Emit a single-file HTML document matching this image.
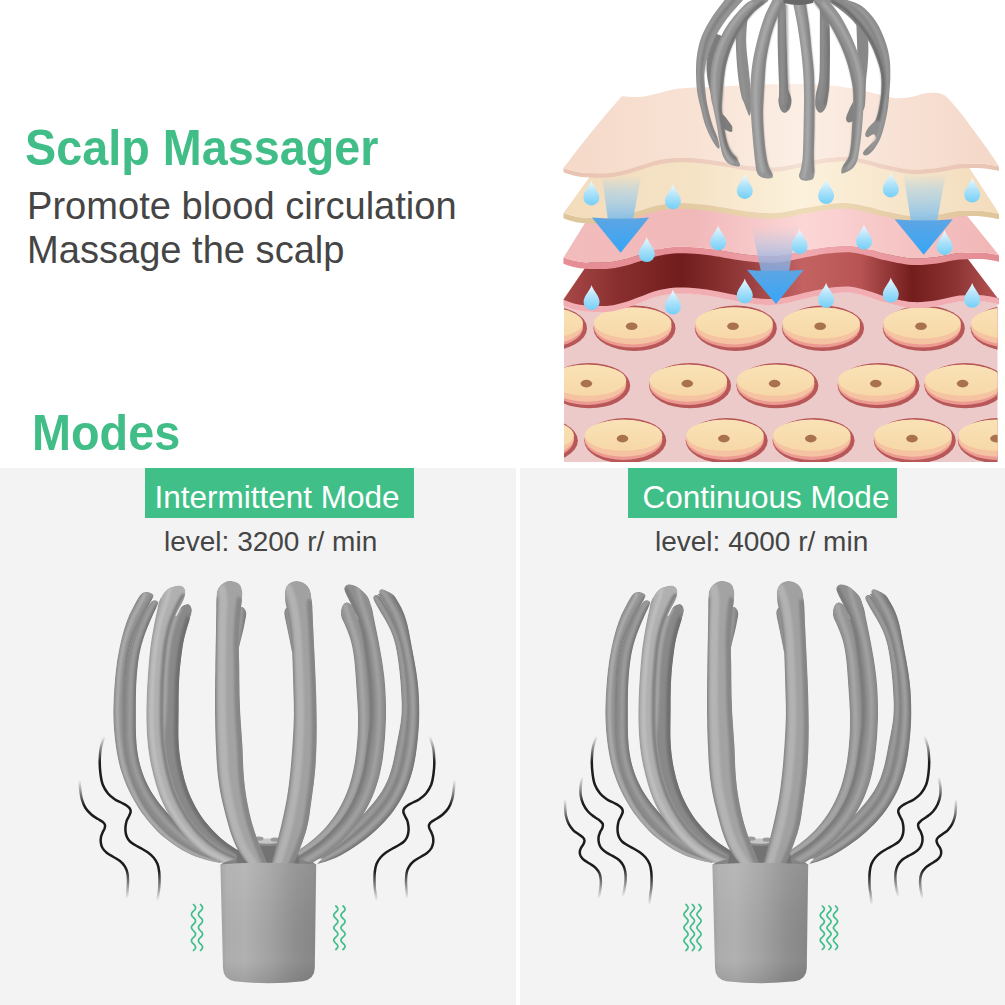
<!DOCTYPE html>
<html><head><meta charset="utf-8">
<style>
html,body{margin:0;padding:0;background:#fff;}
body{width:1005px;height:1005px;position:relative;overflow:hidden;font-family:"Liberation Sans",sans-serif;}
.abs{position:absolute;white-space:nowrap;line-height:1;transform-origin:0 0;}
.g{color:#41bd88;font-weight:bold;}
.d{color:#454545;}
.panel{position:absolute;background:#f3f3f3;top:468px;height:537px;}
.lab{position:absolute;background:#41bf88;top:468px;height:50px;}
.lt{color:#fff;font-size:31.5px;}
</style></head><body>
<div class="panel" style="left:0;width:516px"></div>
<div class="panel" style="left:520px;width:485px"></div>
<div class="abs g" style="left:25px;top:123px;font-size:50px;transform:scaleX(0.935)">Scalp Massager</div>
<div class="abs d" style="left:27px;top:187px;font-size:38.1px;">Promote blood circulation</div>
<div class="abs d" style="left:27px;top:230.5px;font-size:38.1px;">Massage the scalp</div>
<div class="abs g" style="left:32px;top:408px;font-size:50px;transform:scaleX(0.936)">Modes</div>
<div class="lab" style="left:145px;width:269px;"></div>
<div class="lab" style="left:628px;width:269px;"></div>
<div class="abs lt" style="left:154.5px;top:482px;">Intermittent Mode</div>
<div class="abs lt" style="left:642.5px;top:482px;">Continuous Mode</div>
<div class="abs d" style="left:164px;top:527.5px;font-size:28px;">level: 3200 r/ min</div>
<div class="abs d" style="left:655px;top:527.5px;font-size:28px;">level: 4000 r/ min</div>
<svg id="art" width="1005" height="1005" viewBox="0 0 1005 1005" style="position:absolute;left:0;top:0">
<defs>
<linearGradient id="gDrop" x1="0" y1="0" x2="0" y2="1"><stop offset="0" stop-color="#eefaff"/><stop offset="0.45" stop-color="#b3e4fa"/><stop offset="1" stop-color="#74cff8"/></linearGradient>
<linearGradient id="gHead" x1="0" y1="0" x2="0" y2="1"><stop offset="0" stop-color="#5ea5e2"/><stop offset="1" stop-color="#35a6f8"/></linearGradient>
<linearGradient id="gShaft" x1="0" y1="0" x2="0" y2="1"><stop offset="0" stop-color="#9ccdea" stop-opacity="0"/><stop offset="0.35" stop-color="#a5d0ea" stop-opacity="0.55"/><stop offset="1" stop-color="#86bfe8" stop-opacity="0.95"/></linearGradient>
<linearGradient id="gShaft3" x1="0" y1="0" x2="0" y2="1"><stop offset="0" stop-color="#c8c8e0" stop-opacity="0"/><stop offset="0.4" stop-color="#b8c4e4" stop-opacity="0.6"/><stop offset="1" stop-color="#7ea6dc" stop-opacity="0.95"/></linearGradient>
<linearGradient id="gRed" x1="564" y1="0" x2="999" y2="0" gradientUnits="userSpaceOnUse">
 <stop offset="0" stop-color="#a84848"/><stop offset="0.12" stop-color="#8a2f2f"/><stop offset="0.27" stop-color="#711d1d"/><stop offset="0.40" stop-color="#913838"/><stop offset="0.55" stop-color="#c46262"/><stop offset="0.68" stop-color="#b85454"/><stop offset="0.80" stop-color="#741d1d"/><stop offset="0.90" stop-color="#8c3333"/><stop offset="1" stop-color="#b85454"/></linearGradient>
<linearGradient id="gL1" x1="564" y1="0" x2="999" y2="0" gradientUnits="userSpaceOnUse"><stop offset="0" stop-color="#f5d9c9"/><stop offset="0.3" stop-color="#f8e2d4"/><stop offset="0.55" stop-color="#fcefe6"/><stop offset="0.8" stop-color="#f7dfd2"/><stop offset="1" stop-color="#f4d8c8"/></linearGradient>
<linearGradient id="gL2" x1="564" y1="0" x2="999" y2="0" gradientUnits="userSpaceOnUse"><stop offset="0" stop-color="#f3dcbc"/><stop offset="0.3" stop-color="#f5e3c6"/><stop offset="0.55" stop-color="#fcf1dc"/><stop offset="0.8" stop-color="#f6e4c8"/><stop offset="1" stop-color="#f3dcbc"/></linearGradient>
<linearGradient id="gL3" x1="564" y1="0" x2="999" y2="0" gradientUnits="userSpaceOnUse"><stop offset="0" stop-color="#f3bcbc"/><stop offset="0.3" stop-color="#f1b8ba"/><stop offset="0.55" stop-color="#fcd6d6"/><stop offset="0.8" stop-color="#f5c2c2"/><stop offset="1" stop-color="#f1b6b6"/></linearGradient>
<linearGradient id="gF1" x1="564" y1="0" x2="999" y2="0" gradientUnits="userSpaceOnUse"><stop offset="0" stop-color="#eac4b3"/><stop offset="0.3" stop-color="#eccbbb"/><stop offset="0.55" stop-color="#f4e0d4"/><stop offset="0.8" stop-color="#eccbbb"/><stop offset="1" stop-color="#e9c3b2"/></linearGradient>
<linearGradient id="gF2" x1="564" y1="0" x2="999" y2="0" gradientUnits="userSpaceOnUse"><stop offset="0" stop-color="#dfc59a"/><stop offset="0.3" stop-color="#e3cba2"/><stop offset="0.55" stop-color="#eedcb8"/><stop offset="0.8" stop-color="#e4cca4"/><stop offset="1" stop-color="#dfc59a"/></linearGradient>
<linearGradient id="gF3" x1="564" y1="0" x2="999" y2="0" gradientUnits="userSpaceOnUse"><stop offset="0" stop-color="#e58e96"/><stop offset="0.3" stop-color="#e68f97"/><stop offset="0.55" stop-color="#f0a9af"/><stop offset="0.8" stop-color="#e8949b"/><stop offset="1" stop-color="#e48c94"/></linearGradient>
<linearGradient id="gCell" x1="0" y1="0" x2="0" y2="1"><stop offset="0" stop-color="#f9e2b6"/><stop offset="1" stop-color="#f7d8a8"/></linearGradient>
<clipPath id="cBlock"><rect x="564" y="280" width="433.5" height="182"/></clipPath>
</defs>
<g clip-path="url(#cBlock)">
<path d="M563.5,305.5 C566.2,306.3 572.9,309.5 580.0,310.5 C587.1,311.6 598.8,312.0 606.0,311.6 C613.2,311.3 617.3,310.0 623.0,308.5 C628.7,307.0 634.4,304.5 640.0,302.5 C645.6,300.5 651.0,297.9 656.5,296.4 C662.0,294.9 667.4,293.9 673.0,293.4 C678.6,292.9 684.3,293.1 690.0,293.4 C695.7,293.7 701.3,294.5 707.0,295.3 C712.7,296.1 717.7,297.2 724.0,298.4 C730.3,299.6 738.2,301.5 745.0,302.5 C751.8,303.5 758.8,304.4 765.0,304.7 C771.2,304.9 775.4,304.9 782.0,303.8 C788.6,302.8 797.0,300.1 804.5,298.4 C812.0,296.8 819.6,294.9 827.0,293.9 C834.4,292.8 841.8,291.8 849.0,292.3 C856.2,292.8 864.0,295.5 870.0,297.1 C876.0,298.7 878.0,300.1 885.0,301.9 C892.0,303.7 903.3,307.0 912.0,307.7 C920.7,308.3 929.1,306.9 937.0,305.9 C944.9,304.8 952.0,302.1 959.5,301.3 C967.0,300.5 975.4,300.5 982.0,300.9 C988.6,301.4 996.2,303.5 999.0,304.1 L997.5,462 L564,462 Z" fill="#eccaca"/>
<ellipse cx="546.0" cy="328.3" rx="41" ry="22.7" fill="#b75757"/>
<ellipse cx="544.2" cy="327.5" rx="38.8" ry="20.1" fill="#ec9a92"/>
<ellipse cx="544.2" cy="325.9" rx="38.8" ry="18.5" fill="#f5c3a2"/>
<ellipse cx="544.2" cy="322.9" rx="38.8" ry="15.5" fill="url(#gCell)"/>
<ellipse cx="543.2" cy="326.3" rx="5.8" ry="3.8" fill="#a9724e"/>
<ellipse cx="634.5" cy="328.3" rx="41" ry="22.7" fill="#b75757"/>
<ellipse cx="632.7" cy="327.5" rx="38.8" ry="20.1" fill="#ec9a92"/>
<ellipse cx="632.7" cy="325.9" rx="38.8" ry="18.5" fill="#f5c3a2"/>
<ellipse cx="632.7" cy="322.9" rx="38.8" ry="15.5" fill="url(#gCell)"/>
<ellipse cx="631.7" cy="326.3" rx="5.8" ry="3.8" fill="#a9724e"/>
<ellipse cx="735.8" cy="328.3" rx="41" ry="22.7" fill="#b75757"/>
<ellipse cx="734.0" cy="327.5" rx="38.8" ry="20.1" fill="#ec9a92"/>
<ellipse cx="734.0" cy="325.9" rx="38.8" ry="18.5" fill="#f5c3a2"/>
<ellipse cx="734.0" cy="322.9" rx="38.8" ry="15.5" fill="url(#gCell)"/>
<ellipse cx="733.0" cy="326.3" rx="5.8" ry="3.8" fill="#a9724e"/>
<ellipse cx="823.0" cy="328.3" rx="41" ry="22.7" fill="#b75757"/>
<ellipse cx="821.2" cy="327.5" rx="38.8" ry="20.1" fill="#ec9a92"/>
<ellipse cx="821.2" cy="325.9" rx="38.8" ry="18.5" fill="#f5c3a2"/>
<ellipse cx="821.2" cy="322.9" rx="38.8" ry="15.5" fill="url(#gCell)"/>
<ellipse cx="820.2" cy="326.3" rx="5.8" ry="3.8" fill="#a9724e"/>
<ellipse cx="923.8" cy="328.3" rx="41" ry="22.7" fill="#b75757"/>
<ellipse cx="922.0" cy="327.5" rx="38.8" ry="20.1" fill="#ec9a92"/>
<ellipse cx="922.0" cy="325.9" rx="38.8" ry="18.5" fill="#f5c3a2"/>
<ellipse cx="922.0" cy="322.9" rx="38.8" ry="15.5" fill="url(#gCell)"/>
<ellipse cx="921.0" cy="326.3" rx="5.8" ry="3.8" fill="#a9724e"/>
<ellipse cx="1011.6" cy="328.3" rx="41" ry="22.7" fill="#b75757"/>
<ellipse cx="1009.8" cy="327.5" rx="38.8" ry="20.1" fill="#ec9a92"/>
<ellipse cx="1009.8" cy="325.9" rx="38.8" ry="18.5" fill="#f5c3a2"/>
<ellipse cx="1009.8" cy="322.9" rx="38.8" ry="15.5" fill="url(#gCell)"/>
<ellipse cx="1008.8" cy="326.3" rx="5.8" ry="3.8" fill="#a9724e"/>
<ellipse cx="589.2" cy="385.6" rx="41" ry="22.7" fill="#b75757"/>
<ellipse cx="587.4" cy="384.8" rx="38.8" ry="20.1" fill="#ec9a92"/>
<ellipse cx="587.4" cy="383.2" rx="38.8" ry="18.5" fill="#f5c3a2"/>
<ellipse cx="587.4" cy="380.2" rx="38.8" ry="15.5" fill="url(#gCell)"/>
<ellipse cx="586.4" cy="383.6" rx="5.8" ry="3.8" fill="#a9724e"/>
<ellipse cx="690.1" cy="385.6" rx="41" ry="22.7" fill="#b75757"/>
<ellipse cx="688.3" cy="384.8" rx="38.8" ry="20.1" fill="#ec9a92"/>
<ellipse cx="688.3" cy="383.2" rx="38.8" ry="18.5" fill="#f5c3a2"/>
<ellipse cx="688.3" cy="380.2" rx="38.8" ry="15.5" fill="url(#gCell)"/>
<ellipse cx="687.3" cy="383.6" rx="5.8" ry="3.8" fill="#a9724e"/>
<ellipse cx="777.4" cy="385.6" rx="41" ry="22.7" fill="#b75757"/>
<ellipse cx="775.6" cy="384.8" rx="38.8" ry="20.1" fill="#ec9a92"/>
<ellipse cx="775.6" cy="383.2" rx="38.8" ry="18.5" fill="#f5c3a2"/>
<ellipse cx="775.6" cy="380.2" rx="38.8" ry="15.5" fill="url(#gCell)"/>
<ellipse cx="774.6" cy="383.6" rx="5.8" ry="3.8" fill="#a9724e"/>
<ellipse cx="878.6" cy="385.6" rx="41" ry="22.7" fill="#b75757"/>
<ellipse cx="876.8" cy="384.8" rx="38.8" ry="20.1" fill="#ec9a92"/>
<ellipse cx="876.8" cy="383.2" rx="38.8" ry="18.5" fill="#f5c3a2"/>
<ellipse cx="876.8" cy="380.2" rx="38.8" ry="15.5" fill="url(#gCell)"/>
<ellipse cx="875.8" cy="383.6" rx="5.8" ry="3.8" fill="#a9724e"/>
<ellipse cx="965.4" cy="385.6" rx="41" ry="22.7" fill="#b75757"/>
<ellipse cx="963.6" cy="384.8" rx="38.8" ry="20.1" fill="#ec9a92"/>
<ellipse cx="963.6" cy="383.2" rx="38.8" ry="18.5" fill="#f5c3a2"/>
<ellipse cx="963.6" cy="380.2" rx="38.8" ry="15.5" fill="url(#gCell)"/>
<ellipse cx="962.6" cy="383.6" rx="5.8" ry="3.8" fill="#a9724e"/>
<ellipse cx="536.9" cy="440.6" rx="41" ry="22.7" fill="#b75757"/>
<ellipse cx="535.1" cy="439.8" rx="38.8" ry="20.1" fill="#ec9a92"/>
<ellipse cx="535.1" cy="438.2" rx="38.8" ry="18.5" fill="#f5c3a2"/>
<ellipse cx="535.1" cy="435.2" rx="38.8" ry="15.5" fill="url(#gCell)"/>
<ellipse cx="534.1" cy="438.6" rx="5.8" ry="3.8" fill="#a9724e"/>
<ellipse cx="625.3" cy="440.6" rx="41" ry="22.7" fill="#b75757"/>
<ellipse cx="623.5" cy="439.8" rx="38.8" ry="20.1" fill="#ec9a92"/>
<ellipse cx="623.5" cy="438.2" rx="38.8" ry="18.5" fill="#f5c3a2"/>
<ellipse cx="623.5" cy="435.2" rx="38.8" ry="15.5" fill="url(#gCell)"/>
<ellipse cx="622.5" cy="438.6" rx="5.8" ry="3.8" fill="#a9724e"/>
<ellipse cx="726.7" cy="440.6" rx="41" ry="22.7" fill="#b75757"/>
<ellipse cx="724.9" cy="439.8" rx="38.8" ry="20.1" fill="#ec9a92"/>
<ellipse cx="724.9" cy="438.2" rx="38.8" ry="18.5" fill="#f5c3a2"/>
<ellipse cx="724.9" cy="435.2" rx="38.8" ry="15.5" fill="url(#gCell)"/>
<ellipse cx="723.9" cy="438.6" rx="5.8" ry="3.8" fill="#a9724e"/>
<ellipse cx="813.6" cy="440.6" rx="41" ry="22.7" fill="#b75757"/>
<ellipse cx="811.8" cy="439.8" rx="38.8" ry="20.1" fill="#ec9a92"/>
<ellipse cx="811.8" cy="438.2" rx="38.8" ry="18.5" fill="#f5c3a2"/>
<ellipse cx="811.8" cy="435.2" rx="38.8" ry="15.5" fill="url(#gCell)"/>
<ellipse cx="810.8" cy="438.6" rx="5.8" ry="3.8" fill="#a9724e"/>
<ellipse cx="914.8" cy="440.6" rx="41" ry="22.7" fill="#b75757"/>
<ellipse cx="913.0" cy="439.8" rx="38.8" ry="20.1" fill="#ec9a92"/>
<ellipse cx="913.0" cy="438.2" rx="38.8" ry="18.5" fill="#f5c3a2"/>
<ellipse cx="913.0" cy="435.2" rx="38.8" ry="15.5" fill="url(#gCell)"/>
<ellipse cx="912.0" cy="438.6" rx="5.8" ry="3.8" fill="#a9724e"/>
<ellipse cx="998.8" cy="440.6" rx="41" ry="22.7" fill="#b75757"/>
<ellipse cx="997.0" cy="439.8" rx="38.8" ry="20.1" fill="#ec9a92"/>
<ellipse cx="997.0" cy="438.2" rx="38.8" ry="18.5" fill="#f5c3a2"/>
<ellipse cx="997.0" cy="435.2" rx="38.8" ry="15.5" fill="url(#gCell)"/>
<ellipse cx="996.0" cy="438.6" rx="5.8" ry="3.8" fill="#a9724e"/>
</g>
<path d="M563.5,305.8 C566.2,306.6 572.9,309.8 580.0,310.8 C587.1,311.9 598.8,312.3 606.0,311.9 C613.2,311.6 617.3,310.3 623.0,308.8 C628.7,307.3 634.4,304.8 640.0,302.8 C645.6,300.8 651.0,298.2 656.5,296.7 C662.0,295.2 667.4,294.2 673.0,293.7 C678.6,293.2 684.3,293.4 690.0,293.7 C695.7,294.0 701.3,294.8 707.0,295.6 C712.7,296.4 717.7,297.5 724.0,298.7 C730.3,299.9 738.2,301.8 745.0,302.8 C751.8,303.8 758.8,304.7 765.0,305.0 C771.2,305.2 775.4,305.2 782.0,304.1 C788.6,303.1 797.0,300.4 804.5,298.7 C812.0,297.1 819.6,295.2 827.0,294.2 C834.4,293.1 841.8,292.1 849.0,292.6 C856.2,293.1 864.0,295.8 870.0,297.4 C876.0,299.0 878.0,300.4 885.0,302.2 C892.0,304.0 903.3,307.3 912.0,308.0 C920.7,308.6 929.1,307.2 937.0,306.2 C944.9,305.1 952.0,302.4 959.5,301.6 C967.0,300.8 975.4,300.8 982.0,301.2 C988.6,301.7 996.2,303.8 999.0,304.4 L999,300 L961,250 L597.7,249.5 L563.5,299 Z" fill="#f1adb2"/>
<path d="M563.5,299.8 C566.2,300.6 572.9,303.8 580.0,304.8 C587.1,305.9 598.8,306.3 606.0,305.9 C613.2,305.6 617.3,304.3 623.0,302.8 C628.7,301.3 634.4,298.8 640.0,296.8 C645.6,294.8 651.0,292.2 656.5,290.7 C662.0,289.2 667.4,288.2 673.0,287.7 C678.6,287.2 684.3,287.4 690.0,287.7 C695.7,288.0 701.3,288.8 707.0,289.6 C712.7,290.4 717.7,291.5 724.0,292.7 C730.3,293.9 738.2,295.8 745.0,296.8 C751.8,297.8 758.8,298.7 765.0,299.0 C771.2,299.2 775.4,299.2 782.0,298.1 C788.6,297.1 797.0,294.4 804.5,292.7 C812.0,291.1 819.6,289.2 827.0,288.2 C834.4,287.1 841.8,286.1 849.0,286.6 C856.2,287.1 864.0,289.8 870.0,291.4 C876.0,293.0 878.0,294.4 885.0,296.2 C892.0,298.0 903.3,301.3 912.0,302.0 C920.7,302.6 929.1,301.2 937.0,300.2 C944.9,299.1 952.0,296.4 959.5,295.6 C967.0,294.8 975.4,294.8 982.0,295.2 C988.6,295.7 996.2,297.8 999.0,298.4 L999,300 L961,250 L597.7,249.5 Z" fill="url(#gRed)"/>
<path d="M563.5,257.5 C566.2,258.2 572.9,260.8 580.0,261.7 C587.1,262.5 598.8,262.8 606.0,262.5 C613.2,262.2 617.3,261.1 623.0,259.8 C628.7,258.6 634.4,256.5 640.0,254.8 C645.6,253.1 651.0,250.9 656.5,249.7 C662.0,248.4 667.4,247.6 673.0,247.1 C678.6,246.7 684.3,246.8 690.0,247.1 C695.7,247.3 701.3,248.0 707.0,248.6 C712.7,249.3 717.7,250.2 724.0,251.2 C730.3,252.2 738.2,253.7 745.0,254.5 C751.8,255.4 758.8,256.1 765.0,256.3 C771.2,256.5 775.4,256.4 782.0,255.5 C788.6,254.7 797.0,252.4 804.5,251.0 C812.0,249.6 819.6,248.0 827.0,247.1 C834.4,246.3 841.8,245.3 849.0,245.8 C856.2,246.2 864.0,248.4 870.0,249.7 C876.0,251.0 878.0,252.2 885.0,253.7 C892.0,255.1 903.3,257.9 912.0,258.4 C920.7,258.9 929.1,257.8 937.0,256.9 C944.9,256.0 952.0,253.7 959.5,253.0 C967.0,252.3 975.4,252.3 982.0,252.6 C988.6,253.0 996.2,254.8 999.0,255.2 L999.0,261.7 C996.2,261.3 988.6,259.5 982.0,259.1 C975.4,258.8 967.0,258.8 959.5,259.5 C952.0,260.2 944.9,262.5 937.0,263.4 C929.1,264.3 920.7,265.4 912.0,264.9 C903.3,264.4 892.0,261.6 885.0,260.2 C878.0,258.7 876.0,257.5 870.0,256.2 C864.0,254.9 856.2,252.7 849.0,252.3 C841.8,251.8 834.4,252.8 827.0,253.6 C819.6,254.5 812.0,256.1 804.5,257.5 C797.0,258.9 788.6,261.2 782.0,262.0 C775.4,262.9 771.2,263.0 765.0,262.8 C758.8,262.6 751.8,261.9 745.0,261.0 C738.2,260.2 730.3,258.7 724.0,257.7 C717.7,256.7 712.7,255.8 707.0,255.1 C701.3,254.5 695.7,253.8 690.0,253.6 C684.3,253.3 678.6,253.2 673.0,253.6 C667.4,254.1 662.0,254.9 656.5,256.2 C651.0,257.4 645.6,259.6 640.0,261.3 C634.4,263.0 628.7,265.1 623.0,266.3 C617.3,267.6 613.2,268.7 606.0,269.0 C598.8,269.3 587.1,269.0 580.0,268.2 C572.9,267.3 566.2,264.7 563.5,264.0 Z" fill="url(#gF3)"/>
<path d="M563.5,257.5 C566.2,258.2 572.9,260.8 580.0,261.7 C587.1,262.5 598.8,262.8 606.0,262.5 C613.2,262.2 617.3,261.1 623.0,259.8 C628.7,258.6 634.4,256.5 640.0,254.8 C645.6,253.1 651.0,250.9 656.5,249.7 C662.0,248.4 667.4,247.6 673.0,247.1 C678.6,246.7 684.3,246.8 690.0,247.1 C695.7,247.3 701.3,248.0 707.0,248.6 C712.7,249.3 717.7,250.2 724.0,251.2 C730.3,252.2 738.2,253.7 745.0,254.5 C751.8,255.4 758.8,256.1 765.0,256.3 C771.2,256.5 775.4,256.4 782.0,255.5 C788.6,254.7 797.0,252.4 804.5,251.0 C812.0,249.6 819.6,248.0 827.0,247.1 C834.4,246.3 841.8,245.3 849.0,245.8 C856.2,246.2 864.0,248.4 870.0,249.7 C876.0,251.0 878.0,252.2 885.0,253.7 C892.0,255.1 903.3,257.9 912.0,258.4 C920.7,258.9 929.1,257.8 937.0,256.9 C944.9,256.0 952.0,253.7 959.5,253.0 C967.0,252.3 975.4,252.3 982.0,252.6 C988.6,253.0 996.2,254.8 999.0,255.2 L951.0,196.0 L601.5,196.5 Z" fill="url(#gL3)"/>
<path d="M563.5,213.0 C566.2,213.7 572.9,216.4 580.0,217.3 C587.1,218.1 598.8,218.5 606.0,218.3 C613.2,218.0 617.3,217.0 623.0,215.7 C628.7,214.5 634.4,212.5 640.0,210.8 C645.6,209.2 651.0,207.0 656.5,205.8 C662.0,204.5 667.4,203.7 673.0,203.4 C678.6,203.0 684.3,203.1 690.0,203.4 C695.7,203.7 701.3,204.4 707.0,205.1 C712.7,205.8 717.7,206.7 724.0,207.8 C730.3,208.8 738.2,210.4 745.0,211.3 C751.8,212.1 758.8,212.9 765.0,213.1 C771.2,213.3 775.4,213.3 782.0,212.5 C788.6,211.7 797.0,209.4 804.5,208.1 C812.0,206.7 819.6,205.2 827.0,204.4 C834.4,203.6 841.8,202.7 849.0,203.2 C856.2,203.7 864.0,205.9 870.0,207.3 C876.0,208.6 878.0,209.8 885.0,211.3 C892.0,212.8 903.3,215.7 912.0,216.2 C920.7,216.8 929.1,215.7 937.0,214.8 C944.9,214.0 952.0,211.8 959.5,211.1 C967.0,210.5 975.4,210.5 982.0,210.9 C988.6,211.3 996.2,213.2 999.0,213.6 L999.0,219.1 C996.2,218.7 988.6,216.8 982.0,216.4 C975.4,216.0 967.0,216.0 959.5,216.6 C952.0,217.3 944.9,219.5 937.0,220.3 C929.1,221.2 920.7,222.3 912.0,221.7 C903.3,221.2 892.0,218.3 885.0,216.8 C878.0,215.3 876.0,214.1 870.0,212.8 C864.0,211.4 856.2,209.2 849.0,208.7 C841.8,208.2 834.4,209.1 827.0,209.9 C819.6,210.7 812.0,212.2 804.5,213.6 C797.0,214.9 788.6,217.2 782.0,218.0 C775.4,218.8 771.2,218.8 765.0,218.6 C758.8,218.4 751.8,217.6 745.0,216.8 C738.2,215.9 730.3,214.3 724.0,213.3 C717.7,212.2 712.7,211.3 707.0,210.6 C701.3,209.9 695.7,209.2 690.0,208.9 C684.3,208.6 678.6,208.5 673.0,208.9 C667.4,209.2 662.0,210.0 656.5,211.3 C651.0,212.5 645.6,214.7 640.0,216.3 C634.4,218.0 628.7,220.0 623.0,221.2 C617.3,222.5 613.2,223.5 606.0,223.8 C598.8,224.0 587.1,223.6 580.0,222.8 C572.9,221.9 566.2,219.2 563.5,218.5 Z" fill="url(#gF2)"/>
<path d="M563.5,213.0 C566.2,213.7 572.9,216.4 580.0,217.3 C587.1,218.1 598.8,218.5 606.0,218.3 C613.2,218.0 617.3,217.0 623.0,215.7 C628.7,214.5 634.4,212.5 640.0,210.8 C645.6,209.2 651.0,207.0 656.5,205.8 C662.0,204.5 667.4,203.7 673.0,203.4 C678.6,203.0 684.3,203.1 690.0,203.4 C695.7,203.7 701.3,204.4 707.0,205.1 C712.7,205.8 717.7,206.7 724.0,207.8 C730.3,208.8 738.2,210.4 745.0,211.3 C751.8,212.1 758.8,212.9 765.0,213.1 C771.2,213.3 775.4,213.3 782.0,212.5 C788.6,211.7 797.0,209.4 804.5,208.1 C812.0,206.7 819.6,205.2 827.0,204.4 C834.4,203.6 841.8,202.7 849.0,203.2 C856.2,203.7 864.0,205.9 870.0,207.3 C876.0,208.6 878.0,209.8 885.0,211.3 C892.0,212.8 903.3,215.7 912.0,216.2 C920.7,216.8 929.1,215.7 937.0,214.8 C944.9,214.0 952.0,211.8 959.5,211.1 C967.0,210.5 975.4,210.5 982.0,210.9 C988.6,211.3 996.2,213.2 999.0,213.6 L959.0,152.0 L608.5,151.0 Z" fill="url(#gL2)"/>
<!--ARROWS-->
<path d="M602.0,176.0 L641.0,176.0 L633.2,219.0 L607.8,219.0 Z" fill="url(#gShaft)"/>
<path d="M591.9,217.4 Q620.5,219.9 649.1,217.4 L620.6,252.8 Z" fill="url(#gHead)"/>
<path d="M903.3,174.0 L945.6,174.0 L937.1,221.0 L911.0,221.0 Z" fill="url(#gShaft)"/>
<path d="M894.6,219.2 Q923.7,221.7 952.8,219.2 L923.7,254.7 Z" fill="url(#gHead)"/>
<path d="M751.5,226.0 L797.0,226.0 L789.0,271.5 L761.0,271.5 Z" fill="url(#gShaft3)"/>
<path d="M747.0,269.8 Q775.4,272.3 803.7,269.8 L776.0,304.0 Z" fill="url(#gHead)"/>
<path d="M563.5,168.1 C566.2,168.8 572.9,171.4 580.0,172.3 C587.1,173.1 598.8,173.4 606.0,173.2 C613.2,172.9 617.3,171.8 623.0,170.5 C628.7,169.3 634.4,167.2 640.0,165.5 C645.6,163.8 651.0,161.7 656.5,160.4 C662.0,159.1 667.4,158.3 673.0,157.9 C678.6,157.5 684.3,157.6 690.0,157.9 C695.7,158.1 701.3,158.7 707.0,159.4 C712.7,160.1 717.7,161.0 724.0,162.0 C730.3,163.0 738.2,164.5 745.0,165.4 C751.8,166.3 758.8,167.0 765.0,167.2 C771.2,167.3 775.4,167.3 782.0,166.4 C788.6,165.6 797.0,163.3 804.5,161.9 C812.0,160.5 819.6,159.0 827.0,158.1 C834.4,157.2 841.8,156.3 849.0,156.8 C856.2,157.2 864.0,159.4 870.0,160.7 C876.0,162.1 878.0,163.3 885.0,164.7 C892.0,166.2 903.3,169.0 912.0,169.5 C920.7,170.0 929.1,168.9 937.0,168.0 C944.9,167.1 952.0,164.8 959.5,164.1 C967.0,163.5 975.4,163.4 982.0,163.8 C988.6,164.2 996.2,166.0 999.0,166.4 L999.0,170.9 C996.2,170.5 988.6,168.7 982.0,168.3 C975.4,167.9 967.0,168.0 959.5,168.6 C952.0,169.3 944.9,171.6 937.0,172.5 C929.1,173.4 920.7,174.5 912.0,174.0 C903.3,173.5 892.0,170.7 885.0,169.2 C878.0,167.8 876.0,166.6 870.0,165.2 C864.0,163.9 856.2,161.7 849.0,161.3 C841.8,160.8 834.4,161.7 827.0,162.6 C819.6,163.5 812.0,165.0 804.5,166.4 C797.0,167.8 788.6,170.1 782.0,170.9 C775.4,171.8 771.2,171.8 765.0,171.7 C758.8,171.5 751.8,170.8 745.0,169.9 C738.2,169.0 730.3,167.5 724.0,166.5 C717.7,165.5 712.7,164.6 707.0,163.9 C701.3,163.2 695.7,162.6 690.0,162.4 C684.3,162.1 678.6,162.0 673.0,162.4 C667.4,162.8 662.0,163.6 656.5,164.9 C651.0,166.2 645.6,168.3 640.0,170.0 C634.4,171.7 628.7,173.8 623.0,175.0 C617.3,176.3 613.2,177.4 606.0,177.7 C598.8,177.9 587.1,177.6 580.0,176.8 C572.9,175.9 566.2,173.3 563.5,172.6 Z" fill="url(#gF1)"/>
<path d="M563.5,168.1 C566.2,168.8 572.9,171.4 580.0,172.3 C587.1,173.1 598.8,173.4 606.0,173.2 C613.2,172.9 617.3,171.8 623.0,170.5 C628.7,169.3 634.4,167.2 640.0,165.5 C645.6,163.8 651.0,161.7 656.5,160.4 C662.0,159.1 667.4,158.3 673.0,157.9 C678.6,157.5 684.3,157.6 690.0,157.9 C695.7,158.1 701.3,158.7 707.0,159.4 C712.7,160.1 717.7,161.0 724.0,162.0 C730.3,163.0 738.2,164.5 745.0,165.4 C751.8,166.3 758.8,167.0 765.0,167.2 C771.2,167.3 775.4,167.3 782.0,166.4 C788.6,165.6 797.0,163.3 804.5,161.9 C812.0,160.5 819.6,159.0 827.0,158.1 C834.4,157.2 841.8,156.3 849.0,156.8 C856.2,157.2 864.0,159.4 870.0,160.7 C876.0,162.1 878.0,163.3 885.0,164.7 C892.0,166.2 903.3,169.0 912.0,169.5 C920.7,170.0 929.1,168.9 937.0,168.0 C944.9,167.1 952.0,164.8 959.5,164.1 C967.0,163.5 975.4,163.4 982.0,163.8 C988.6,164.2 996.2,166.0 999.0,166.4 Q990,152 970.3,125.8 Q958,108 945.0,95.4 C943.6,95.0 940.2,93.1 936.5,92.8 C932.8,92.5 927.2,93.0 923.0,93.7 C918.8,94.4 915.8,96.3 911.0,97.0 C906.2,97.7 901.2,98.7 894.2,97.9 C887.2,97.1 875.8,93.5 868.8,92.0 C861.8,90.5 857.6,89.6 852.0,88.6 C846.4,87.6 843.7,86.8 835.0,86.0 C826.3,85.2 812.5,84.2 800.0,84.0 C787.5,83.8 773.3,84.1 760.0,84.5 C746.7,84.9 731.6,86.0 720.0,86.5 C708.4,87.0 698.1,87.3 690.3,87.8 C682.5,88.3 679.0,88.5 673.4,89.5 C667.8,90.5 662.1,92.5 656.5,93.7 C650.9,95.0 645.4,96.6 639.6,97.0 C633.8,97.4 624.8,96.3 621.8,96.2 Q590,132 563.5,168.1 Z" fill="url(#gL1)"/>
<!--DROPS-->
<path d="M591.4,180.4 C592.6,185.4 599.4,191.4 599.4,197.4 A8.0,8.0 0 0 1 583.4,197.4 C583.4,191.4 590.2,185.4 591.4,180.4 Z" fill="url(#gDrop)"/>
<path d="M672.9,184.3 C674.1,189.3 680.9,195.3 680.9,201.3 A8.0,8.0 0 0 1 664.9,201.3 C664.9,195.3 671.7,189.3 672.9,184.3 Z" fill="url(#gDrop)"/>
<path d="M744.8,173.9 C746.0,178.9 752.8,184.9 752.8,190.9 A8.0,8.0 0 0 1 736.8,190.9 C736.8,184.9 743.6,178.9 744.8,173.9 Z" fill="url(#gDrop)"/>
<path d="M826.1,179.1 C827.3,184.1 834.1,190.1 834.1,196.1 A8.0,8.0 0 0 1 818.1,196.1 C818.1,190.1 824.9,184.1 826.1,179.1 Z" fill="url(#gDrop)"/>
<path d="M890.8,172.4 C892.0,177.4 898.8,183.4 898.8,189.4 A8.0,8.0 0 0 1 882.8,189.4 C882.8,183.4 889.6,177.4 890.8,172.4 Z" fill="url(#gDrop)"/>
<path d="M972.2,177.6 C973.4,182.6 980.2,188.6 980.2,194.6 A8.0,8.0 0 0 1 964.2,194.6 C964.2,188.6 971.0,182.6 972.2,177.6 Z" fill="url(#gDrop)"/>
<path d="M646.8,237.0 C648.0,242.0 654.8,248.0 654.8,254.0 A8.0,8.0 0 0 1 638.8,254.0 C638.8,248.0 645.6,242.0 646.8,237.0 Z" fill="url(#gDrop)"/>
<path d="M718.2,225.4 C719.4,230.4 726.2,236.4 726.2,242.4 A8.0,8.0 0 0 1 710.2,242.4 C710.2,236.4 717.0,230.4 718.2,225.4 Z" fill="url(#gDrop)"/>
<path d="M799.7,229.1 C800.9,234.1 807.7,240.1 807.7,246.1 A8.0,8.0 0 0 1 791.7,246.1 C791.7,240.1 798.5,234.1 799.7,229.1 Z" fill="url(#gDrop)"/>
<path d="M864.0,224.6 C865.2,229.6 872.0,235.6 872.0,241.6 A8.0,8.0 0 0 1 856.0,241.6 C856.0,235.6 862.8,229.6 864.0,224.6 Z" fill="url(#gDrop)"/>
<path d="M944.6,229.9 C945.8,234.9 952.6,240.9 952.6,246.9 A8.0,8.0 0 0 1 936.6,246.9 C936.6,240.9 943.4,234.9 944.6,229.9 Z" fill="url(#gDrop)"/>
<path d="M591.6,285.0 C592.8,290.0 599.6,296.0 599.6,302.0 A8.0,8.0 0 0 1 583.6,302.0 C583.6,296.0 590.4,290.0 591.6,285.0 Z" fill="url(#gDrop)"/>
<path d="M672.9,289.6 C674.1,294.6 680.9,300.6 680.9,306.6 A8.0,8.0 0 0 1 664.9,306.6 C664.9,300.6 671.7,294.6 672.9,289.6 Z" fill="url(#gDrop)"/>
<path d="M744.8,278.4 C746.0,283.4 752.8,289.4 752.8,295.4 A8.0,8.0 0 0 1 736.8,295.4 C736.8,289.4 743.6,283.4 744.8,278.4 Z" fill="url(#gDrop)"/>
<path d="M826.1,282.8 C827.3,287.8 834.1,293.8 834.1,299.8 A8.0,8.0 0 0 1 818.1,299.8 C818.1,293.8 824.9,287.8 826.1,282.8 Z" fill="url(#gDrop)"/>
<path d="M890.8,277.6 C892.0,282.6 898.8,288.6 898.8,294.6 A8.0,8.0 0 0 1 882.8,294.6 C882.8,288.6 889.6,282.6 890.8,277.6 Z" fill="url(#gDrop)"/>
<path d="M972.2,282.8 C973.4,287.8 980.2,293.8 980.2,299.8 A8.0,8.0 0 0 1 964.2,299.8 C964.2,293.8 971.0,287.8 972.2,282.8 Z" fill="url(#gDrop)"/>
<!--TOPMASSAGER-->
<defs><filter id="fbt" x="-30%" y="-10%" width="160%" height="120%"><feGaussianBlur stdDeviation="0.8"/></filter></defs>
<g id="topmass">
<path d="M777.8,0.0 C777.8,8.0 777.6,33.9 777.8,47.8 C778.0,61.7 778.8,75.6 779.0,83.6 C779.2,91.5 779.1,92.5 779.0,95.5 C778.9,98.5 778.1,99.1 778.4,101.5 C778.7,103.9 779.5,108.0 780.7,109.9 C781.9,111.8 783.9,113.2 785.5,112.8 C787.1,112.4 789.3,109.8 790.3,107.5 C791.3,105.2 791.8,101.9 791.5,99.1 C791.2,96.3 789.1,93.3 788.5,90.7 C787.9,88.1 788.2,90.8 787.9,83.6 C787.6,76.4 787.1,61.7 786.7,47.8 C786.3,33.9 785.7,8.0 785.5,0.0 Z" fill="#868686" />
<path d="M781.0,5.0 C781.1,12.5 781.2,35.8 781.5,50.0 C781.8,64.2 782.3,81.0 782.5,90.0 C782.7,99.0 782.5,101.7 782.5,104.0" fill="none" stroke="#959595" stroke-width="2.2" stroke-linecap="round" opacity="0.80" filter="url(#fbt)"/>
<path d="M786.3,5.0 C786.4,14.2 786.7,46.2 787.0,60.0 C787.3,73.8 787.6,81.3 788.0,88.0 C788.4,94.7 789.7,96.5 789.5,100.0 C789.3,103.5 787.4,107.5 787.0,109.0" fill="none" stroke="#666" stroke-width="1.8" stroke-linecap="round" opacity="0.80" filter="url(#fbt)"/>
<path d="M819.9,8.0 C819.9,14.6 820.0,36.2 819.9,47.8 C819.8,59.4 820.0,69.6 819.3,77.6 C818.6,85.5 816.3,90.5 815.7,95.5 C815.1,100.5 814.9,104.6 815.7,107.5 C816.5,110.4 818.7,112.8 820.4,112.8 C822.1,112.8 824.5,110.4 825.8,107.5 C827.1,104.6 827.6,99.5 828.2,95.5 C828.8,91.5 829.1,91.5 829.4,83.6 C829.7,75.6 830.0,58.4 830.0,47.8 C830.0,37.2 829.5,24.6 829.4,20.0 Z" fill="#868686" />
<path d="M822.5,20.0 C822.5,26.7 822.7,49.2 822.5,60.0 C822.3,70.8 822.2,78.3 821.5,85.0 C820.8,91.7 819.0,97.5 818.5,100.0" fill="none" stroke="#959595" stroke-width="2.2" stroke-linecap="round" opacity="0.80" filter="url(#fbt)"/>
<path d="M828.0,28.0 C828.1,33.3 828.6,50.0 828.5,60.0 C828.4,70.0 828.1,80.7 827.5,88.0 C826.9,95.3 825.4,101.3 825.0,104.0" fill="none" stroke="#666" stroke-width="1.8" stroke-linecap="round" opacity="0.80" filter="url(#fbt)"/>
<path d="M737.0,18.0 C736.8,22.0 735.7,32.5 735.8,41.8 C735.9,51.1 736.9,64.8 737.8,73.7 C738.7,82.7 740.3,90.8 741.3,95.5 C742.3,100.2 742.7,99.2 743.7,101.9 C744.7,104.6 746.4,109.2 747.3,111.5 C748.2,113.8 748.7,116.0 749.3,115.7 C749.9,115.5 750.7,113.5 751.0,110.0 C751.3,106.5 751.3,101.0 751.0,95.0 C750.7,89.0 750.0,82.6 749.2,73.7 C748.4,64.8 746.4,51.8 746.2,41.8 C746.0,31.8 747.7,18.6 748.0,14.0 Z" fill="#8c8c8c" />
<path d="M740.0,30.0 C739.9,33.3 739.2,42.5 739.5,50.0 C739.8,57.5 740.6,66.7 741.5,75.0 C742.4,83.3 744.4,95.8 745.0,100.0" fill="none" stroke="#989898" stroke-width="2.5" stroke-linecap="round" opacity="0.80" filter="url(#fbt)"/>
<path d="M715.7,33.4 C714.4,36.8 709.4,47.3 707.9,53.7 C706.4,60.1 706.4,65.6 706.7,71.6 C707.0,77.6 708.2,83.6 709.7,89.6 C711.2,95.6 713.6,101.5 715.7,107.5 C717.8,113.5 720.3,122.0 722.2,125.8 C724.1,129.7 725.4,129.6 727.0,130.6 C728.6,131.6 730.9,132.2 731.8,131.8 C732.7,131.5 732.3,129.5 732.3,128.5 C732.3,127.5 732.9,127.6 731.8,125.8 C730.7,124.0 727.8,120.1 725.8,117.5 C723.8,114.9 721.5,114.0 719.9,110.3 C718.3,106.5 717.0,100.9 716.0,95.0 C715.0,89.1 714.2,81.7 714.0,75.0 C713.8,68.3 713.7,61.5 715.0,55.0 C716.3,48.5 720.8,39.2 722.0,36.0 Z" fill="#7c7c7c" />
<path d="M856.3,21.0 C857.2,21.8 859.9,23.1 861.8,25.9 C863.6,28.7 866.3,33.9 867.4,37.9 C868.5,41.9 868.4,45.2 868.4,49.8 C868.4,54.4 868.0,60.4 867.6,65.7 C867.2,71.0 866.5,74.6 866.0,81.6 C865.5,88.6 865.8,103.3 864.5,107.5 C863.2,111.7 859.2,114.9 858.0,107.0 C856.8,99.1 857.7,70.9 857.5,60.0 C857.3,49.1 857.1,44.8 857.0,41.8 Z" fill="#888888" />
<path d="M853.5,101.0 C852.8,102.5 850.2,107.1 849.0,110.0 C847.8,112.9 846.1,116.4 846.0,118.5 C845.9,120.6 847.2,122.1 848.5,122.5 C849.8,122.9 853.1,121.2 854.0,121.0 Z" fill="#828282" />
<path d="M724.6,0.0 C722.4,3.0 715.3,11.9 711.5,17.9 C707.7,23.9 704.3,29.8 701.9,35.8 C699.5,41.8 698.2,47.7 697.2,53.7 C696.2,59.7 696.0,65.2 696.0,71.6 C696.0,78.0 696.4,86.0 697.2,92.0 C698.0,98.0 699.3,102.3 700.7,107.9 C702.1,113.5 703.5,120.2 705.5,125.8 C707.5,131.4 710.6,137.5 712.7,141.3 C714.8,145.1 717.0,147.7 718.1,148.5 C719.2,149.3 719.7,147.8 719.6,146.0 C719.5,144.2 718.6,141.2 717.5,137.8 C716.4,134.4 714.3,130.8 712.7,125.8 C711.1,120.8 709.1,113.5 707.9,107.9 C706.7,102.3 706.1,98.0 705.5,92.0 C704.9,86.0 704.0,78.0 704.5,71.6 C705.0,65.2 706.6,59.7 708.5,53.7 C710.4,47.7 712.9,41.8 716.0,35.8 C719.1,29.8 722.9,24.0 727.4,18.0 C731.9,12.0 740.4,3.0 743.0,0.0 Z" fill="#909090" />
<path d="M729.0,0.0 C726.6,3.0 718.5,12.0 714.5,18.0 C710.5,24.0 707.4,30.0 705.0,36.0 C702.6,42.0 701.3,48.0 700.3,54.0 C699.3,60.0 699.2,65.7 699.2,72.0 C699.2,78.3 699.7,86.0 700.5,92.0 C701.3,98.0 702.6,102.3 704.0,108.0 C705.4,113.7 707.2,120.7 709.0,126.0 C710.8,131.3 714.0,137.7 715.0,140.0" fill="none" stroke="#a0a0a0" stroke-width="2.2" stroke-linecap="round" opacity="0.90" filter="url(#fbt)"/>
<path d="M734.0,0.0 C731.5,3.0 723.2,12.0 719.0,18.0 C714.8,24.0 711.1,30.0 708.5,36.0 C705.9,42.0 704.7,48.0 703.5,54.0 C702.3,60.0 701.4,65.7 701.2,72.0 C701.0,78.3 701.7,86.0 702.5,92.0 C703.3,98.0 704.6,102.3 706.0,108.0 C707.4,113.7 709.2,120.8 711.0,126.0 C712.8,131.2 715.6,136.8 716.5,139.0" fill="none" stroke="#707070" stroke-width="1.3" stroke-linecap="round" opacity="0.90" filter="url(#fbt)"/>
<path d="M740.0,0.0 C737.4,3.0 728.9,12.0 724.5,18.0 C720.1,24.0 716.4,30.0 713.5,36.0 C710.6,42.0 708.6,48.0 707.0,54.0 C705.4,60.0 704.3,69.0 703.8,72.0" fill="none" stroke="#9a9a9a" stroke-width="2.0" stroke-linecap="round" opacity="0.80" filter="url(#fbt)"/>
<path d="M847.3,0.0 C849.7,1.0 856.8,2.4 861.6,6.0 C866.4,9.6 872.0,15.5 876.0,21.5 C880.0,27.5 883.2,35.4 885.5,41.8 C887.8,48.2 888.9,53.7 889.7,59.7 C890.5,65.7 890.3,72.2 890.3,77.6 C890.2,83.0 889.8,87.0 889.4,92.0 C889.0,97.0 888.8,102.3 887.9,107.9 C887.0,113.5 885.7,120.4 884.3,125.8 C882.9,131.2 881.4,136.1 879.6,140.1 C877.8,144.1 875.6,147.2 873.6,149.7 C871.6,152.2 869.3,154.3 867.6,155.1 C865.9,155.9 864.0,155.2 863.4,154.5 C862.8,153.8 862.7,152.7 864.0,150.9 C865.3,149.1 869.2,145.7 871.2,143.7 C873.2,141.7 875.6,140.6 876.0,139.0 C876.4,137.4 875.0,134.5 873.6,134.2 C872.2,133.9 869.0,137.2 867.6,137.2 C866.2,137.2 865.0,135.9 865.2,134.2 C865.4,132.5 867.1,129.4 868.8,127.0 C870.5,124.6 873.7,123.1 875.4,119.9 C877.1,116.7 878.0,112.6 879.0,107.9 C880.0,103.2 880.9,97.7 881.2,92.0 C881.5,86.3 881.7,79.4 880.9,73.7 C880.1,68.0 878.2,63.1 876.2,57.8 C874.2,52.5 872.2,47.1 869.0,41.8 C865.8,36.5 860.2,29.9 857.0,25.9 C853.8,21.9 853.2,21.0 850.0,18.0 C846.8,15.0 842.0,11.0 838.0,8.0 C834.0,5.0 828.0,1.3 826.0,0.0 Z" fill="#8e8e8e" />
<path d="M845.0,2.0 C847.5,3.3 855.5,6.3 860.0,10.0 C864.5,13.7 868.5,18.5 872.0,24.0 C875.5,29.5 878.7,36.7 881.0,43.0 C883.3,49.3 885.0,55.8 886.0,62.0 C887.0,68.2 887.1,73.7 887.0,80.0 C886.9,86.3 886.2,93.3 885.5,100.0 C884.8,106.7 883.9,113.7 882.5,120.0 C881.1,126.3 879.1,133.2 877.0,138.0 C874.9,142.8 871.2,147.2 870.0,149.0" fill="none" stroke="#9e9e9e" stroke-width="2.4" stroke-linecap="round" opacity="0.90" filter="url(#fbt)"/>
<path d="M832.0,1.0 C834.2,2.3 841.2,6.0 845.0,9.0 C848.8,12.0 852.2,16.0 855.0,19.0 C857.8,22.0 859.1,23.0 862.0,27.0 C864.9,31.0 869.7,37.7 872.5,43.0 C875.3,48.3 877.3,53.7 879.0,59.0 C880.7,64.3 882.1,69.5 882.8,75.0 C883.5,80.5 883.4,86.2 883.0,92.0 C882.6,97.8 881.3,105.3 880.5,110.0 C879.7,114.7 878.4,118.3 878.0,120.0" fill="none" stroke="#5f5f5f" stroke-width="2.6" stroke-linecap="round" opacity="0.90" filter="url(#fbt)"/>
<path d="M841.0,1.0 C843.3,2.3 850.7,5.5 855.0,9.0 C859.3,12.5 863.3,16.5 867.0,22.0 C870.7,27.5 874.3,35.7 877.0,42.0 C879.7,48.3 881.6,54.0 883.0,60.0 C884.4,66.0 885.2,72.0 885.5,78.0 C885.8,84.0 884.9,93.0 884.8,96.0" fill="none" stroke="#777" stroke-width="1.2" stroke-linecap="round" opacity="0.80" filter="url(#fbt)"/>
<path d="M747.3,2.4 C745.7,4.0 741.4,7.7 737.8,11.9 C734.2,16.1 729.4,21.5 725.8,27.5 C722.2,33.5 718.7,41.4 716.3,47.8 C713.9,54.2 712.5,59.7 711.5,65.7 C710.5,71.7 710.4,78.2 710.3,83.6 C710.2,89.0 710.5,94.0 711.0,98.0 C711.5,102.0 712.3,103.3 713.3,107.9 C714.3,112.5 715.8,119.8 716.9,125.8 C718.0,131.8 718.8,138.5 719.9,143.7 C721.0,148.9 721.8,153.5 723.4,156.9 C725.0,160.3 727.0,162.4 729.4,164.0 C731.8,165.6 736.0,166.3 737.8,166.4 C739.6,166.5 740.2,165.9 740.0,164.5 C739.8,163.1 738.1,160.2 736.6,158.1 C735.1,156.0 732.8,154.9 731.2,152.1 C729.6,149.3 728.2,145.7 727.0,141.3 C725.8,136.9 724.9,131.4 724.0,125.8 C723.1,120.2 722.1,112.5 721.8,107.9 C721.5,103.3 721.9,102.0 722.2,98.0 C722.5,94.0 722.9,89.0 723.5,83.6 C724.1,78.2 724.7,71.7 726.0,65.7 C727.3,59.7 729.2,53.6 731.5,47.8 C733.8,42.0 736.3,36.9 740.0,31.0 C743.7,25.1 748.8,17.7 753.5,12.5 C758.2,7.3 768.8,2.1 768.5,0.0 C768.2,-2.1 754.8,0.0 752.0,0.0 Z" fill="#929292" />
<path d="M752.0,3.0 C750.2,4.7 744.8,8.7 741.0,13.0 C737.2,17.3 733.0,23.1 729.5,29.0 C726.0,34.9 722.4,42.3 720.0,48.5 C717.6,54.7 716.3,60.1 715.3,66.0 C714.3,71.9 714.1,78.3 714.0,84.0 C713.9,89.7 714.3,95.3 714.8,100.0 C715.3,104.7 716.0,107.0 717.0,112.0 C718.0,117.0 719.4,124.3 720.5,130.0 C721.6,135.7 722.4,141.5 723.5,146.0 C724.6,150.5 725.6,154.2 727.0,157.0 C728.4,159.8 731.2,162.0 732.0,163.0" fill="none" stroke="#adadad" stroke-width="3.0" stroke-linecap="round" opacity="0.85" filter="url(#fbt)"/>
<path d="M763.0,2.0 C760.8,4.0 754.2,9.2 750.0,14.0 C745.8,18.8 741.0,25.2 737.5,31.0 C734.0,36.8 731.2,42.7 729.0,48.5 C726.8,54.3 725.2,60.1 724.0,66.0 C722.8,71.9 722.3,78.3 721.8,84.0 C721.3,89.7 721.0,95.7 720.8,100.0 C720.5,104.3 720.0,105.5 720.3,110.0 C720.6,114.5 721.6,121.7 722.5,127.0 C723.4,132.3 724.2,137.8 725.5,142.0 C726.8,146.2 728.2,149.2 730.0,152.0 C731.8,154.8 735.0,157.8 736.0,159.0" fill="none" stroke="#6c6c6c" stroke-width="3.0" stroke-linecap="round" opacity="0.90" filter="url(#fbt)"/>
<path d="M812.7,0.0 C814.9,3.0 821.6,11.3 825.8,17.9 C830.0,24.5 834.4,32.4 837.8,39.4 C841.2,46.4 843.7,52.3 846.1,59.7 C848.5,67.1 850.9,76.6 852.1,83.6 C853.3,90.6 853.3,94.9 853.3,101.9 C853.3,108.9 852.5,118.8 852.1,125.8 C851.7,132.8 851.5,138.5 850.9,143.7 C850.3,148.9 849.9,153.1 848.5,156.9 C847.1,160.7 843.7,163.8 842.5,166.4 C841.3,169.0 841.1,171.2 841.3,172.4 C841.5,173.6 841.9,173.9 843.7,173.3 C845.5,172.7 849.9,170.8 852.1,168.8 C854.3,166.9 855.7,164.8 856.9,161.6 C858.1,158.4 858.5,154.7 859.3,149.7 C860.1,144.7 860.9,138.8 861.6,131.8 C862.3,124.8 863.0,114.9 863.4,107.9 C863.8,100.9 863.9,95.0 864.0,90.0 C864.1,85.0 864.8,83.0 864.0,77.6 C863.2,72.1 861.5,64.3 859.3,57.3 C857.1,50.3 854.1,42.8 850.9,35.8 C847.7,28.8 843.9,21.5 840.1,15.5 C836.3,9.5 830.2,2.6 828.2,0.0 Z" fill="#929292" />
<path d="M823.0,3.0 C825.0,5.5 831.1,12.2 835.0,18.0 C838.9,23.8 843.2,31.3 846.5,38.0 C849.8,44.7 852.8,51.2 855.0,58.0 C857.2,64.8 859.1,72.0 860.0,79.0 C860.9,86.0 860.7,92.3 860.5,100.0 C860.3,107.7 859.7,117.2 859.0,125.0 C858.3,132.8 857.4,141.2 856.5,147.0 C855.6,152.8 854.9,156.5 853.5,160.0 C852.1,163.5 848.9,166.7 848.0,168.0" fill="none" stroke="#adadad" stroke-width="2.8" stroke-linecap="round" opacity="0.85" filter="url(#fbt)"/>
<path d="M815.0,2.0 C817.1,4.8 823.4,12.2 827.5,18.5 C831.6,24.8 836.1,33.1 839.5,40.0 C842.9,46.9 845.6,52.7 848.0,60.0 C850.4,67.3 852.6,77.0 853.8,84.0 C855.0,91.0 855.0,95.0 855.0,102.0 C855.0,109.0 854.2,119.0 853.8,126.0 C853.4,133.0 853.2,138.8 852.6,144.0 C852.0,149.2 851.6,153.3 850.3,157.0 C849.0,160.7 845.9,164.5 845.0,166.0" fill="none" stroke="#747474" stroke-width="2.0" stroke-linecap="round" opacity="0.85" filter="url(#fbt)"/>
<path d="M772.4,0.0 C771.0,3.0 766.6,10.9 764.0,17.9 C761.4,24.9 758.9,33.8 756.9,41.8 C754.9,49.8 753.2,57.7 752.1,65.7 C751.0,73.7 750.5,81.6 750.3,89.6 C750.1,97.6 750.5,105.9 750.9,113.9 C751.3,121.9 752.0,129.9 752.7,137.8 C753.4,145.8 754.4,155.8 755.1,161.6 C755.8,167.4 755.8,169.8 756.9,172.4 C758.0,175.0 759.6,176.2 761.6,177.2 C763.6,178.2 767.0,178.4 768.8,178.4 C770.6,178.4 772.0,178.0 772.6,177.2 C773.2,176.4 773.0,175.4 772.4,173.6 C771.8,171.8 769.8,169.4 768.8,166.4 C767.8,163.4 767.1,160.5 766.4,155.7 C765.6,150.9 764.8,144.8 764.3,137.8 C763.8,130.8 763.2,120.2 763.1,113.9 C763.0,107.6 763.4,105.0 763.6,100.0 C763.9,95.0 764.1,90.3 764.6,83.6 C765.1,76.9 765.3,67.7 766.4,59.7 C767.5,51.7 769.4,42.8 771.2,35.8 C773.0,28.8 774.8,23.9 777.2,17.9 C779.6,11.9 784.1,3.0 785.5,0.0 Z" fill="#969696" />
<path d="M777.0,2.0 C775.7,4.8 771.5,12.3 769.0,19.0 C766.5,25.7 763.9,34.2 762.0,42.0 C760.1,49.8 758.6,58.0 757.5,66.0 C756.4,74.0 755.8,82.0 755.5,90.0 C755.2,98.0 755.6,106.0 756.0,114.0 C756.4,122.0 757.0,130.3 757.7,138.0 C758.4,145.7 759.2,154.5 760.0,160.0 C760.8,165.5 762.1,169.2 762.5,171.0" fill="none" stroke="#adadad" stroke-width="3.6" stroke-linecap="round" opacity="0.85" filter="url(#fbt)"/>
<path d="M783.0,2.0 C781.8,4.8 777.8,13.2 775.5,19.0 C773.2,24.8 771.3,30.2 769.5,37.0 C767.7,43.8 765.9,52.2 764.8,60.0 C763.7,67.8 763.5,75.0 763.0,84.0 C762.5,93.0 761.6,105.0 761.6,114.0 C761.6,123.0 762.2,131.0 762.8,138.0 C763.3,145.0 764.1,151.2 764.9,156.0 C765.7,160.8 766.6,164.0 767.5,167.0 C768.4,170.0 770.0,172.8 770.5,174.0" fill="none" stroke="#747474" stroke-width="2.2" stroke-linecap="round" opacity="0.80" filter="url(#fbt)"/>
<path d="M792.4,0.0 C793.2,4.0 795.8,15.9 797.2,23.9 C798.6,31.9 799.7,39.8 800.7,47.8 C801.7,55.8 802.6,63.7 803.1,71.6 C803.6,79.5 803.9,86.0 804.0,95.0 C804.1,104.0 803.8,115.7 803.6,125.8 C803.4,135.9 803.2,148.5 802.8,155.7 C802.3,162.9 801.5,165.4 800.9,168.8 C800.3,172.2 798.8,174.1 799.0,176.0 C799.2,177.9 800.5,179.3 802.0,180.1 C803.5,180.8 806.0,180.8 807.9,180.5 C809.8,180.2 812.2,180.0 813.3,178.4 C814.4,176.8 814.4,175.0 814.5,171.2 C814.6,167.4 813.9,163.3 813.9,155.7 C813.9,148.1 814.4,135.8 814.5,125.8 C814.6,115.8 814.6,104.5 814.5,95.5 C814.4,86.5 814.4,79.5 813.9,71.6 C813.4,63.6 812.3,55.8 811.5,47.8 C810.7,39.8 810.1,31.9 809.1,23.9 C808.1,15.9 806.1,4.0 805.5,0.0 Z" fill="#969696" />
<path d="M797.0,2.0 C797.8,5.7 800.2,16.3 801.5,24.0 C802.8,31.7 804.0,40.0 805.0,48.0 C806.0,56.0 806.8,64.0 807.3,72.0 C807.8,80.0 808.0,87.0 808.0,96.0 C808.0,105.0 807.8,116.0 807.6,126.0 C807.4,136.0 807.2,148.7 806.8,156.0 C806.4,163.3 805.5,166.5 805.0,170.0 C804.5,173.5 803.8,175.8 803.5,177.0" fill="none" stroke="#adadad" stroke-width="3.4" stroke-linecap="round" opacity="0.85" filter="url(#fbt)"/>
<path d="M804.3,2.0 C804.9,5.7 806.8,16.3 807.8,24.0 C808.8,31.7 809.4,40.0 810.2,48.0 C811.0,56.0 812.1,64.0 812.6,72.0 C813.1,80.0 813.1,87.0 813.2,96.0 C813.3,105.0 813.3,116.0 813.2,126.0 C813.1,136.0 812.6,148.3 812.6,156.0 C812.6,163.7 812.9,169.3 813.0,172.0" fill="none" stroke="#747474" stroke-width="2.0" stroke-linecap="round" opacity="0.80" filter="url(#fbt)"/>
<path d="M783,0 L784,3 Q798,7 813,3 L814,0 Z" fill="#686868"/>
</g>
<!--MASSAGERS-->
<defs>
<filter id="fb" x="-20%" y="-5%" width="140%" height="110%"><feGaussianBlur stdDeviation="1.1"/></filter>
<linearGradient id="gBase" x1="220" y1="0" x2="317" y2="0" gradientUnits="userSpaceOnUse"><stop offset="0" stop-color="#9f9f9f"/><stop offset="0.07" stop-color="#adadad"/><stop offset="0.25" stop-color="#b1b1b1"/><stop offset="0.5" stop-color="#a3a3a3"/><stop offset="0.78" stop-color="#8f8f8f"/><stop offset="1" stop-color="#868686"/></linearGradient>
<clipPath id="cp6"><path d="M236.0,652.0 C236.0,650.3 236.1,645.3 236.1,642.0 C236.2,638.7 236.2,635.3 236.3,632.0 C236.4,628.7 236.5,625.3 236.6,622.0 C236.8,618.7 236.4,614.4 237.0,612.0 C237.6,609.6 238.9,608.6 240.0,607.8 C241.1,607.0 242.4,606.6 243.5,607.4 C244.6,608.2 246.1,610.2 246.3,612.8 C246.5,615.4 245.4,619.4 244.8,622.7 C244.2,626.0 243.4,629.2 242.7,632.5 C241.9,635.7 241.0,639.0 240.2,642.2 C239.4,645.5 238.4,650.4 238.0,652.0 Z"/></clipPath>
<clipPath id="cp8"><path d="M292.0,652.0 C291.5,649.8 290.2,643.4 289.3,639.0 C288.4,634.7 287.5,630.4 286.6,626.0 C285.8,621.7 284.3,616.0 284.2,613.0 C284.1,610.0 285.2,608.9 286.0,608.0 C286.8,607.1 288.0,607.2 289.0,607.5 C290.0,607.8 291.4,607.8 292.0,610.0 C292.6,612.2 292.5,617.0 292.7,620.5 C292.9,624.0 293.1,627.5 293.3,631.0 C293.5,634.5 293.7,638.0 293.8,641.5 C293.9,645.0 294.0,650.2 294.0,652.0 Z"/></clipPath>
<clipPath id="cp4"><path d="M232.0,859.0 C230.5,858.3 225.8,856.2 222.8,854.7 C219.7,853.2 216.7,851.6 213.8,849.9 C210.9,848.2 208.0,846.3 205.3,844.3 C202.6,842.3 200.0,840.1 197.6,837.8 C195.1,835.5 192.8,833.0 190.6,830.5 C188.3,827.9 186.2,825.2 184.2,822.5 C182.2,819.8 180.4,816.9 178.6,814.0 C176.8,811.2 175.2,808.2 173.6,805.2 C172.1,802.1 170.7,799.1 169.3,795.9 C168.0,792.8 166.8,789.6 165.8,786.4 C164.7,783.2 163.7,779.9 162.8,776.6 C162.0,773.4 161.2,770.0 160.5,766.7 C159.8,763.4 159.2,760.0 158.7,756.7 C158.2,753.3 157.8,750.0 157.7,746.6 C157.6,743.3 157.7,740.0 158.0,736.6 C158.2,733.3 158.9,730.0 159.3,726.7 C159.8,723.3 160.4,720.0 160.7,716.6 C161.1,713.3 161.2,709.9 161.4,706.5 C161.5,703.1 161.5,699.7 161.6,696.3 C161.7,692.9 161.8,689.5 161.9,686.1 C162.0,682.7 162.2,679.3 162.4,675.9 C162.6,672.5 162.8,669.1 163.0,665.7 C163.3,662.3 163.5,658.9 163.9,655.5 C164.2,652.1 164.6,648.7 165.1,645.4 C165.6,642.0 166.2,638.7 166.9,635.4 C167.7,632.1 168.6,628.8 169.5,625.5 C170.5,622.3 171.4,617.4 172.6,615.8 C173.8,614.2 175.1,617.3 176.6,615.8 C178.1,614.3 179.6,608.7 181.6,606.8 C183.6,604.9 186.9,603.7 188.6,604.2 C190.3,604.7 191.7,607.2 191.9,609.8 C192.1,612.4 190.5,616.5 189.6,619.8 C188.7,623.1 187.5,626.2 186.6,629.4 C185.7,632.6 184.8,635.8 184.1,639.1 C183.4,642.3 182.8,645.6 182.3,648.9 C181.8,652.2 181.4,655.6 181.0,658.9 C180.6,662.2 180.2,665.5 179.9,668.9 C179.6,672.2 179.4,675.6 179.2,678.9 C179.0,682.3 178.9,685.6 178.8,689.0 C178.7,692.3 178.7,695.7 178.6,699.0 C178.6,702.4 178.6,705.7 178.6,709.1 C178.6,712.4 178.5,715.8 178.5,719.1 C178.5,722.5 178.4,725.8 178.4,729.2 C178.4,732.5 178.4,735.9 178.5,739.2 C178.6,742.6 178.8,745.9 179.1,749.2 C179.4,752.6 179.8,755.9 180.3,759.2 C180.8,762.5 181.3,765.8 182.0,769.1 C182.7,772.3 183.5,775.6 184.3,778.8 C185.2,782.0 186.2,785.2 187.3,788.4 C188.4,791.5 189.7,794.6 191.0,797.7 C192.4,800.7 193.9,803.7 195.5,806.7 C197.1,809.6 198.8,812.4 200.6,815.2 C202.5,818.0 204.5,820.7 206.6,823.3 C208.7,825.9 210.9,828.4 213.2,830.8 C215.5,833.2 217.9,835.5 220.4,837.7 C222.9,839.8 225.6,841.9 228.3,843.9 C231.0,845.8 233.8,847.7 236.6,849.5 C239.3,851.4 243.6,854.1 245.0,855.0 Z"/></clipPath>
<clipPath id="cp9"><path d="M290.0,855.0 C291.5,854.1 295.9,851.5 298.8,849.7 C301.7,847.8 304.5,846.0 307.3,844.0 C310.1,841.9 312.7,839.8 315.3,837.6 C317.9,835.3 320.3,833.0 322.7,830.5 C325.0,828.0 327.3,825.4 329.4,822.8 C331.5,820.1 333.5,817.3 335.4,814.5 C337.3,811.6 339.0,808.7 340.6,805.7 C342.2,802.7 343.7,799.6 345.1,796.5 C346.4,793.3 347.7,790.1 348.8,786.9 C349.9,783.7 350.8,780.4 351.7,777.1 C352.5,773.8 353.3,770.4 353.9,767.1 C354.6,763.7 355.1,760.3 355.5,756.9 C356.0,753.5 356.4,750.1 356.7,746.7 C357.0,743.3 357.3,739.9 357.5,736.5 C357.7,733.1 357.9,729.6 357.9,726.2 C358.0,722.8 358.0,719.4 358.0,715.9 C357.9,712.5 357.7,709.1 357.5,705.7 C357.4,702.2 357.1,698.8 356.9,695.4 C356.7,692.0 356.4,688.5 356.2,685.1 C356.0,681.7 355.8,678.3 355.5,674.9 C355.2,671.4 355.0,668.0 354.7,664.6 C354.4,661.2 354.0,657.8 353.5,654.4 C353.0,651.0 352.5,647.7 351.7,644.4 C350.9,641.1 349.9,637.9 348.8,634.7 C347.7,631.5 346.3,628.4 345.0,625.3 C343.8,622.1 341.6,618.9 341.1,615.8 C340.6,612.7 341.0,609.1 341.9,606.8 C342.8,604.5 344.6,602.2 346.5,602.2 C348.4,602.2 351.5,603.9 353.5,606.8 C355.5,609.7 357.3,617.6 358.5,619.8 C359.7,622.0 359.7,618.1 360.5,619.8 C361.3,621.5 362.3,626.4 363.1,629.8 C363.9,633.1 364.7,636.5 365.3,639.8 C365.9,643.2 366.4,646.6 366.9,650.0 C367.4,653.4 367.7,656.8 368.1,660.2 C368.4,663.7 368.8,667.1 369.1,670.5 C369.4,673.9 369.8,677.4 370.1,680.8 C370.3,684.2 370.6,687.6 370.8,691.1 C371.0,694.5 371.2,697.9 371.4,701.4 C371.5,704.8 371.6,708.2 371.7,711.7 C371.8,715.1 371.9,718.6 371.9,722.0 C371.9,725.4 371.9,728.9 371.8,732.3 C371.8,735.7 371.6,739.2 371.4,742.6 C371.2,746.0 370.9,749.5 370.5,752.9 C370.1,756.3 369.7,759.7 369.1,763.1 C368.5,766.4 367.8,769.8 367.0,773.1 C366.2,776.5 365.3,779.8 364.3,783.1 C363.2,786.3 362.1,789.6 360.9,792.8 C359.6,795.9 358.3,799.1 356.7,802.1 C355.2,805.2 353.5,808.2 351.7,811.1 C349.9,813.9 347.9,816.7 345.8,819.4 C343.8,822.2 341.5,824.8 339.3,827.4 C337.0,829.9 334.6,832.4 332.2,834.8 C329.7,837.2 327.2,839.5 324.5,841.7 C321.9,843.9 319.2,845.9 316.4,847.9 C313.6,849.9 310.7,851.7 307.8,853.6 C304.9,855.4 300.5,858.1 299.0,859.0 Z"/></clipPath>
<clipPath id="cp1"><path d="M219.4,863.0 C217.8,862.6 212.9,861.5 209.6,860.7 C206.4,859.8 203.1,859.0 200.0,858.0 C196.8,856.9 193.7,855.8 190.7,854.4 C187.7,853.1 184.7,851.5 181.8,849.9 C178.9,848.2 176.1,846.4 173.4,844.5 C170.7,842.6 167.9,840.6 165.4,838.5 C162.8,836.4 160.2,834.2 157.8,831.9 C155.4,829.6 153.2,827.1 151.0,824.6 C148.8,822.1 146.7,819.5 144.7,816.8 C142.6,814.2 140.7,811.5 138.9,808.7 C137.0,805.9 135.3,803.0 133.7,800.1 C132.1,797.2 130.5,794.2 129.1,791.2 C127.6,788.2 126.3,785.1 125.0,782.0 C123.8,778.9 122.7,775.8 121.6,772.6 C120.6,769.4 119.7,766.2 118.9,762.9 C118.1,759.7 117.5,756.4 116.9,753.1 C116.3,749.8 115.9,746.5 115.4,743.2 C115.0,739.9 114.6,736.5 114.3,733.2 C114.0,729.9 113.8,726.5 113.6,723.2 C113.4,719.8 113.4,716.5 113.3,713.1 C113.3,709.8 113.4,706.4 113.5,703.1 C113.6,699.7 113.8,696.4 114.0,693.1 C114.1,689.7 114.4,686.4 114.7,683.0 C114.9,679.7 115.2,676.3 115.6,673.0 C116.0,669.7 116.4,666.3 116.8,663.0 C117.3,659.7 117.8,656.4 118.5,653.1 C119.1,649.8 119.7,646.5 120.5,643.3 C121.2,640.0 122.0,636.7 122.9,633.5 C123.7,630.3 124.7,627.1 125.8,623.9 C126.9,620.8 128.1,617.7 129.4,614.6 C130.8,611.6 132.3,608.6 133.9,605.7 C135.4,602.7 137.3,599.1 138.8,596.9 C140.3,594.7 141.3,593.3 143.0,592.5 C144.7,591.7 147.3,591.9 149.0,592.2 C150.7,592.5 152.4,593.5 153.0,594.5 C153.6,595.5 153.6,595.9 152.7,597.9 C151.8,599.9 149.4,603.8 147.8,606.8 C146.1,609.8 144.5,612.7 142.9,615.7 C141.2,618.7 139.6,621.6 138.1,624.6 C136.6,627.6 135.1,630.7 133.9,633.8 C132.7,636.9 131.6,640.1 130.7,643.3 C129.8,646.5 129.1,649.9 128.5,653.2 C127.9,656.5 127.4,659.8 127.0,663.2 C126.6,666.5 126.3,669.9 126.1,673.3 C125.8,676.7 125.6,680.0 125.4,683.4 C125.3,686.8 125.2,690.2 125.1,693.6 C125.0,697.0 125.0,700.3 124.9,703.7 C124.9,707.1 124.9,710.5 124.9,713.9 C124.9,717.3 124.9,720.7 124.9,724.1 C125.0,727.4 125.0,730.8 125.2,734.2 C125.3,737.6 125.5,740.9 125.9,744.3 C126.2,747.7 126.6,751.0 127.1,754.4 C127.7,757.7 128.3,761.0 129.1,764.3 C129.8,767.6 130.7,770.8 131.7,774.1 C132.8,777.3 133.9,780.5 135.1,783.6 C136.3,786.8 137.7,789.9 139.1,792.9 C140.5,796.0 142.0,799.0 143.7,801.9 C145.3,804.9 147.0,807.8 148.9,810.6 C150.8,813.4 152.8,816.1 154.9,818.7 C157.0,821.4 159.2,823.9 161.6,826.3 C163.9,828.8 166.3,831.1 168.8,833.3 C171.4,835.6 174.0,837.7 176.7,839.7 C179.4,841.8 182.1,843.7 185.0,845.5 C187.8,847.3 190.7,849.1 193.7,850.6 C196.7,852.1 199.8,853.5 202.9,854.8 C206.0,856.1 209.2,857.2 212.4,858.3 C215.5,859.4 220.4,861.0 222.0,861.5 Z"/></clipPath>
<clipPath id="cp2"><path d="M220.5,861.5 C218.9,861.0 214.0,859.4 210.8,858.3 C207.7,857.2 204.5,856.1 201.3,854.8 C198.2,853.5 195.2,852.1 192.2,850.6 C189.2,849.0 186.3,847.3 183.4,845.5 C180.6,843.7 177.8,841.8 175.1,839.7 C172.5,837.7 169.8,835.6 167.3,833.3 C164.8,831.1 162.3,828.7 160.0,826.3 C157.7,823.9 155.5,821.3 153.3,818.7 C151.2,816.1 149.2,813.4 147.4,810.5 C145.5,807.7 143.8,804.8 142.1,801.9 C140.5,798.9 139.0,795.9 137.6,792.9 C136.1,789.8 134.8,786.7 133.6,783.5 C132.4,780.4 131.2,777.2 130.2,774.0 C129.2,770.8 128.3,767.5 127.6,764.2 C126.8,760.9 126.1,757.6 125.6,754.3 C125.1,750.9 124.7,747.6 124.5,744.2 C124.2,740.8 124.1,737.5 124.0,734.1 C124.0,730.7 124.1,727.3 124.1,723.9 C124.2,720.6 124.2,717.2 124.3,713.8 C124.3,710.4 124.4,707.0 124.4,703.6 C124.5,700.2 124.5,696.8 124.6,693.5 C124.7,690.1 124.8,686.7 124.9,683.3 C125.1,679.9 125.3,676.5 125.6,673.2 C125.8,669.8 126.2,666.4 126.6,663.1 C127.0,659.7 127.5,656.4 128.2,653.1 C128.8,649.8 129.6,646.5 130.5,643.2 C131.5,640.0 132.5,636.8 133.7,633.6 C134.9,630.5 136.3,627.4 137.6,624.3 C139.0,621.2 140.5,618.2 142.0,615.1 C143.5,612.1 145.5,607.5 146.5,606.0 C147.5,604.5 147.1,606.8 148.0,606.0 C148.9,605.2 150.7,601.9 152.0,601.0 C153.3,600.1 155.0,600.2 156.0,600.5 C157.0,600.8 158.1,601.5 158.2,602.5 C158.3,603.5 157.7,604.5 156.7,606.8 C155.7,609.1 153.8,613.0 152.4,616.1 C151.0,619.3 149.6,622.4 148.3,625.5 C147.0,628.7 145.7,631.8 144.6,635.0 C143.4,638.3 142.4,641.5 141.5,644.8 C140.7,648.1 139.9,651.4 139.3,654.8 C138.7,658.1 138.2,661.5 137.8,664.9 C137.4,668.3 137.1,671.7 136.8,675.1 C136.6,678.5 136.4,681.9 136.2,685.3 C136.1,688.7 136.0,692.2 135.9,695.6 C135.9,699.0 135.8,702.4 135.8,705.8 C135.8,709.3 135.8,712.7 135.8,716.1 C135.8,719.5 135.8,722.9 135.8,726.4 C135.9,729.8 135.9,733.2 136.1,736.6 C136.2,740.0 136.5,743.4 136.8,746.8 C137.2,750.2 137.6,753.6 138.3,756.9 C138.9,760.3 139.7,763.6 140.6,766.8 C141.6,770.1 142.7,773.3 143.9,776.5 C145.2,779.6 146.5,782.8 148.1,785.8 C149.6,788.8 151.3,791.8 153.1,794.6 C155.0,797.5 157.0,800.2 159.1,802.9 C161.2,805.6 163.4,808.1 165.6,810.7 C167.8,813.3 170.1,815.9 172.4,818.4 C174.7,821.0 177.0,823.5 179.3,826.0 C181.7,828.4 184.1,830.8 186.7,833.1 C189.2,835.3 191.8,837.5 194.6,839.5 C197.3,841.6 200.1,843.5 203.0,845.3 C205.9,847.2 208.8,848.9 211.8,850.5 C214.8,852.2 217.8,853.8 220.8,855.4 C223.9,856.9 228.5,859.2 230.0,860.0 Z"/></clipPath>
<clipPath id="cp11"><path d="M312.0,858.0 C313.4,857.0 317.6,854.0 320.3,852.0 C323.1,850.0 325.9,848.0 328.6,845.9 C331.3,843.8 334.0,841.7 336.6,839.5 C339.2,837.3 341.8,835.0 344.4,832.8 C346.9,830.5 349.4,828.1 351.9,825.7 C354.3,823.4 356.7,820.9 359.1,818.5 C361.5,816.0 363.9,813.5 366.2,811.0 C368.5,808.4 370.7,805.9 372.9,803.3 C375.1,800.6 377.2,797.9 379.1,795.1 C381.0,792.3 382.8,789.4 384.4,786.4 C386.0,783.4 387.3,780.3 388.6,777.2 C389.8,774.0 390.8,770.7 391.7,767.5 C392.6,764.2 393.3,760.8 394.0,757.5 C394.7,754.2 395.3,750.8 395.9,747.4 C396.6,744.1 397.2,740.7 397.9,737.3 C398.5,734.0 399.3,730.7 399.8,727.3 C400.4,723.9 400.9,720.6 401.2,717.2 C401.5,713.8 401.6,710.4 401.6,707.0 C401.7,703.6 401.5,700.2 401.3,696.8 C401.2,693.4 401.0,689.9 400.7,686.5 C400.5,683.1 400.2,679.7 399.9,676.3 C399.5,672.9 399.2,669.5 398.8,666.1 C398.4,662.7 397.9,659.3 397.4,655.9 C396.8,652.5 396.2,649.1 395.5,645.8 C394.7,642.5 393.8,639.2 392.7,636.0 C391.6,632.8 390.2,629.7 388.7,626.7 C387.3,623.6 385.5,620.7 383.8,617.8 C382.1,614.8 380.3,611.9 378.6,608.9 C377.0,606.0 374.7,602.0 373.8,599.9 C372.9,597.8 373.1,597.3 373.5,596.5 C373.9,595.7 375.0,595.0 376.0,595.0 C377.0,595.0 377.9,594.8 379.4,596.5 C380.9,598.2 383.1,602.1 384.9,604.9 C386.7,607.8 388.5,610.6 390.1,613.5 C391.8,616.4 393.4,619.4 394.8,622.4 C396.2,625.4 397.5,628.5 398.7,631.6 C399.8,634.8 400.8,638.0 401.7,641.2 C402.5,644.4 403.3,647.7 404.0,651.0 C404.7,654.3 405.3,657.6 405.9,660.9 C406.4,664.2 406.9,667.5 407.2,670.8 C407.6,674.2 408.0,677.5 408.3,680.9 C408.6,684.2 408.8,687.5 409.0,690.9 C409.2,694.2 409.4,697.6 409.5,701.0 C409.6,704.3 409.7,707.7 409.7,711.0 C409.7,714.4 409.6,717.7 409.4,721.1 C409.2,724.4 408.8,727.7 408.5,731.1 C408.1,734.4 407.6,737.7 407.2,741.1 C406.8,744.4 406.3,747.7 405.8,751.0 C405.3,754.3 404.8,757.7 404.1,760.9 C403.4,764.2 402.6,767.5 401.7,770.7 C400.8,773.9 399.8,777.1 398.6,780.2 C397.4,783.3 396.1,786.4 394.6,789.4 C393.1,792.3 391.4,795.2 389.7,798.1 C387.9,800.9 385.9,803.6 383.9,806.3 C381.9,808.9 379.7,811.5 377.5,814.0 C375.3,816.5 373.0,818.9 370.6,821.3 C368.3,823.7 365.8,826.0 363.4,828.3 C360.9,830.6 358.4,832.8 355.9,835.0 C353.3,837.2 350.7,839.3 348.0,841.4 C345.4,843.4 342.7,845.4 340.0,847.4 C337.3,849.4 334.5,851.3 331.8,853.3 C329.0,855.2 324.9,858.0 323.5,859.0 Z"/></clipPath>
<clipPath id="cp12"><path d="M322.0,859.0 C323.4,858.0 327.6,855.2 330.4,853.2 C333.1,851.3 335.9,849.3 338.6,847.3 C341.4,845.3 344.1,843.3 346.7,841.2 C349.4,839.1 352.0,837.0 354.6,834.8 C357.2,832.6 359.7,830.4 362.2,828.1 C364.6,825.8 367.1,823.4 369.4,821.0 C371.8,818.6 374.1,816.1 376.4,813.6 C378.6,811.1 380.8,808.5 382.8,805.8 C384.8,803.1 386.8,800.3 388.5,797.5 C390.3,794.6 391.9,791.7 393.4,788.7 C394.9,785.7 396.2,782.5 397.4,779.4 C398.5,776.3 399.5,773.0 400.4,769.8 C401.3,766.5 402.1,763.2 402.7,759.9 C403.4,756.6 403.9,753.3 404.4,750.0 C405.0,746.6 405.4,743.3 405.9,739.9 C406.3,736.6 406.8,733.2 407.1,729.8 C407.5,726.5 407.8,723.1 408.0,719.7 C408.2,716.4 408.2,713.0 408.2,709.6 C408.2,706.3 408.1,702.9 408.0,699.5 C407.9,696.1 407.7,692.7 407.4,689.3 C407.2,686.0 406.9,682.6 406.6,679.2 C406.3,675.9 406.0,672.5 405.6,669.1 C405.1,665.8 404.7,662.4 404.1,659.1 C403.6,655.8 402.9,652.4 402.2,649.1 C401.5,645.8 400.7,642.5 399.8,639.3 C398.9,636.0 398.0,632.8 396.8,629.7 C395.6,626.5 394.3,623.4 392.9,620.4 C391.5,617.3 389.9,614.3 388.2,611.4 C386.6,608.4 384.9,605.5 383.2,602.6 C381.5,599.7 378.5,595.3 377.9,593.9 C377.3,592.5 379.1,594.5 379.4,593.9 C379.7,593.3 378.9,591.2 379.5,590.5 C380.1,589.8 381.0,588.8 383.3,589.5 C385.6,590.2 390.7,592.6 393.3,594.9 C395.9,597.2 397.2,600.3 398.8,603.1 C400.5,606.0 402.0,608.9 403.3,611.9 C404.6,614.9 405.6,618.1 406.5,621.3 C407.4,624.5 408.1,627.8 408.8,631.0 C409.5,634.3 410.0,637.6 410.7,640.9 C411.3,644.2 411.9,647.5 412.5,650.8 C413.1,654.1 413.8,657.4 414.4,660.7 C415.0,664.0 415.6,667.3 416.1,670.6 C416.6,673.9 417.1,677.2 417.5,680.5 C417.9,683.8 418.2,687.2 418.5,690.5 C418.7,693.8 418.9,697.2 419.0,700.5 C419.2,703.9 419.2,707.2 419.2,710.6 C419.3,713.9 419.2,717.3 419.1,720.6 C419.0,723.9 418.8,727.3 418.5,730.6 C418.3,734.0 418.0,737.3 417.6,740.6 C417.3,743.9 416.9,747.3 416.4,750.6 C416.0,753.9 415.5,757.2 414.8,760.5 C414.2,763.8 413.5,767.0 412.7,770.3 C411.8,773.5 410.9,776.7 409.8,779.8 C408.7,783.0 407.5,786.1 406.2,789.2 C404.8,792.2 403.3,795.2 401.7,798.1 C400.1,801.0 398.4,803.9 396.5,806.6 C394.7,809.4 392.7,812.1 390.6,814.7 C388.5,817.3 386.3,819.8 384.1,822.3 C381.8,824.7 379.4,827.1 377.0,829.3 C374.5,831.6 372.0,833.8 369.4,835.9 C366.8,838.0 364.2,840.1 361.5,842.1 C358.8,844.0 356.0,846.0 353.3,847.8 C350.5,849.6 347.6,851.5 344.8,853.1 C341.9,854.7 338.9,856.3 335.9,857.7 C332.9,859.0 329.8,860.1 326.6,861.2 C323.5,862.2 318.6,863.5 317.0,864.0 Z"/></clipPath>
<clipPath id="cp3"><path d="M222.0,863.0 C220.5,862.3 215.8,860.2 212.9,858.7 C209.9,857.2 206.9,855.6 204.1,853.8 C201.3,852.0 198.7,850.1 196.1,847.9 C193.6,845.8 191.3,843.3 189.0,840.9 C186.8,838.4 184.6,835.8 182.5,833.2 C180.4,830.6 178.4,827.9 176.4,825.2 C174.4,822.5 172.3,819.7 170.5,816.9 C168.6,814.2 166.8,811.3 165.3,808.4 C163.7,805.4 162.3,802.4 161.0,799.3 C159.7,796.2 158.6,793.0 157.6,789.8 C156.5,786.6 155.6,783.4 154.7,780.1 C153.8,776.9 152.9,773.6 152.2,770.3 C151.4,767.0 150.7,763.8 150.1,760.4 C149.5,757.1 149.0,753.8 148.5,750.5 C148.1,747.1 147.7,743.8 147.4,740.4 C147.1,737.1 146.9,733.7 146.7,730.3 C146.6,727.0 146.5,723.6 146.4,720.2 C146.4,716.8 146.4,713.5 146.4,710.1 C146.5,706.7 146.5,703.4 146.6,700.0 C146.7,696.6 146.8,693.2 147.0,689.9 C147.1,686.5 147.4,683.1 147.6,679.8 C147.8,676.4 148.0,673.0 148.3,669.7 C148.5,666.3 148.8,662.9 149.1,659.6 C149.4,656.2 149.7,652.9 150.1,649.5 C150.5,646.2 151.0,642.8 151.5,639.5 C152.0,636.2 152.6,632.8 153.2,629.5 C153.8,626.2 154.4,622.9 155.1,619.6 C155.8,616.3 156.5,613.0 157.3,609.7 C158.1,606.4 158.0,603.4 159.7,599.9 C161.4,596.4 164.4,591.3 167.7,588.9 C171.0,586.5 176.7,585.3 179.6,585.5 C182.5,585.7 184.5,587.5 185.2,589.9 C185.9,592.3 184.7,596.8 183.6,599.9 C182.5,603.0 180.4,605.8 178.9,608.8 C177.4,611.8 175.9,614.8 174.6,617.9 C173.4,621.0 172.2,624.1 171.3,627.3 C170.3,630.5 169.6,633.8 168.9,637.1 C168.3,640.3 167.8,643.7 167.4,647.0 C166.9,650.3 166.6,653.7 166.3,657.0 C166.0,660.4 165.8,663.7 165.6,667.1 C165.3,670.4 165.1,673.8 164.9,677.1 C164.7,680.5 164.6,683.9 164.4,687.2 C164.3,690.6 164.2,693.9 164.2,697.3 C164.1,700.7 164.1,704.0 164.1,707.4 C164.1,710.8 164.1,714.1 164.1,717.5 C164.2,720.8 164.2,724.2 164.3,727.6 C164.4,730.9 164.5,734.3 164.7,737.6 C164.9,741.0 165.3,744.3 165.7,747.7 C166.1,751.0 166.6,754.3 167.2,757.6 C167.7,760.9 168.4,764.2 169.1,767.5 C169.8,770.8 170.5,774.1 171.4,777.3 C172.3,780.5 173.2,783.8 174.3,786.9 C175.4,790.1 176.6,793.2 177.9,796.3 C179.2,799.4 180.6,802.5 182.1,805.4 C183.7,808.4 185.3,811.4 187.0,814.2 C188.8,817.1 190.6,819.9 192.6,822.6 C194.5,825.3 196.6,827.9 198.8,830.5 C201.0,833.0 203.3,835.4 205.7,837.7 C208.2,840.0 210.7,842.1 213.4,844.1 C216.1,846.1 218.9,847.9 221.8,849.5 C224.7,851.2 227.7,852.6 230.7,854.0 C233.8,855.4 238.5,857.3 240.0,858.0 Z"/></clipPath>
<clipPath id="cp10"><path d="M295.0,858.0 C296.4,857.1 300.8,854.6 303.6,852.8 C306.4,851.1 309.3,849.3 312.0,847.4 C314.7,845.5 317.4,843.5 320.0,841.4 C322.6,839.3 325.0,837.0 327.4,834.7 C329.8,832.4 332.2,830.0 334.4,827.5 C336.6,825.1 338.8,822.5 340.8,819.9 C342.8,817.2 344.8,814.5 346.6,811.7 C348.3,808.9 350.0,806.0 351.5,803.1 C353.0,800.1 354.4,797.1 355.6,794.0 C356.9,790.9 358.0,787.8 359.0,784.6 C360.0,781.4 361.0,778.2 361.8,775.0 C362.6,771.7 363.3,768.5 363.9,765.2 C364.5,761.9 365.0,758.6 365.4,755.3 C365.9,752.0 366.3,748.7 366.7,745.4 C367.1,742.0 367.5,738.7 367.9,735.4 C368.3,732.1 368.8,728.8 369.1,725.5 C369.4,722.1 369.7,718.8 369.8,715.5 C369.9,712.2 369.9,708.8 369.8,705.5 C369.8,702.1 369.6,698.8 369.5,695.5 C369.3,692.1 369.1,688.8 368.8,685.5 C368.6,682.1 368.2,678.8 367.9,675.5 C367.5,672.1 367.1,668.8 366.7,665.5 C366.3,662.2 365.8,658.9 365.3,655.6 C364.9,652.3 364.4,648.9 364.0,645.6 C363.5,642.3 363.1,639.0 362.5,635.7 C361.9,632.4 361.4,629.1 360.5,626.0 C359.6,622.8 358.6,619.6 357.3,616.6 C356.1,613.6 354.5,610.6 353.0,607.7 C351.6,604.8 349.9,601.9 348.5,598.9 C347.1,596.0 345.0,592.1 344.5,589.9 C344.0,587.7 344.7,586.9 345.5,586.0 C346.3,585.1 347.5,584.1 349.5,584.3 C351.5,584.4 354.5,585.0 357.5,586.9 C360.5,588.8 365.0,592.4 367.4,595.9 C369.8,599.4 370.7,604.2 371.8,607.8 C372.9,611.4 373.2,614.4 373.9,617.7 C374.6,621.0 375.3,624.3 375.9,627.6 C376.6,630.9 377.3,634.3 377.9,637.6 C378.6,640.9 379.2,644.2 379.8,647.5 C380.4,650.8 381.0,654.2 381.6,657.5 C382.1,660.8 382.7,664.2 383.1,667.5 C383.6,670.8 384.0,674.2 384.4,677.5 C384.7,680.9 385.0,684.3 385.3,687.6 C385.5,691.0 385.6,694.4 385.8,697.7 C385.9,701.1 386.0,704.5 386.0,707.8 C386.1,711.2 386.1,714.6 386.0,718.0 C385.9,721.3 385.8,724.7 385.6,728.1 C385.5,731.5 385.2,734.8 385.0,738.2 C384.7,741.6 384.4,744.9 384.1,748.3 C383.7,751.6 383.3,755.0 382.9,758.3 C382.4,761.6 381.8,765.0 381.1,768.3 C380.5,771.6 379.7,774.9 378.9,778.1 C378.0,781.4 377.0,784.6 375.9,787.8 C374.8,790.9 373.6,794.1 372.3,797.2 C370.9,800.2 369.5,803.3 367.9,806.3 C366.3,809.2 364.7,812.2 362.9,815.0 C361.1,817.8 359.2,820.6 357.2,823.3 C355.2,826.0 353.1,828.7 350.9,831.2 C348.7,833.8 346.4,836.3 344.1,838.7 C341.7,841.1 339.3,843.4 336.7,845.6 C334.2,847.8 331.6,850.0 328.9,852.0 C326.2,854.0 323.4,855.9 320.6,857.7 C317.8,859.6 313.4,862.1 312.0,863.0 Z"/></clipPath>
<clipPath id="cp5"><path d="M250.0,866.0 C248.9,864.7 245.5,861.0 243.5,858.4 C241.5,855.7 239.6,853.0 238.0,850.1 C236.3,847.2 234.9,844.1 233.7,841.0 C232.4,837.9 231.3,834.7 230.2,831.5 C229.2,828.3 228.3,825.1 227.4,821.8 C226.5,818.6 225.6,815.3 224.8,812.0 C224.0,808.7 223.2,805.4 222.4,802.2 C221.7,798.9 221.0,795.6 220.3,792.2 C219.7,788.9 219.1,785.6 218.7,782.3 C218.2,778.9 217.8,775.6 217.5,772.2 C217.2,768.8 216.9,765.5 216.7,762.1 C216.5,758.7 216.3,755.4 216.2,752.0 C216.0,748.6 215.9,745.2 215.7,741.9 C215.6,738.5 215.5,735.1 215.4,731.7 C215.3,728.3 215.2,725.0 215.2,721.6 C215.1,718.2 215.1,714.8 215.0,711.4 C215.0,708.1 215.0,704.7 215.0,701.3 C215.0,697.9 215.0,694.5 215.0,691.2 C215.1,687.8 215.1,684.4 215.1,681.0 C215.2,677.6 215.2,674.3 215.3,670.9 C215.3,667.5 215.4,664.1 215.4,660.7 C215.5,657.4 215.5,654.0 215.6,650.6 C215.6,647.2 215.7,643.8 215.8,640.5 C215.8,637.1 215.9,633.7 216.0,630.3 C216.0,626.9 216.1,623.6 216.1,620.2 C216.2,616.8 216.2,613.4 216.3,610.0 C216.3,606.7 216.2,603.3 216.4,599.9 C216.6,596.5 216.2,592.7 217.4,589.9 C218.6,587.1 221.1,584.4 223.4,582.9 C225.7,581.4 228.7,580.7 231.3,580.9 C234.0,581.1 237.5,582.1 239.3,583.9 C241.1,585.7 241.9,588.9 242.3,591.9 C242.7,594.9 242.0,598.4 241.7,601.8 C241.4,605.2 240.8,608.6 240.5,612.0 C240.1,615.5 239.7,618.9 239.4,622.3 C239.2,625.7 239.0,629.2 238.9,632.6 C238.7,636.0 238.7,639.5 238.7,642.9 C238.7,646.3 238.9,649.8 238.9,653.2 C239.0,656.6 239.1,660.1 239.2,663.5 C239.2,667.0 239.3,670.4 239.3,673.8 C239.3,677.3 239.3,680.7 239.4,684.2 C239.4,687.6 239.5,691.0 239.5,694.5 C239.6,697.9 239.7,701.4 239.9,704.8 C240.0,708.2 240.1,711.7 240.3,715.1 C240.5,718.5 240.8,722.0 241.0,725.4 C241.2,728.8 241.5,732.3 241.7,735.7 C242.0,739.1 242.2,742.6 242.4,746.0 C242.6,749.4 242.7,752.9 242.8,756.3 C243.0,759.7 243.1,763.2 243.2,766.6 C243.4,770.0 243.6,773.5 243.9,776.9 C244.1,780.3 244.5,783.7 244.9,787.2 C245.3,790.6 245.8,794.0 246.4,797.4 C247.0,800.7 247.6,804.1 248.3,807.5 C248.9,810.9 249.7,814.2 250.5,817.6 C251.3,820.9 252.3,824.2 253.3,827.5 C254.3,830.8 255.4,834.0 256.6,837.2 C257.8,840.5 259.0,843.6 260.3,846.8 C261.6,850.0 262.9,853.2 264.2,856.4 C265.4,859.6 267.4,864.4 268.0,866.0 Z"/></clipPath>
<clipPath id="cp7"><path d="M271.0,866.0 C271.4,864.3 272.7,859.4 273.6,856.1 C274.4,852.7 275.3,849.4 276.1,846.1 C276.9,842.8 277.8,839.5 278.6,836.1 C279.4,832.8 280.2,829.5 281.0,826.2 C281.8,822.8 282.6,819.5 283.3,816.1 C284.0,812.8 284.7,809.5 285.4,806.1 C286.1,802.7 286.7,799.4 287.2,796.0 C287.8,792.6 288.2,789.2 288.7,785.8 C289.1,782.4 289.5,779.0 289.9,775.6 C290.2,772.2 290.6,768.8 290.9,765.4 C291.2,762.0 291.5,758.6 291.7,755.2 C292.0,751.8 292.2,748.4 292.5,744.9 C292.7,741.5 292.9,738.1 293.1,734.7 C293.3,731.3 293.5,727.9 293.6,724.4 C293.8,721.0 293.8,717.6 293.9,714.2 C293.9,710.8 293.8,707.3 293.8,703.9 C293.7,700.5 293.6,697.1 293.5,693.6 C293.4,690.2 293.3,686.8 293.2,683.4 C293.1,679.9 293.0,676.5 292.9,673.1 C292.8,669.7 292.7,666.3 292.6,662.8 C292.5,659.4 292.3,656.0 292.2,652.6 C292.0,649.2 291.8,645.7 291.6,642.3 C291.3,638.9 291.1,635.5 290.7,632.1 C290.3,628.7 289.9,625.3 289.4,621.9 C288.9,618.5 288.2,615.2 287.6,611.8 C286.9,608.5 285.8,605.3 285.4,601.8 C285.0,598.3 284.5,594.0 285.0,591.0 C285.5,588.0 286.7,585.7 288.5,584.0 C290.3,582.3 293.2,581.2 295.8,581.0 C298.4,580.8 301.6,581.5 304.0,583.0 C306.4,584.5 308.6,586.5 310.0,590.0 C311.4,593.5 311.7,599.8 312.1,603.8 C312.5,607.8 312.4,610.6 312.6,614.0 C312.7,617.4 312.9,620.8 313.0,624.2 C313.2,627.6 313.4,631.0 313.5,634.4 C313.7,637.8 313.8,641.3 314.0,644.7 C314.2,648.1 314.3,651.5 314.5,654.9 C314.6,658.3 314.8,661.7 315.0,665.1 C315.1,668.5 315.3,671.9 315.4,675.3 C315.6,678.7 315.7,682.1 315.8,685.5 C316.0,688.9 316.1,692.3 316.2,695.7 C316.3,699.1 316.3,702.5 316.4,706.0 C316.5,709.4 316.5,712.8 316.6,716.2 C316.6,719.6 316.6,723.0 316.7,726.4 C316.7,729.8 316.6,733.2 316.6,736.6 C316.6,740.0 316.5,743.4 316.4,746.8 C316.3,750.3 316.2,753.7 316.0,757.1 C315.8,760.5 315.6,763.9 315.4,767.3 C315.1,770.7 314.8,774.1 314.4,777.4 C314.1,780.8 313.7,784.2 313.2,787.6 C312.8,791.0 312.3,794.3 311.8,797.7 C311.4,801.1 310.9,804.5 310.4,807.8 C310.0,811.2 309.6,814.6 309.0,817.9 C308.4,821.3 307.8,824.6 306.9,827.9 C306.1,831.2 305.1,834.4 304.0,837.6 C303.0,840.9 301.8,844.0 300.5,847.2 C299.3,850.4 298.0,853.5 296.6,856.7 C295.3,859.8 293.2,864.4 292.5,866.0 Z"/></clipPath>
</defs>
<g id="massager">
<path d="M220.5,865 L236,852 L250,846 L288,846 L300,852 L316.5,865 Z" fill="#848484"/>
<g clip-path="url(#cp6)">
<path d="M236.0,652.0 C236.0,650.3 236.1,645.3 236.1,642.0 C236.2,638.7 236.2,635.3 236.3,632.0 C236.4,628.7 236.5,625.3 236.6,622.0 C236.8,618.7 236.4,614.4 237.0,612.0 C237.6,609.6 238.9,608.6 240.0,607.8 C241.1,607.0 242.4,606.6 243.5,607.4 C244.6,608.2 246.1,610.2 246.3,612.8 C246.5,615.4 245.4,619.4 244.8,622.7 C244.2,626.0 243.4,629.2 242.7,632.5 C241.9,635.7 241.0,639.0 240.2,642.2 C239.4,645.5 238.4,650.4 238.0,652.0 Z" fill="#8c8c8c"/>
<path d="M246.0,612.3 C246.0,612.4 246.1,612.2 246.0,612.8 C245.9,613.4 245.7,614.8 245.6,615.8 C245.4,616.8 245.3,617.9 245.1,618.9 C245.0,619.9 244.8,620.9 244.7,621.9 C244.5,622.9 244.3,623.9 244.1,625.0 C243.9,626.0 243.6,627.0 243.4,628.0 C243.2,629.0 243.0,630.0 242.8,631.0 C242.6,632.0 242.3,633.0 242.1,634.0 C241.9,635.0 241.6,636.0 241.4,637.0 C241.1,638.0 240.9,639.0 240.6,640.0 C240.4,641.0 240.1,642.0 239.9,643.0 C239.7,644.0 239.5,645.0 239.3,646.0 C239.0,647.0 238.8,648.0 238.6,649.0 C238.4,650.0 238.0,651.5 237.9,652.0" fill="none" stroke="#787878" stroke-width="2.1" filter="url(#fb)"/>
<path d="M237.0,612.0 C237.0,612.0 237.0,611.5 237.0,612.0 C237.0,612.5 236.9,614.1 236.9,615.1 C236.9,616.1 236.8,617.1 236.8,618.2 C236.7,619.2 236.7,620.2 236.7,621.2 C236.6,622.3 236.6,623.3 236.6,624.3 C236.5,625.3 236.5,626.4 236.5,627.4 C236.4,628.4 236.4,629.4 236.4,630.5 C236.3,631.5 236.3,632.5 236.3,633.5 C236.3,634.6 236.3,635.6 236.2,636.6 C236.2,637.6 236.2,638.7 236.2,639.7 C236.1,640.7 236.1,641.7 236.1,642.8 C236.1,643.8 236.1,644.8 236.1,645.8 C236.1,646.9 236.0,647.9 236.0,648.9 C236.0,649.9 236.0,651.5 236.0,652.0" fill="none" stroke="#7d7d7d" stroke-width="0.7" filter="url(#fb)"/>
<path d="M241.8,607.6 C241.7,608.4 241.7,611.1 241.7,612.4 C241.6,613.7 241.5,614.4 241.4,615.5 C241.3,616.5 241.2,617.5 241.1,618.5 C241.0,619.5 240.9,620.6 240.8,621.6 C240.7,622.6 240.6,623.6 240.4,624.6 C240.3,625.7 240.2,626.7 240.1,627.7 C239.9,628.7 239.8,629.7 239.7,630.7 C239.6,631.7 239.4,632.8 239.3,633.8 C239.2,634.8 239.0,635.8 238.9,636.8 C238.7,637.8 238.6,638.8 238.5,639.8 C238.3,640.8 238.2,641.9 238.1,642.9 C237.9,643.9 237.8,644.9 237.7,645.9 C237.6,646.9 237.5,647.9 237.4,649.0 C237.2,650.0 237.1,651.5 237.0,652.0" fill="none" stroke="#9c9c9c" stroke-width="2.1" filter="url(#fb)"/>
</g>
<g clip-path="url(#cp8)">
<path d="M292.0,652.0 C291.5,649.8 290.2,643.4 289.3,639.0 C288.4,634.7 287.5,630.4 286.6,626.0 C285.8,621.7 284.3,616.0 284.2,613.0 C284.1,610.0 285.2,608.9 286.0,608.0 C286.8,607.1 288.0,607.2 289.0,607.5 C290.0,607.8 291.4,607.8 292.0,610.0 C292.6,612.2 292.5,617.0 292.7,620.5 C292.9,624.0 293.1,627.5 293.3,631.0 C293.5,634.5 293.7,638.0 293.8,641.5 C293.9,645.0 294.0,650.2 294.0,652.0 Z" fill="#8c8c8c"/>
<path d="M291.7,609.8 C291.7,609.8 291.7,609.5 291.8,610.1 C291.8,610.7 291.9,612.2 292.0,613.3 C292.1,614.4 292.1,615.5 292.2,616.5 C292.3,617.6 292.4,618.7 292.4,619.8 C292.5,620.8 292.6,621.9 292.6,623.0 C292.7,624.1 292.8,625.1 292.9,626.2 C292.9,627.3 293.0,628.3 293.1,629.4 C293.1,630.5 293.2,631.6 293.2,632.6 C293.3,633.7 293.3,634.8 293.4,635.9 C293.4,636.9 293.5,638.0 293.5,639.1 C293.6,640.2 293.6,641.2 293.7,642.3 C293.7,643.4 293.7,644.5 293.8,645.5 C293.8,646.6 293.8,647.7 293.9,648.8 C293.9,649.8 293.9,651.5 293.9,652.0" fill="none" stroke="#787878" stroke-width="1.8" filter="url(#fb)"/>
<path d="M284.2,613.0 C284.2,613.0 284.1,612.5 284.2,613.0 C284.3,613.5 284.6,615.0 284.8,616.0 C284.9,617.0 285.1,618.0 285.3,619.0 C285.5,620.0 285.7,621.0 285.9,622.0 C286.1,623.0 286.2,624.0 286.4,625.0 C286.6,626.0 286.8,627.0 287.0,628.0 C287.2,629.0 287.4,630.0 287.6,631.0 C287.9,632.0 288.1,633.0 288.3,634.0 C288.5,635.0 288.7,636.0 288.9,637.0 C289.1,638.0 289.3,639.0 289.5,640.0 C289.7,641.0 289.9,642.0 290.1,643.0 C290.3,644.0 290.5,645.0 290.7,646.0 C291.0,647.0 291.2,648.0 291.4,649.0 C291.6,650.0 291.9,651.5 292.0,652.0" fill="none" stroke="#7d7d7d" stroke-width="0.6" filter="url(#fb)"/>
<path d="M287.5,607.8 C287.6,608.4 287.9,610.4 288.1,611.5 C288.3,612.6 288.4,613.6 288.5,614.6 C288.6,615.7 288.7,616.7 288.9,617.7 C289.0,618.8 289.1,619.8 289.3,620.9 C289.4,621.9 289.5,622.9 289.6,624.0 C289.8,625.0 289.9,626.0 290.0,627.1 C290.2,628.1 290.3,629.2 290.4,630.2 C290.6,631.2 290.7,632.3 290.8,633.3 C291.0,634.4 291.1,635.4 291.2,636.4 C291.3,637.5 291.5,638.5 291.6,639.5 C291.7,640.6 291.8,641.6 292.0,642.7 C292.1,643.7 292.2,644.7 292.3,645.8 C292.4,646.8 292.5,647.8 292.7,648.9 C292.8,649.9 292.9,651.5 293.0,652.0" fill="none" stroke="#9c9c9c" stroke-width="1.8" filter="url(#fb)"/>
</g>
<g clip-path="url(#cp4)">
<path d="M232.0,859.0 C230.5,858.3 225.8,856.2 222.8,854.7 C219.7,853.2 216.7,851.6 213.8,849.9 C210.9,848.2 208.0,846.3 205.3,844.3 C202.6,842.3 200.0,840.1 197.6,837.8 C195.1,835.5 192.8,833.0 190.6,830.5 C188.3,827.9 186.2,825.2 184.2,822.5 C182.2,819.8 180.4,816.9 178.6,814.0 C176.8,811.2 175.2,808.2 173.6,805.2 C172.1,802.1 170.7,799.1 169.3,795.9 C168.0,792.8 166.8,789.6 165.8,786.4 C164.7,783.2 163.7,779.9 162.8,776.6 C162.0,773.4 161.2,770.0 160.5,766.7 C159.8,763.4 159.2,760.0 158.7,756.7 C158.2,753.3 157.8,750.0 157.7,746.6 C157.6,743.3 157.7,740.0 158.0,736.6 C158.2,733.3 158.9,730.0 159.3,726.7 C159.8,723.3 160.4,720.0 160.7,716.6 C161.1,713.3 161.2,709.9 161.4,706.5 C161.5,703.1 161.5,699.7 161.6,696.3 C161.7,692.9 161.8,689.5 161.9,686.1 C162.0,682.7 162.2,679.3 162.4,675.9 C162.6,672.5 162.8,669.1 163.0,665.7 C163.3,662.3 163.5,658.9 163.9,655.5 C164.2,652.1 164.6,648.7 165.1,645.4 C165.6,642.0 166.2,638.7 166.9,635.4 C167.7,632.1 168.6,628.8 169.5,625.5 C170.5,622.3 171.4,617.4 172.6,615.8 C173.8,614.2 175.1,617.3 176.6,615.8 C178.1,614.3 179.6,608.7 181.6,606.8 C183.6,604.9 186.9,603.7 188.6,604.2 C190.3,604.7 191.7,607.2 191.9,609.8 C192.1,612.4 190.5,616.5 189.6,619.8 C188.7,623.1 187.5,626.2 186.6,629.4 C185.7,632.6 184.8,635.8 184.1,639.1 C183.4,642.3 182.8,645.6 182.3,648.9 C181.8,652.2 181.4,655.6 181.0,658.9 C180.6,662.2 180.2,665.5 179.9,668.9 C179.6,672.2 179.4,675.6 179.2,678.9 C179.0,682.3 178.9,685.6 178.8,689.0 C178.7,692.3 178.7,695.7 178.6,699.0 C178.6,702.4 178.6,705.7 178.6,709.1 C178.6,712.4 178.5,715.8 178.5,719.1 C178.5,722.5 178.4,725.8 178.4,729.2 C178.4,732.5 178.4,735.9 178.5,739.2 C178.6,742.6 178.8,745.9 179.1,749.2 C179.4,752.6 179.8,755.9 180.3,759.2 C180.8,762.5 181.3,765.8 182.0,769.1 C182.7,772.3 183.5,775.6 184.3,778.8 C185.2,782.0 186.2,785.2 187.3,788.4 C188.4,791.5 189.7,794.6 191.0,797.7 C192.4,800.7 193.9,803.7 195.5,806.7 C197.1,809.6 198.8,812.4 200.6,815.2 C202.5,818.0 204.5,820.7 206.6,823.3 C208.7,825.9 210.9,828.4 213.2,830.8 C215.5,833.2 217.9,835.5 220.4,837.7 C222.9,839.8 225.6,841.9 228.3,843.9 C231.0,845.8 233.8,847.7 236.6,849.5 C239.3,851.4 243.6,854.1 245.0,855.0 Z" fill="#898989"/>
<path d="M189.9,618.6 C189.7,618.8 190.1,616.3 189.1,619.7 C188.0,623.1 185.1,632.5 183.6,639.0 C182.2,645.5 181.3,652.2 180.4,658.8 C179.6,665.5 179.1,672.2 178.7,678.9 C178.3,685.5 178.3,692.2 178.1,698.9 C178.0,705.6 178.0,712.3 177.9,719.0 C177.9,725.7 177.6,732.4 177.9,739.1 C178.1,745.8 178.7,752.5 179.6,759.1 C180.6,765.7 181.9,772.3 183.7,778.8 C185.5,785.2 187.7,791.6 190.4,797.7 C193.1,803.8 196.4,809.8 200.1,815.3 C203.8,820.8 208.0,826.1 212.7,830.9 C217.3,835.7 222.5,840.0 227.8,844.1 C233.2,848.1 241.8,853.3 244.6,855.1" fill="none" stroke="#707070" stroke-width="7.3" filter="url(#fb)"/>
<path d="M176.6,615.8 C175.9,615.8 174.2,612.4 172.6,615.8 C171.0,619.2 168.3,629.2 166.8,636.1 C165.3,643.0 164.5,650.0 163.7,657.0 C163.0,664.0 162.6,671.0 162.3,678.0 C161.9,685.1 161.9,692.1 161.5,699.1 C161.2,706.2 160.8,713.2 160.2,720.2 C159.6,727.2 157.9,734.2 157.8,741.2 C157.7,748.1 158.5,755.2 159.7,762.1 C160.8,769.0 162.5,775.9 164.6,782.6 C166.7,789.3 169.3,796.0 172.3,802.3 C175.3,808.6 178.9,814.8 182.9,820.5 C186.9,826.2 191.4,831.8 196.5,836.6 C201.5,841.5 207.2,845.8 213.2,849.5 C219.1,853.2 228.9,857.4 232.0,859.0" fill="none" stroke="#7d7d7d" stroke-width="2.1" filter="url(#fb)"/>
<path d="M180.6,608.6 C179.8,609.9 177.7,611.9 176.0,616.6 C174.3,621.3 171.7,629.9 170.3,636.7 C168.8,643.5 168.0,650.4 167.2,657.4 C166.4,664.3 166.0,671.2 165.7,678.2 C165.3,685.2 165.3,692.1 165.0,699.1 C164.7,706.1 164.4,713.0 163.9,720.0 C163.4,726.9 162.0,733.8 162.0,740.7 C162.0,747.7 162.7,754.7 163.8,761.5 C164.9,768.4 166.5,775.2 168.6,781.8 C170.6,788.5 173.1,795.1 176.0,801.3 C179.0,807.6 182.5,813.7 186.4,819.4 C190.4,825.1 194.9,830.6 199.8,835.5 C204.8,840.3 210.4,844.6 216.2,848.4 C222.0,852.2 231.5,856.6 234.6,858.2" fill="none" stroke="#a4a4a4" stroke-width="4.2" filter="url(#fb)"/>
</g>
<g clip-path="url(#cp9)">
<path d="M290.0,855.0 C291.5,854.1 295.9,851.5 298.8,849.7 C301.7,847.8 304.5,846.0 307.3,844.0 C310.1,841.9 312.7,839.8 315.3,837.6 C317.9,835.3 320.3,833.0 322.7,830.5 C325.0,828.0 327.3,825.4 329.4,822.8 C331.5,820.1 333.5,817.3 335.4,814.5 C337.3,811.6 339.0,808.7 340.6,805.7 C342.2,802.7 343.7,799.6 345.1,796.5 C346.4,793.3 347.7,790.1 348.8,786.9 C349.9,783.7 350.8,780.4 351.7,777.1 C352.5,773.8 353.3,770.4 353.9,767.1 C354.6,763.7 355.1,760.3 355.5,756.9 C356.0,753.5 356.4,750.1 356.7,746.7 C357.0,743.3 357.3,739.9 357.5,736.5 C357.7,733.1 357.9,729.6 357.9,726.2 C358.0,722.8 358.0,719.4 358.0,715.9 C357.9,712.5 357.7,709.1 357.5,705.7 C357.4,702.2 357.1,698.8 356.9,695.4 C356.7,692.0 356.4,688.5 356.2,685.1 C356.0,681.7 355.8,678.3 355.5,674.9 C355.2,671.4 355.0,668.0 354.7,664.6 C354.4,661.2 354.0,657.8 353.5,654.4 C353.0,651.0 352.5,647.7 351.7,644.4 C350.9,641.1 349.9,637.9 348.8,634.7 C347.7,631.5 346.3,628.4 345.0,625.3 C343.8,622.1 341.6,618.9 341.1,615.8 C340.6,612.7 341.0,609.1 341.9,606.8 C342.8,604.5 344.6,602.2 346.5,602.2 C348.4,602.2 351.5,603.9 353.5,606.8 C355.5,609.7 357.3,617.6 358.5,619.8 C359.7,622.0 359.7,618.1 360.5,619.8 C361.3,621.5 362.3,626.4 363.1,629.8 C363.9,633.1 364.7,636.5 365.3,639.8 C365.9,643.2 366.4,646.6 366.9,650.0 C367.4,653.4 367.7,656.8 368.1,660.2 C368.4,663.7 368.8,667.1 369.1,670.5 C369.4,673.9 369.8,677.4 370.1,680.8 C370.3,684.2 370.6,687.6 370.8,691.1 C371.0,694.5 371.2,697.9 371.4,701.4 C371.5,704.8 371.6,708.2 371.7,711.7 C371.8,715.1 371.9,718.6 371.9,722.0 C371.9,725.4 371.9,728.9 371.8,732.3 C371.8,735.7 371.6,739.2 371.4,742.6 C371.2,746.0 370.9,749.5 370.5,752.9 C370.1,756.3 369.7,759.7 369.1,763.1 C368.5,766.4 367.8,769.8 367.0,773.1 C366.2,776.5 365.3,779.8 364.3,783.1 C363.2,786.3 362.1,789.6 360.9,792.8 C359.6,795.9 358.3,799.1 356.7,802.1 C355.2,805.2 353.5,808.2 351.7,811.1 C349.9,813.9 347.9,816.7 345.8,819.4 C343.8,822.2 341.5,824.8 339.3,827.4 C337.0,829.9 334.6,832.4 332.2,834.8 C329.7,837.2 327.2,839.5 324.5,841.7 C321.9,843.9 319.2,845.9 316.4,847.9 C313.6,849.9 310.7,851.7 307.8,853.6 C304.9,855.4 300.5,858.1 299.0,859.0 Z" fill="#959595"/>
<path d="M357.9,618.2 C358.2,618.5 358.8,616.1 359.9,619.7 C361.1,623.3 363.5,632.9 364.8,639.7 C366.1,646.4 366.8,653.2 367.6,660.0 C368.4,666.9 369.1,673.7 369.6,680.5 C370.2,687.4 370.6,694.2 370.9,701.1 C371.2,707.9 371.4,714.8 371.5,721.6 C371.5,728.5 371.5,735.4 371.0,742.2 C370.5,749.1 369.9,755.9 368.7,762.7 C367.5,769.4 366.0,776.2 363.9,782.7 C361.9,789.2 359.5,795.7 356.4,801.8 C353.4,807.9 349.6,813.8 345.5,819.3 C341.4,824.7 336.8,829.9 331.9,834.7 C327.0,839.4 321.6,843.7 316.1,847.8 C310.5,851.8 301.6,857.0 298.7,858.9" fill="none" stroke="#7c7c7c" stroke-width="3.6" filter="url(#fb)"/>
<path d="M341.1,615.8 C341.1,615.8 339.8,612.6 341.1,615.8 C342.4,619.0 346.7,628.3 348.8,634.8 C350.9,641.3 352.5,648.0 353.6,654.7 C354.7,661.4 355.0,668.3 355.5,675.1 C356.1,681.9 356.5,688.7 356.9,695.5 C357.3,702.4 357.9,709.2 358.0,716.0 C358.1,722.8 357.9,729.7 357.5,736.5 C357.1,743.3 356.5,750.1 355.6,756.9 C354.6,763.7 353.4,770.4 351.7,777.0 C349.9,783.6 347.8,790.2 345.1,796.4 C342.4,802.6 339.1,808.8 335.4,814.5 C331.7,820.1 327.4,825.6 322.7,830.5 C318.0,835.4 312.7,839.9 307.3,844.0 C301.8,848.1 292.9,853.2 290.0,855.0" fill="none" stroke="#7d7d7d" stroke-width="1.4" filter="url(#fb)"/>
<path d="M344.7,604.0 C345.4,606.3 347.1,611.9 348.9,617.4 C350.7,622.9 353.7,630.2 355.4,636.8 C357.2,643.4 358.4,650.1 359.4,656.9 C360.4,663.7 360.8,670.5 361.3,677.3 C361.9,684.2 362.3,691.0 362.7,697.8 C363.1,704.7 363.5,711.5 363.5,718.3 C363.6,725.2 363.5,732.0 363.1,738.9 C362.6,745.7 362.0,752.5 361.0,759.3 C359.9,766.0 358.6,772.8 356.7,779.4 C354.9,785.9 352.6,792.5 349.8,798.6 C346.9,804.8 343.5,810.8 339.6,816.4 C335.7,822.0 331.3,827.4 326.5,832.2 C321.7,837.1 316.4,841.5 310.9,845.5 C305.4,849.6 296.5,854.8 293.6,856.6" fill="none" stroke="#a6a6a6" stroke-width="4.3" filter="url(#fb)"/>
</g>
<g clip-path="url(#cp1)">
<path d="M219.4,863.0 C217.8,862.6 212.9,861.5 209.6,860.7 C206.4,859.8 203.1,859.0 200.0,858.0 C196.8,856.9 193.7,855.8 190.7,854.4 C187.7,853.1 184.7,851.5 181.8,849.9 C178.9,848.2 176.1,846.4 173.4,844.5 C170.7,842.6 167.9,840.6 165.4,838.5 C162.8,836.4 160.2,834.2 157.8,831.9 C155.4,829.6 153.2,827.1 151.0,824.6 C148.8,822.1 146.7,819.5 144.7,816.8 C142.6,814.2 140.7,811.5 138.9,808.7 C137.0,805.9 135.3,803.0 133.7,800.1 C132.1,797.2 130.5,794.2 129.1,791.2 C127.6,788.2 126.3,785.1 125.0,782.0 C123.8,778.9 122.7,775.8 121.6,772.6 C120.6,769.4 119.7,766.2 118.9,762.9 C118.1,759.7 117.5,756.4 116.9,753.1 C116.3,749.8 115.9,746.5 115.4,743.2 C115.0,739.9 114.6,736.5 114.3,733.2 C114.0,729.9 113.8,726.5 113.6,723.2 C113.4,719.8 113.4,716.5 113.3,713.1 C113.3,709.8 113.4,706.4 113.5,703.1 C113.6,699.7 113.8,696.4 114.0,693.1 C114.1,689.7 114.4,686.4 114.7,683.0 C114.9,679.7 115.2,676.3 115.6,673.0 C116.0,669.7 116.4,666.3 116.8,663.0 C117.3,659.7 117.8,656.4 118.5,653.1 C119.1,649.8 119.7,646.5 120.5,643.3 C121.2,640.0 122.0,636.7 122.9,633.5 C123.7,630.3 124.7,627.1 125.8,623.9 C126.9,620.8 128.1,617.7 129.4,614.6 C130.8,611.6 132.3,608.6 133.9,605.7 C135.4,602.7 137.3,599.1 138.8,596.9 C140.3,594.7 141.3,593.3 143.0,592.5 C144.7,591.7 147.3,591.9 149.0,592.2 C150.7,592.5 152.4,593.5 153.0,594.5 C153.6,595.5 153.6,595.9 152.7,597.9 C151.8,599.9 149.4,603.8 147.8,606.8 C146.1,609.8 144.5,612.7 142.9,615.7 C141.2,618.7 139.6,621.6 138.1,624.6 C136.6,627.6 135.1,630.7 133.9,633.8 C132.7,636.9 131.6,640.1 130.7,643.3 C129.8,646.5 129.1,649.9 128.5,653.2 C127.9,656.5 127.4,659.8 127.0,663.2 C126.6,666.5 126.3,669.9 126.1,673.3 C125.8,676.7 125.6,680.0 125.4,683.4 C125.3,686.8 125.2,690.2 125.1,693.6 C125.0,697.0 125.0,700.3 124.9,703.7 C124.9,707.1 124.9,710.5 124.9,713.9 C124.9,717.3 124.9,720.7 124.9,724.1 C125.0,727.4 125.0,730.8 125.2,734.2 C125.3,737.6 125.5,740.9 125.9,744.3 C126.2,747.7 126.6,751.0 127.1,754.4 C127.7,757.7 128.3,761.0 129.1,764.3 C129.8,767.6 130.7,770.8 131.7,774.1 C132.8,777.3 133.9,780.5 135.1,783.6 C136.3,786.8 137.7,789.9 139.1,792.9 C140.5,796.0 142.0,799.0 143.7,801.9 C145.3,804.9 147.0,807.8 148.9,810.6 C150.8,813.4 152.8,816.1 154.9,818.7 C157.0,821.4 159.2,823.9 161.6,826.3 C163.9,828.8 166.3,831.1 168.8,833.3 C171.4,835.6 174.0,837.7 176.7,839.7 C179.4,841.8 182.1,843.7 185.0,845.5 C187.8,847.3 190.7,849.1 193.7,850.6 C196.7,852.1 199.8,853.5 202.9,854.8 C206.0,856.1 209.2,857.2 212.4,858.3 C215.5,859.4 220.4,861.0 222.0,861.5 Z" fill="#949494"/>
<path d="M152.7,597.5 C152.7,597.6 154.3,594.3 152.3,597.9 C150.3,601.5 144.2,611.8 140.7,619.1 C137.1,626.3 133.5,633.5 131.1,641.2 C128.8,648.8 127.6,656.9 126.6,664.9 C125.5,672.8 125.2,680.9 124.9,689.0 C124.6,697.0 124.5,705.1 124.6,713.1 C124.6,721.2 124.5,729.3 125.1,737.3 C125.7,745.3 126.5,753.4 128.2,761.2 C129.9,769.1 132.2,776.9 135.1,784.3 C138.1,791.8 141.6,799.1 145.8,805.9 C150.0,812.8 154.9,819.4 160.3,825.2 C165.7,831.1 171.9,836.5 178.4,841.2 C184.9,845.8 192.0,849.9 199.2,853.3 C206.5,856.7 218.1,860.2 221.9,861.5" fill="none" stroke="#7a7a7a" stroke-width="3.0" filter="url(#fb)"/>
<path d="M138.8,596.9 C138.8,596.9 140.6,593.2 138.8,596.9 C137.0,600.6 130.8,611.3 127.7,618.9 C124.7,626.5 122.5,634.6 120.6,642.5 C118.7,650.5 117.5,658.7 116.4,666.8 C115.3,675.0 114.6,683.2 114.1,691.4 C113.6,699.6 113.2,707.9 113.4,716.1 C113.6,724.3 114.1,732.5 115.2,740.7 C116.2,748.8 117.4,757.0 119.5,764.9 C121.6,772.9 124.4,780.7 127.7,788.2 C131.1,795.6 135.1,802.9 139.6,809.7 C144.2,816.5 149.4,823.1 155.1,829.0 C160.8,834.8 167.2,840.2 173.9,844.8 C180.7,849.4 188.1,853.3 195.7,856.3 C203.2,859.4 215.4,861.9 219.4,863.0" fill="none" stroke="#7d7d7d" stroke-width="1.0" filter="url(#fb)"/>
<path d="M145.4,592.4 C145.1,593.2 145.8,592.8 143.7,597.2 C141.5,601.7 135.6,611.5 132.4,619.0 C129.2,626.4 126.5,634.2 124.4,642.0 C122.4,649.9 121.1,658.0 120.0,666.1 C119.0,674.2 118.4,682.4 118.0,690.5 C117.5,698.7 117.3,706.8 117.4,715.0 C117.6,723.2 117.9,731.3 118.7,739.4 C119.6,747.5 120.7,755.7 122.6,763.6 C124.6,771.5 127.2,779.3 130.4,786.8 C133.6,794.2 137.4,801.6 141.9,808.4 C146.3,815.2 151.3,821.8 157.0,827.6 C162.6,833.5 168.9,838.9 175.5,843.5 C182.2,848.1 189.5,852.1 197.0,855.2 C204.4,858.4 216.4,861.3 220.3,862.5" fill="none" stroke="#b0b0b0" stroke-width="2.8" filter="url(#fb)"/>
</g>
<g clip-path="url(#cp2)">
<path d="M220.5,861.5 C218.9,861.0 214.0,859.4 210.8,858.3 C207.7,857.2 204.5,856.1 201.3,854.8 C198.2,853.5 195.2,852.1 192.2,850.6 C189.2,849.0 186.3,847.3 183.4,845.5 C180.6,843.7 177.8,841.8 175.1,839.7 C172.5,837.7 169.8,835.6 167.3,833.3 C164.8,831.1 162.3,828.7 160.0,826.3 C157.7,823.9 155.5,821.3 153.3,818.7 C151.2,816.1 149.2,813.4 147.4,810.5 C145.5,807.7 143.8,804.8 142.1,801.9 C140.5,798.9 139.0,795.9 137.6,792.9 C136.1,789.8 134.8,786.7 133.6,783.5 C132.4,780.4 131.2,777.2 130.2,774.0 C129.2,770.8 128.3,767.5 127.6,764.2 C126.8,760.9 126.1,757.6 125.6,754.3 C125.1,750.9 124.7,747.6 124.5,744.2 C124.2,740.8 124.1,737.5 124.0,734.1 C124.0,730.7 124.1,727.3 124.1,723.9 C124.2,720.6 124.2,717.2 124.3,713.8 C124.3,710.4 124.4,707.0 124.4,703.6 C124.5,700.2 124.5,696.8 124.6,693.5 C124.7,690.1 124.8,686.7 124.9,683.3 C125.1,679.9 125.3,676.5 125.6,673.2 C125.8,669.8 126.2,666.4 126.6,663.1 C127.0,659.7 127.5,656.4 128.2,653.1 C128.8,649.8 129.6,646.5 130.5,643.2 C131.5,640.0 132.5,636.8 133.7,633.6 C134.9,630.5 136.3,627.4 137.6,624.3 C139.0,621.2 140.5,618.2 142.0,615.1 C143.5,612.1 145.5,607.5 146.5,606.0 C147.5,604.5 147.1,606.8 148.0,606.0 C148.9,605.2 150.7,601.9 152.0,601.0 C153.3,600.1 155.0,600.2 156.0,600.5 C157.0,600.8 158.1,601.5 158.2,602.5 C158.3,603.5 157.7,604.5 156.7,606.8 C155.7,609.1 153.8,613.0 152.4,616.1 C151.0,619.3 149.6,622.4 148.3,625.5 C147.0,628.7 145.7,631.8 144.6,635.0 C143.4,638.3 142.4,641.5 141.5,644.8 C140.7,648.1 139.9,651.4 139.3,654.8 C138.7,658.1 138.2,661.5 137.8,664.9 C137.4,668.3 137.1,671.7 136.8,675.1 C136.6,678.5 136.4,681.9 136.2,685.3 C136.1,688.7 136.0,692.2 135.9,695.6 C135.9,699.0 135.8,702.4 135.8,705.8 C135.8,709.3 135.8,712.7 135.8,716.1 C135.8,719.5 135.8,722.9 135.8,726.4 C135.9,729.8 135.9,733.2 136.1,736.6 C136.2,740.0 136.5,743.4 136.8,746.8 C137.2,750.2 137.6,753.6 138.3,756.9 C138.9,760.3 139.7,763.6 140.6,766.8 C141.6,770.1 142.7,773.3 143.9,776.5 C145.2,779.6 146.5,782.8 148.1,785.8 C149.6,788.8 151.3,791.8 153.1,794.6 C155.0,797.5 157.0,800.2 159.1,802.9 C161.2,805.6 163.4,808.1 165.6,810.7 C167.8,813.3 170.1,815.9 172.4,818.4 C174.7,821.0 177.0,823.5 179.3,826.0 C181.7,828.4 184.1,830.8 186.7,833.1 C189.2,835.3 191.8,837.5 194.6,839.5 C197.3,841.6 200.1,843.5 203.0,845.3 C205.9,847.2 208.8,848.9 211.8,850.5 C214.8,852.2 217.8,853.8 220.8,855.4 C223.9,856.9 228.5,859.2 230.0,860.0 Z" fill="#8c8c8c"/>
<path d="M156.9,606.3 C156.8,606.4 158.0,603.2 156.4,606.8 C154.8,610.3 149.8,620.5 147.1,627.6 C144.4,634.7 141.9,642.0 140.2,649.4 C138.5,656.7 137.5,664.4 136.8,671.9 C136.0,679.5 135.8,687.1 135.6,694.7 C135.4,702.3 135.4,710.0 135.4,717.6 C135.5,725.2 135.3,732.8 136.0,740.4 C136.6,748.0 137.5,755.6 139.3,762.9 C141.2,770.3 143.7,777.6 147.0,784.4 C150.3,791.2 154.7,797.6 159.2,803.7 C163.7,809.7 168.9,815.4 174.1,820.9 C179.3,826.5 184.7,832.0 190.6,836.7 C196.5,841.5 203.0,845.6 209.5,849.5 C216.0,853.4 226.3,858.3 229.7,860.0" fill="none" stroke="#747474" stroke-width="3.6" filter="url(#fb)"/>
<path d="M148.0,606.0 C147.8,606.0 148.4,602.5 146.5,606.0 C144.6,609.5 139.4,619.9 136.5,627.1 C133.6,634.3 130.9,641.7 129.1,649.3 C127.3,656.8 126.4,664.6 125.7,672.4 C124.9,680.1 124.8,687.9 124.5,695.7 C124.3,703.5 124.2,711.3 124.2,719.1 C124.2,726.9 123.8,734.7 124.4,742.5 C125.0,750.2 126.1,758.0 127.9,765.6 C129.7,773.1 132.3,780.6 135.4,787.7 C138.4,794.8 141.9,801.9 146.1,808.4 C150.3,814.9 155.2,821.2 160.5,826.8 C165.9,832.4 172.0,837.5 178.3,841.9 C184.6,846.4 191.5,850.3 198.5,853.5 C205.6,856.8 216.8,860.2 220.5,861.5" fill="none" stroke="#7d7d7d" stroke-width="1.2" filter="url(#fb)"/>
<path d="M156.0,600.5 C155.3,601.5 153.9,601.9 151.6,606.4 C149.3,610.9 144.7,620.2 142.0,627.4 C139.2,634.5 136.6,641.9 134.8,649.3 C133.0,656.8 132.2,664.5 131.4,672.1 C130.6,679.8 130.5,687.5 130.2,695.2 C130.0,702.9 130.0,710.6 130.0,718.3 C130.0,726.0 129.7,733.8 130.4,741.4 C131.0,749.1 132.0,756.8 133.8,764.2 C135.6,771.6 138.2,779.0 141.4,786.0 C144.5,793.0 148.5,799.7 152.9,806.0 C157.2,812.3 162.2,818.2 167.5,823.8 C172.8,829.3 178.5,834.6 184.6,839.3 C190.7,843.9 197.4,847.9 204.2,851.4 C210.9,855.0 221.7,859.2 225.2,860.8" fill="none" stroke="#9c9c9c" stroke-width="3.6" filter="url(#fb)"/>
</g>
<g clip-path="url(#cp11)">
<path d="M312.0,858.0 C313.4,857.0 317.6,854.0 320.3,852.0 C323.1,850.0 325.9,848.0 328.6,845.9 C331.3,843.8 334.0,841.7 336.6,839.5 C339.2,837.3 341.8,835.0 344.4,832.8 C346.9,830.5 349.4,828.1 351.9,825.7 C354.3,823.4 356.7,820.9 359.1,818.5 C361.5,816.0 363.9,813.5 366.2,811.0 C368.5,808.4 370.7,805.9 372.9,803.3 C375.1,800.6 377.2,797.9 379.1,795.1 C381.0,792.3 382.8,789.4 384.4,786.4 C386.0,783.4 387.3,780.3 388.6,777.2 C389.8,774.0 390.8,770.7 391.7,767.5 C392.6,764.2 393.3,760.8 394.0,757.5 C394.7,754.2 395.3,750.8 395.9,747.4 C396.6,744.1 397.2,740.7 397.9,737.3 C398.5,734.0 399.3,730.7 399.8,727.3 C400.4,723.9 400.9,720.6 401.2,717.2 C401.5,713.8 401.6,710.4 401.6,707.0 C401.7,703.6 401.5,700.2 401.3,696.8 C401.2,693.4 401.0,689.9 400.7,686.5 C400.5,683.1 400.2,679.7 399.9,676.3 C399.5,672.9 399.2,669.5 398.8,666.1 C398.4,662.7 397.9,659.3 397.4,655.9 C396.8,652.5 396.2,649.1 395.5,645.8 C394.7,642.5 393.8,639.2 392.7,636.0 C391.6,632.8 390.2,629.7 388.7,626.7 C387.3,623.6 385.5,620.7 383.8,617.8 C382.1,614.8 380.3,611.9 378.6,608.9 C377.0,606.0 374.7,602.0 373.8,599.9 C372.9,597.8 373.1,597.3 373.5,596.5 C373.9,595.7 375.0,595.0 376.0,595.0 C377.0,595.0 377.9,594.8 379.4,596.5 C380.9,598.2 383.1,602.1 384.9,604.9 C386.7,607.8 388.5,610.6 390.1,613.5 C391.8,616.4 393.4,619.4 394.8,622.4 C396.2,625.4 397.5,628.5 398.7,631.6 C399.8,634.8 400.8,638.0 401.7,641.2 C402.5,644.4 403.3,647.7 404.0,651.0 C404.7,654.3 405.3,657.6 405.9,660.9 C406.4,664.2 406.9,667.5 407.2,670.8 C407.6,674.2 408.0,677.5 408.3,680.9 C408.6,684.2 408.8,687.5 409.0,690.9 C409.2,694.2 409.4,697.6 409.5,701.0 C409.6,704.3 409.7,707.7 409.7,711.0 C409.7,714.4 409.6,717.7 409.4,721.1 C409.2,724.4 408.8,727.7 408.5,731.1 C408.1,734.4 407.6,737.7 407.2,741.1 C406.8,744.4 406.3,747.7 405.8,751.0 C405.3,754.3 404.8,757.7 404.1,760.9 C403.4,764.2 402.6,767.5 401.7,770.7 C400.8,773.9 399.8,777.1 398.6,780.2 C397.4,783.3 396.1,786.4 394.6,789.4 C393.1,792.3 391.4,795.2 389.7,798.1 C387.9,800.9 385.9,803.6 383.9,806.3 C381.9,808.9 379.7,811.5 377.5,814.0 C375.3,816.5 373.0,818.9 370.6,821.3 C368.3,823.7 365.8,826.0 363.4,828.3 C360.9,830.6 358.4,832.8 355.9,835.0 C353.3,837.2 350.7,839.3 348.0,841.4 C345.4,843.4 342.7,845.4 340.0,847.4 C337.3,849.4 334.5,851.3 331.8,853.3 C329.0,855.2 324.9,858.0 323.5,859.0 Z" fill="#8d8d8d"/>
<path d="M379.1,596.4 C379.1,596.4 377.2,593.3 379.2,596.6 C381.3,599.9 387.8,609.5 391.4,616.3 C394.9,623.2 398.0,630.3 400.3,637.7 C402.7,645.0 404.2,652.6 405.5,660.2 C406.8,667.8 407.6,675.6 408.2,683.3 C408.9,691.0 409.4,698.7 409.4,706.4 C409.4,714.1 409.0,721.9 408.3,729.5 C407.6,737.2 406.6,744.9 405.2,752.5 C403.8,760.1 402.4,767.8 399.9,775.1 C397.5,782.3 394.3,789.5 390.4,796.1 C386.5,802.7 381.5,808.8 376.5,814.6 C371.4,820.4 365.8,825.8 360.0,830.9 C354.3,836.1 348.2,840.9 342.1,845.6 C335.9,850.2 326.3,856.7 323.2,859.0" fill="none" stroke="#767676" stroke-width="2.2" filter="url(#fb)"/>
<path d="M373.8,599.9 C373.8,599.9 371.9,596.6 373.8,599.9 C375.7,603.2 381.5,613.0 384.9,619.8 C388.3,626.6 391.8,633.5 394.0,640.7 C396.3,647.9 397.3,655.6 398.4,663.1 C399.5,670.6 400.1,678.2 400.7,685.8 C401.2,693.4 401.8,701.0 401.6,708.6 C401.3,716.2 400.2,723.7 399.1,731.3 C397.9,738.8 396.4,746.3 394.7,753.7 C393.1,761.1 391.7,768.7 389.0,775.8 C386.3,782.8 382.7,789.7 378.5,795.9 C374.3,802.2 369.0,807.8 363.8,813.4 C358.7,819.1 353.3,824.4 347.7,829.6 C342.1,834.8 336.3,839.7 330.4,844.4 C324.4,849.2 315.1,855.7 312.0,858.0" fill="none" stroke="#7d7d7d" stroke-width="0.7" filter="url(#fb)"/>
<path d="M374.4,596.0 C374.7,596.4 374.1,594.7 376.3,598.4 C378.6,602.1 384.5,611.4 387.9,618.2 C391.3,625.0 394.7,632.0 397.0,639.3 C399.2,646.5 400.5,654.2 401.7,661.8 C402.9,669.3 403.6,677.0 404.2,684.6 C404.8,692.3 405.3,699.9 405.2,707.6 C405.1,715.2 404.3,722.9 403.4,730.5 C402.4,738.1 401.2,745.6 399.6,753.1 C398.1,760.6 396.7,768.3 394.1,775.4 C391.5,782.6 388.1,789.6 384.0,796.0 C379.9,802.4 374.8,808.3 369.7,814.0 C364.6,819.7 359.1,825.1 353.4,830.2 C347.8,835.4 341.8,840.3 335.8,845.0 C329.8,849.7 320.3,856.2 317.2,858.5" fill="none" stroke="#a0a0a0" stroke-width="2.2" filter="url(#fb)"/>
</g>
<g clip-path="url(#cp12)">
<path d="M322.0,859.0 C323.4,858.0 327.6,855.2 330.4,853.2 C333.1,851.3 335.9,849.3 338.6,847.3 C341.4,845.3 344.1,843.3 346.7,841.2 C349.4,839.1 352.0,837.0 354.6,834.8 C357.2,832.6 359.7,830.4 362.2,828.1 C364.6,825.8 367.1,823.4 369.4,821.0 C371.8,818.6 374.1,816.1 376.4,813.6 C378.6,811.1 380.8,808.5 382.8,805.8 C384.8,803.1 386.8,800.3 388.5,797.5 C390.3,794.6 391.9,791.7 393.4,788.7 C394.9,785.7 396.2,782.5 397.4,779.4 C398.5,776.3 399.5,773.0 400.4,769.8 C401.3,766.5 402.1,763.2 402.7,759.9 C403.4,756.6 403.9,753.3 404.4,750.0 C405.0,746.6 405.4,743.3 405.9,739.9 C406.3,736.6 406.8,733.2 407.1,729.8 C407.5,726.5 407.8,723.1 408.0,719.7 C408.2,716.4 408.2,713.0 408.2,709.6 C408.2,706.3 408.1,702.9 408.0,699.5 C407.9,696.1 407.7,692.7 407.4,689.3 C407.2,686.0 406.9,682.6 406.6,679.2 C406.3,675.9 406.0,672.5 405.6,669.1 C405.1,665.8 404.7,662.4 404.1,659.1 C403.6,655.8 402.9,652.4 402.2,649.1 C401.5,645.8 400.7,642.5 399.8,639.3 C398.9,636.0 398.0,632.8 396.8,629.7 C395.6,626.5 394.3,623.4 392.9,620.4 C391.5,617.3 389.9,614.3 388.2,611.4 C386.6,608.4 384.9,605.5 383.2,602.6 C381.5,599.7 378.5,595.3 377.9,593.9 C377.3,592.5 379.1,594.5 379.4,593.9 C379.7,593.3 378.9,591.2 379.5,590.5 C380.1,589.8 381.0,588.8 383.3,589.5 C385.6,590.2 390.7,592.6 393.3,594.9 C395.9,597.2 397.2,600.3 398.8,603.1 C400.5,606.0 402.0,608.9 403.3,611.9 C404.6,614.9 405.6,618.1 406.5,621.3 C407.4,624.5 408.1,627.8 408.8,631.0 C409.5,634.3 410.0,637.6 410.7,640.9 C411.3,644.2 411.9,647.5 412.5,650.8 C413.1,654.1 413.8,657.4 414.4,660.7 C415.0,664.0 415.6,667.3 416.1,670.6 C416.6,673.9 417.1,677.2 417.5,680.5 C417.9,683.8 418.2,687.2 418.5,690.5 C418.7,693.8 418.9,697.2 419.0,700.5 C419.2,703.9 419.2,707.2 419.2,710.6 C419.3,713.9 419.2,717.3 419.1,720.6 C419.0,723.9 418.8,727.3 418.5,730.6 C418.3,734.0 418.0,737.3 417.6,740.6 C417.3,743.9 416.9,747.3 416.4,750.6 C416.0,753.9 415.5,757.2 414.8,760.5 C414.2,763.8 413.5,767.0 412.7,770.3 C411.8,773.5 410.9,776.7 409.8,779.8 C408.7,783.0 407.5,786.1 406.2,789.2 C404.8,792.2 403.3,795.2 401.7,798.1 C400.1,801.0 398.4,803.9 396.5,806.6 C394.7,809.4 392.7,812.1 390.6,814.7 C388.5,817.3 386.3,819.8 384.1,822.3 C381.8,824.7 379.4,827.1 377.0,829.3 C374.5,831.6 372.0,833.8 369.4,835.9 C366.8,838.0 364.2,840.1 361.5,842.1 C358.8,844.0 356.0,846.0 353.3,847.8 C350.5,849.6 347.6,851.5 344.8,853.1 C341.9,854.7 338.9,856.3 335.9,857.7 C332.9,859.0 329.8,860.1 326.6,861.2 C323.5,862.2 318.6,863.5 317.0,864.0 Z" fill="#8c8c8c"/>
<path d="M392.4,594.4 C392.5,594.5 390.8,591.2 392.8,594.9 C394.8,598.5 401.5,608.9 404.4,616.4 C407.3,624.0 408.5,632.3 410.2,640.3 C411.9,648.3 413.4,656.4 414.7,664.5 C416.0,672.6 417.3,680.7 418.0,688.9 C418.7,697.0 419.0,705.2 418.9,713.4 C418.8,721.6 418.3,729.8 417.5,738.0 C416.7,746.1 415.8,754.3 414.1,762.3 C412.3,770.3 410.2,778.3 407.1,785.8 C404.0,793.4 400.0,800.7 395.5,807.5 C390.9,814.2 385.4,820.5 379.6,826.2 C373.8,832.0 367.5,837.3 360.9,842.1 C354.3,846.9 347.4,851.6 340.1,855.2 C332.8,858.8 321.0,862.4 317.2,863.8" fill="none" stroke="#767676" stroke-width="3.7" filter="url(#fb)"/>
<path d="M379.4,593.9 C379.1,593.9 376.2,590.5 377.9,593.9 C379.6,597.3 386.2,607.1 389.7,614.1 C393.1,621.0 396.3,628.2 398.7,635.6 C401.1,643.0 402.6,650.7 404.0,658.4 C405.3,666.0 406.1,673.8 406.8,681.6 C407.5,689.3 408.0,697.1 408.1,704.9 C408.2,712.7 407.9,720.5 407.3,728.2 C406.6,736.0 405.6,743.7 404.2,751.4 C402.8,759.1 401.5,766.8 399.0,774.2 C396.6,781.5 393.5,788.8 389.6,795.5 C385.7,802.2 380.8,808.4 375.7,814.2 C370.7,820.1 365.0,825.5 359.2,830.7 C353.4,835.9 347.3,840.8 341.1,845.5 C334.9,850.2 325.2,856.7 322.0,859.0" fill="none" stroke="#7d7d7d" stroke-width="1.2" filter="url(#fb)"/>
<path d="M380.8,590.1 C381.5,590.9 382.2,590.2 384.8,594.4 C387.4,598.5 393.3,607.9 396.5,615.2 C399.7,622.4 402.0,630.1 404.0,637.8 C406.1,645.5 407.6,653.3 409.0,661.2 C410.3,669.1 411.3,677.0 412.0,684.9 C412.7,692.9 413.1,700.9 413.1,708.8 C413.1,716.8 412.7,724.8 412.0,732.7 C411.3,740.7 410.3,748.7 408.8,756.5 C407.2,764.3 405.5,772.2 402.8,779.6 C400.0,787.0 396.5,794.3 392.3,801.1 C388.1,807.8 382.9,814.0 377.5,819.8 C372.1,825.6 366.1,831.0 360.0,836.0 C353.8,841.0 347.3,845.8 340.6,850.0 C333.9,854.2 323.2,859.4 319.8,861.2" fill="none" stroke="#a0a0a0" stroke-width="3.7" filter="url(#fb)"/>
</g>
<g clip-path="url(#cp3)">
<path d="M222.0,863.0 C220.5,862.3 215.8,860.2 212.9,858.7 C209.9,857.2 206.9,855.6 204.1,853.8 C201.3,852.0 198.7,850.1 196.1,847.9 C193.6,845.8 191.3,843.3 189.0,840.9 C186.8,838.4 184.6,835.8 182.5,833.2 C180.4,830.6 178.4,827.9 176.4,825.2 C174.4,822.5 172.3,819.7 170.5,816.9 C168.6,814.2 166.8,811.3 165.3,808.4 C163.7,805.4 162.3,802.4 161.0,799.3 C159.7,796.2 158.6,793.0 157.6,789.8 C156.5,786.6 155.6,783.4 154.7,780.1 C153.8,776.9 152.9,773.6 152.2,770.3 C151.4,767.0 150.7,763.8 150.1,760.4 C149.5,757.1 149.0,753.8 148.5,750.5 C148.1,747.1 147.7,743.8 147.4,740.4 C147.1,737.1 146.9,733.7 146.7,730.3 C146.6,727.0 146.5,723.6 146.4,720.2 C146.4,716.8 146.4,713.5 146.4,710.1 C146.5,706.7 146.5,703.4 146.6,700.0 C146.7,696.6 146.8,693.2 147.0,689.9 C147.1,686.5 147.4,683.1 147.6,679.8 C147.8,676.4 148.0,673.0 148.3,669.7 C148.5,666.3 148.8,662.9 149.1,659.6 C149.4,656.2 149.7,652.9 150.1,649.5 C150.5,646.2 151.0,642.8 151.5,639.5 C152.0,636.2 152.6,632.8 153.2,629.5 C153.8,626.2 154.4,622.9 155.1,619.6 C155.8,616.3 156.5,613.0 157.3,609.7 C158.1,606.4 158.0,603.4 159.7,599.9 C161.4,596.4 164.4,591.3 167.7,588.9 C171.0,586.5 176.7,585.3 179.6,585.5 C182.5,585.7 184.5,587.5 185.2,589.9 C185.9,592.3 184.7,596.8 183.6,599.9 C182.5,603.0 180.4,605.8 178.9,608.8 C177.4,611.8 175.9,614.8 174.6,617.9 C173.4,621.0 172.2,624.1 171.3,627.3 C170.3,630.5 169.6,633.8 168.9,637.1 C168.3,640.3 167.8,643.7 167.4,647.0 C166.9,650.3 166.6,653.7 166.3,657.0 C166.0,660.4 165.8,663.7 165.6,667.1 C165.3,670.4 165.1,673.8 164.9,677.1 C164.7,680.5 164.6,683.9 164.4,687.2 C164.3,690.6 164.2,693.9 164.2,697.3 C164.1,700.7 164.1,704.0 164.1,707.4 C164.1,710.8 164.1,714.1 164.1,717.5 C164.2,720.8 164.2,724.2 164.3,727.6 C164.4,730.9 164.5,734.3 164.7,737.6 C164.9,741.0 165.3,744.3 165.7,747.7 C166.1,751.0 166.6,754.3 167.2,757.6 C167.7,760.9 168.4,764.2 169.1,767.5 C169.8,770.8 170.5,774.1 171.4,777.3 C172.3,780.5 173.2,783.8 174.3,786.9 C175.4,790.1 176.6,793.2 177.9,796.3 C179.2,799.4 180.6,802.5 182.1,805.4 C183.7,808.4 185.3,811.4 187.0,814.2 C188.8,817.1 190.6,819.9 192.6,822.6 C194.5,825.3 196.6,827.9 198.8,830.5 C201.0,833.0 203.3,835.4 205.7,837.7 C208.2,840.0 210.7,842.1 213.4,844.1 C216.1,846.1 218.9,847.9 221.8,849.5 C224.7,851.2 227.7,852.6 230.7,854.0 C233.8,855.4 238.5,857.3 240.0,858.0 Z" fill="#b0b0b0"/>
<path d="M184.5,594.3 C183.8,595.2 182.5,595.6 180.3,599.9 C178.0,604.2 173.6,613.3 171.2,620.3 C168.7,627.3 167.1,634.7 165.8,642.1 C164.5,649.4 164.0,656.9 163.4,664.4 C162.8,671.8 162.3,679.3 162.0,686.8 C161.8,694.2 161.7,701.7 161.6,709.2 C161.6,716.7 161.6,724.2 162.0,731.6 C162.4,739.1 163.0,746.6 164.2,754.0 C165.3,761.3 166.7,768.7 168.6,775.9 C170.6,783.2 172.8,790.4 175.7,797.2 C178.7,804.1 182.2,810.7 186.3,817.0 C190.4,823.2 194.9,829.3 200.1,834.6 C205.3,839.9 211.1,844.8 217.4,848.8 C223.6,852.8 234.1,857.1 237.5,858.7" fill="none" stroke="#7f7f7f" stroke-width="3.8" filter="url(#fb)"/>
<path d="M159.7,599.9 C159.7,599.9 160.5,596.2 159.7,599.9 C158.9,603.6 156.1,614.5 154.6,621.8 C153.2,629.2 151.9,636.6 150.9,644.0 C149.9,651.5 149.2,658.9 148.6,666.4 C147.9,673.9 147.4,681.4 147.0,688.9 C146.7,696.4 146.5,703.9 146.4,711.4 C146.4,718.9 146.5,726.4 147.0,733.9 C147.5,741.4 148.2,748.8 149.4,756.2 C150.6,763.6 152.2,771.0 154.2,778.2 C156.1,785.5 158.2,792.8 161.1,799.6 C164.1,806.5 168.0,813.0 172.1,819.2 C176.2,825.5 180.8,831.5 185.8,837.1 C190.8,842.6 196.2,848.1 202.2,852.4 C208.2,856.7 218.7,861.2 222.0,863.0" fill="none" stroke="#7d7d7d" stroke-width="1.1" filter="url(#fb)"/>
<path d="M170.1,588.2 C169.5,590.2 168.5,594.4 166.9,599.9 C165.3,605.4 162.2,614.1 160.4,621.3 C158.6,628.5 157.2,635.9 156.1,643.3 C155.0,650.7 154.4,658.2 153.7,665.7 C153.1,673.2 152.6,680.7 152.3,688.1 C151.9,695.6 151.8,703.1 151.7,710.6 C151.7,718.1 151.7,725.6 152.2,733.1 C152.7,740.6 153.4,748.1 154.6,755.4 C155.7,762.8 157.3,770.2 159.2,777.4 C161.2,784.7 163.3,791.9 166.2,798.8 C169.2,805.6 173.0,812.2 177.1,818.4 C181.2,824.7 185.7,830.8 190.8,836.2 C195.9,841.7 201.4,846.9 207.5,851.2 C213.6,855.4 224.1,859.8 227.4,861.5" fill="none" stroke="#bfbfbf" stroke-width="3.4" filter="url(#fb)"/>
</g>
<g clip-path="url(#cp10)">
<path d="M295.0,858.0 C296.4,857.1 300.8,854.6 303.6,852.8 C306.4,851.1 309.3,849.3 312.0,847.4 C314.7,845.5 317.4,843.5 320.0,841.4 C322.6,839.3 325.0,837.0 327.4,834.7 C329.8,832.4 332.2,830.0 334.4,827.5 C336.6,825.1 338.8,822.5 340.8,819.9 C342.8,817.2 344.8,814.5 346.6,811.7 C348.3,808.9 350.0,806.0 351.5,803.1 C353.0,800.1 354.4,797.1 355.6,794.0 C356.9,790.9 358.0,787.8 359.0,784.6 C360.0,781.4 361.0,778.2 361.8,775.0 C362.6,771.7 363.3,768.5 363.9,765.2 C364.5,761.9 365.0,758.6 365.4,755.3 C365.9,752.0 366.3,748.7 366.7,745.4 C367.1,742.0 367.5,738.7 367.9,735.4 C368.3,732.1 368.8,728.8 369.1,725.5 C369.4,722.1 369.7,718.8 369.8,715.5 C369.9,712.2 369.9,708.8 369.8,705.5 C369.8,702.1 369.6,698.8 369.5,695.5 C369.3,692.1 369.1,688.8 368.8,685.5 C368.6,682.1 368.2,678.8 367.9,675.5 C367.5,672.1 367.1,668.8 366.7,665.5 C366.3,662.2 365.8,658.9 365.3,655.6 C364.9,652.3 364.4,648.9 364.0,645.6 C363.5,642.3 363.1,639.0 362.5,635.7 C361.9,632.4 361.4,629.1 360.5,626.0 C359.6,622.8 358.6,619.6 357.3,616.6 C356.1,613.6 354.5,610.6 353.0,607.7 C351.6,604.8 349.9,601.9 348.5,598.9 C347.1,596.0 345.0,592.1 344.5,589.9 C344.0,587.7 344.7,586.9 345.5,586.0 C346.3,585.1 347.5,584.1 349.5,584.3 C351.5,584.4 354.5,585.0 357.5,586.9 C360.5,588.8 365.0,592.4 367.4,595.9 C369.8,599.4 370.7,604.2 371.8,607.8 C372.9,611.4 373.2,614.4 373.9,617.7 C374.6,621.0 375.3,624.3 375.9,627.6 C376.6,630.9 377.3,634.3 377.9,637.6 C378.6,640.9 379.2,644.2 379.8,647.5 C380.4,650.8 381.0,654.2 381.6,657.5 C382.1,660.8 382.7,664.2 383.1,667.5 C383.6,670.8 384.0,674.2 384.4,677.5 C384.7,680.9 385.0,684.3 385.3,687.6 C385.5,691.0 385.6,694.4 385.8,697.7 C385.9,701.1 386.0,704.5 386.0,707.8 C386.1,711.2 386.1,714.6 386.0,718.0 C385.9,721.3 385.8,724.7 385.6,728.1 C385.5,731.5 385.2,734.8 385.0,738.2 C384.7,741.6 384.4,744.9 384.1,748.3 C383.7,751.6 383.3,755.0 382.9,758.3 C382.4,761.6 381.8,765.0 381.1,768.3 C380.5,771.6 379.7,774.9 378.9,778.1 C378.0,781.4 377.0,784.6 375.9,787.8 C374.8,790.9 373.6,794.1 372.3,797.2 C370.9,800.2 369.5,803.3 367.9,806.3 C366.3,809.2 364.7,812.2 362.9,815.0 C361.1,817.8 359.2,820.6 357.2,823.3 C355.2,826.0 353.1,828.7 350.9,831.2 C348.7,833.8 346.4,836.3 344.1,838.7 C341.7,841.1 339.3,843.4 336.7,845.6 C334.2,847.8 331.6,850.0 328.9,852.0 C326.2,854.0 323.4,855.9 320.6,857.7 C317.8,859.6 313.4,862.1 312.0,863.0 Z" fill="#8f8f8f"/>
<path d="M345.0,588.0 C345.4,588.6 345.3,587.6 347.2,591.7 C349.2,595.8 353.9,605.4 356.6,612.5 C359.4,619.6 361.9,626.8 363.7,634.2 C365.4,641.6 366.1,649.3 367.1,656.9 C368.1,664.5 369.2,672.0 369.9,679.6 C370.6,687.2 371.2,694.9 371.3,702.5 C371.5,710.1 371.3,717.8 370.8,725.4 C370.2,733.0 369.2,740.6 368.1,748.2 C367.0,755.7 366.1,763.4 364.4,770.8 C362.7,778.2 360.6,785.7 357.8,792.7 C355.0,799.8 351.6,806.7 347.5,813.1 C343.3,819.5 338.4,825.4 333.1,830.9 C327.9,836.5 322.0,841.5 316.0,846.1 C309.9,850.7 299.9,856.4 296.7,858.5" fill="none" stroke="#7c7c7c" stroke-width="4.6" filter="url(#fb)"/>
<path d="M371.8,607.8 C371.8,607.8 371.1,604.2 371.8,607.8 C372.5,611.4 374.8,622.0 376.2,629.1 C377.6,636.2 379.1,643.4 380.3,650.5 C381.6,657.7 382.8,664.8 383.7,672.0 C384.6,679.2 385.2,686.5 385.6,693.7 C385.9,700.9 386.1,708.2 386.0,715.5 C385.9,722.7 385.6,730.0 385.0,737.2 C384.5,744.5 383.9,751.7 382.8,758.9 C381.6,766.0 380.3,773.2 378.2,780.2 C376.2,787.1 373.7,794.0 370.7,800.5 C367.6,807.1 363.9,813.4 359.9,819.4 C355.8,825.4 351.2,831.1 346.2,836.3 C341.3,841.6 335.8,846.6 330.1,851.0 C324.4,855.4 315.0,861.0 312.0,863.0" fill="none" stroke="#7d7d7d" stroke-width="1.6" filter="url(#fb)"/>
<path d="M357.5,586.9 C358.1,589.2 359.2,594.8 360.9,600.6 C362.5,606.4 365.5,614.6 367.5,621.7 C369.5,628.8 371.5,636.0 372.9,643.3 C374.4,650.5 375.4,657.9 376.3,665.3 C377.3,672.7 378.1,680.0 378.6,687.5 C379.1,694.9 379.5,702.3 379.5,709.7 C379.5,717.1 379.2,724.6 378.7,732.0 C378.2,739.4 377.3,746.8 376.2,754.1 C375.1,761.5 374.0,768.8 372.1,776.0 C370.2,783.1 367.9,790.3 364.9,797.1 C362.0,803.8 358.4,810.5 354.3,816.6 C350.2,822.7 345.5,828.6 340.4,833.9 C335.3,839.3 329.7,844.3 323.8,848.8 C318.0,853.3 308.3,859.0 305.2,861.0" fill="none" stroke="#a0a0a0" stroke-width="4.3" filter="url(#fb)"/>
</g>
<path d="M238,846 Q267,838 297,846 L300,866 L236,866 Z" fill="#737373"/>
<ellipse cx="267.5" cy="842.5" rx="15" ry="3.6" fill="#8a8a8a"/>
<ellipse cx="267.5" cy="841.2" rx="14" ry="2.6" fill="#c6c6c6"/>
<ellipse cx="259" cy="838.6" rx="4.5" ry="2.2" fill="#9a9a9a"/>
<ellipse cx="275" cy="839.6" rx="4.5" ry="2.2" fill="#9a9a9a"/>
<g clip-path="url(#cp5)">
<path d="M250.0,866.0 C248.9,864.7 245.5,861.0 243.5,858.4 C241.5,855.7 239.6,853.0 238.0,850.1 C236.3,847.2 234.9,844.1 233.7,841.0 C232.4,837.9 231.3,834.7 230.2,831.5 C229.2,828.3 228.3,825.1 227.4,821.8 C226.5,818.6 225.6,815.3 224.8,812.0 C224.0,808.7 223.2,805.4 222.4,802.2 C221.7,798.9 221.0,795.6 220.3,792.2 C219.7,788.9 219.1,785.6 218.7,782.3 C218.2,778.9 217.8,775.6 217.5,772.2 C217.2,768.8 216.9,765.5 216.7,762.1 C216.5,758.7 216.3,755.4 216.2,752.0 C216.0,748.6 215.9,745.2 215.7,741.9 C215.6,738.5 215.5,735.1 215.4,731.7 C215.3,728.3 215.2,725.0 215.2,721.6 C215.1,718.2 215.1,714.8 215.0,711.4 C215.0,708.1 215.0,704.7 215.0,701.3 C215.0,697.9 215.0,694.5 215.0,691.2 C215.1,687.8 215.1,684.4 215.1,681.0 C215.2,677.6 215.2,674.3 215.3,670.9 C215.3,667.5 215.4,664.1 215.4,660.7 C215.5,657.4 215.5,654.0 215.6,650.6 C215.6,647.2 215.7,643.8 215.8,640.5 C215.8,637.1 215.9,633.7 216.0,630.3 C216.0,626.9 216.1,623.6 216.1,620.2 C216.2,616.8 216.2,613.4 216.3,610.0 C216.3,606.7 216.2,603.3 216.4,599.9 C216.6,596.5 216.2,592.7 217.4,589.9 C218.6,587.1 221.1,584.4 223.4,582.9 C225.7,581.4 228.7,580.7 231.3,580.9 C234.0,581.1 237.5,582.1 239.3,583.9 C241.1,585.7 241.9,588.9 242.3,591.9 C242.7,594.9 242.0,598.4 241.7,601.8 C241.4,605.2 240.8,608.6 240.5,612.0 C240.1,615.5 239.7,618.9 239.4,622.3 C239.2,625.7 239.0,629.2 238.9,632.6 C238.7,636.0 238.7,639.5 238.7,642.9 C238.7,646.3 238.9,649.8 238.9,653.2 C239.0,656.6 239.1,660.1 239.2,663.5 C239.2,667.0 239.3,670.4 239.3,673.8 C239.3,677.3 239.3,680.7 239.4,684.2 C239.4,687.6 239.5,691.0 239.5,694.5 C239.6,697.9 239.7,701.4 239.9,704.8 C240.0,708.2 240.1,711.7 240.3,715.1 C240.5,718.5 240.8,722.0 241.0,725.4 C241.2,728.8 241.5,732.3 241.7,735.7 C242.0,739.1 242.2,742.6 242.4,746.0 C242.6,749.4 242.7,752.9 242.8,756.3 C243.0,759.7 243.1,763.2 243.2,766.6 C243.4,770.0 243.6,773.5 243.9,776.9 C244.1,780.3 244.5,783.7 244.9,787.2 C245.3,790.6 245.8,794.0 246.4,797.4 C247.0,800.7 247.6,804.1 248.3,807.5 C248.9,810.9 249.7,814.2 250.5,817.6 C251.3,820.9 252.3,824.2 253.3,827.5 C254.3,830.8 255.4,834.0 256.6,837.2 C257.8,840.5 259.0,843.6 260.3,846.8 C261.6,850.0 262.9,853.2 264.2,856.4 C265.4,859.6 267.4,864.4 268.0,866.0 Z" fill="#a3a3a3"/>
<path d="M241.9,598.8 C241.6,599.3 241.0,597.8 240.4,601.7 C239.8,605.6 238.8,615.4 238.3,622.2 C237.8,629.1 237.6,636.0 237.6,642.9 C237.5,649.7 237.9,656.6 238.0,663.5 C238.1,670.4 238.1,677.3 238.2,684.2 C238.3,691.0 238.4,697.9 238.6,704.8 C238.9,711.7 239.3,718.5 239.7,725.4 C240.1,732.3 240.7,739.1 241.1,746.0 C241.4,752.9 241.5,759.8 241.9,766.6 C242.4,773.5 242.8,780.4 243.6,787.2 C244.5,794.0 245.6,800.8 247.0,807.6 C248.5,814.3 250.1,821.0 252.1,827.6 C254.1,834.1 256.7,840.6 259.2,847.0 C261.7,853.4 265.8,862.8 267.1,866.0" fill="none" stroke="#878787" stroke-width="8.1" filter="url(#fb)"/>
<path d="M216.4,599.9 C216.4,599.9 216.4,596.4 216.4,599.9 C216.4,603.4 216.2,613.9 216.1,620.9 C216.0,627.9 215.9,634.9 215.8,641.9 C215.6,648.9 215.5,655.9 215.4,663.0 C215.3,670.0 215.2,677.0 215.1,684.0 C215.0,691.0 215.0,698.0 215.0,705.0 C215.0,712.0 215.1,719.0 215.3,726.0 C215.4,733.0 215.6,740.0 216.0,747.0 C216.3,754.0 216.5,761.0 217.2,768.0 C217.8,775.0 218.6,781.9 219.8,788.8 C220.9,795.7 222.5,802.6 224.2,809.4 C225.8,816.2 227.5,823.0 229.7,829.7 C231.9,836.3 234.2,843.1 237.5,849.1 C240.9,855.2 247.9,863.2 250.0,866.0" fill="none" stroke="#7d7d7d" stroke-width="2.5" filter="url(#fb)"/>
<path d="M221.5,585.1 C221.8,587.7 223.3,594.4 223.5,600.4 C223.7,606.5 222.9,614.3 222.6,621.3 C222.4,628.3 222.3,635.2 222.2,642.2 C222.1,649.2 222.1,656.1 222.0,663.1 C222.0,670.1 221.9,677.1 221.9,684.0 C221.9,691.0 221.9,698.0 222.0,704.9 C222.1,711.9 222.2,718.9 222.5,725.8 C222.7,732.8 223.0,739.8 223.4,746.7 C223.7,753.7 223.9,760.7 224.5,767.6 C225.0,774.5 225.7,781.5 226.8,788.4 C227.9,795.2 229.3,802.1 230.9,808.9 C232.5,815.6 234.1,822.4 236.3,829.1 C238.5,835.7 240.8,842.3 243.9,848.5 C247.0,854.7 253.2,863.1 255.0,866.0" fill="none" stroke="#b4b4b4" stroke-width="7.6" filter="url(#fb)"/>
</g>
<g clip-path="url(#cp7)">
<path d="M271.0,866.0 C271.4,864.3 272.7,859.4 273.6,856.1 C274.4,852.7 275.3,849.4 276.1,846.1 C276.9,842.8 277.8,839.5 278.6,836.1 C279.4,832.8 280.2,829.5 281.0,826.2 C281.8,822.8 282.6,819.5 283.3,816.1 C284.0,812.8 284.7,809.5 285.4,806.1 C286.1,802.7 286.7,799.4 287.2,796.0 C287.8,792.6 288.2,789.2 288.7,785.8 C289.1,782.4 289.5,779.0 289.9,775.6 C290.2,772.2 290.6,768.8 290.9,765.4 C291.2,762.0 291.5,758.6 291.7,755.2 C292.0,751.8 292.2,748.4 292.5,744.9 C292.7,741.5 292.9,738.1 293.1,734.7 C293.3,731.3 293.5,727.9 293.6,724.4 C293.8,721.0 293.8,717.6 293.9,714.2 C293.9,710.8 293.8,707.3 293.8,703.9 C293.7,700.5 293.6,697.1 293.5,693.6 C293.4,690.2 293.3,686.8 293.2,683.4 C293.1,679.9 293.0,676.5 292.9,673.1 C292.8,669.7 292.7,666.3 292.6,662.8 C292.5,659.4 292.3,656.0 292.2,652.6 C292.0,649.2 291.8,645.7 291.6,642.3 C291.3,638.9 291.1,635.5 290.7,632.1 C290.3,628.7 289.9,625.3 289.4,621.9 C288.9,618.5 288.2,615.2 287.6,611.8 C286.9,608.5 285.8,605.3 285.4,601.8 C285.0,598.3 284.5,594.0 285.0,591.0 C285.5,588.0 286.7,585.7 288.5,584.0 C290.3,582.3 293.2,581.2 295.8,581.0 C298.4,580.8 301.6,581.5 304.0,583.0 C306.4,584.5 308.6,586.5 310.0,590.0 C311.4,593.5 311.7,599.8 312.1,603.8 C312.5,607.8 312.4,610.6 312.6,614.0 C312.7,617.4 312.9,620.8 313.0,624.2 C313.2,627.6 313.4,631.0 313.5,634.4 C313.7,637.8 313.8,641.3 314.0,644.7 C314.2,648.1 314.3,651.5 314.5,654.9 C314.6,658.3 314.8,661.7 315.0,665.1 C315.1,668.5 315.3,671.9 315.4,675.3 C315.6,678.7 315.7,682.1 315.8,685.5 C316.0,688.9 316.1,692.3 316.2,695.7 C316.3,699.1 316.3,702.5 316.4,706.0 C316.5,709.4 316.5,712.8 316.6,716.2 C316.6,719.6 316.6,723.0 316.7,726.4 C316.7,729.8 316.6,733.2 316.6,736.6 C316.6,740.0 316.5,743.4 316.4,746.8 C316.3,750.3 316.2,753.7 316.0,757.1 C315.8,760.5 315.6,763.9 315.4,767.3 C315.1,770.7 314.8,774.1 314.4,777.4 C314.1,780.8 313.7,784.2 313.2,787.6 C312.8,791.0 312.3,794.3 311.8,797.7 C311.4,801.1 310.9,804.5 310.4,807.8 C310.0,811.2 309.6,814.6 309.0,817.9 C308.4,821.3 307.8,824.6 306.9,827.9 C306.1,831.2 305.1,834.4 304.0,837.6 C303.0,840.9 301.8,844.0 300.5,847.2 C299.3,850.4 298.0,853.5 296.6,856.7 C295.3,859.8 293.2,864.4 292.5,866.0 Z" fill="#a1a1a1"/>
<path d="M311.5,599.7 C311.4,600.3 310.7,599.6 310.8,603.7 C310.8,607.8 311.5,617.3 311.9,624.1 C312.2,630.9 312.5,637.7 312.9,644.5 C313.2,651.3 313.5,658.1 313.8,664.9 C314.1,671.7 314.5,678.5 314.7,685.3 C315.0,692.2 315.2,699.0 315.3,705.8 C315.4,712.6 315.5,719.4 315.5,726.2 C315.5,733.0 315.4,739.8 315.2,746.6 C315.0,753.5 314.7,760.3 314.1,767.1 C313.6,773.8 312.8,780.6 312.0,787.4 C311.2,794.1 310.3,800.9 309.2,807.6 C308.2,814.4 307.3,821.2 305.7,827.7 C304.0,834.3 301.7,840.8 299.3,847.2 C296.9,853.5 292.7,862.9 291.4,866.0" fill="none" stroke="#868686" stroke-width="7.4" filter="url(#fb)"/>
<path d="M285.4,601.8 C285.4,601.8 284.7,598.4 285.4,601.8 C286.1,605.2 288.4,615.2 289.4,621.9 C290.4,628.7 291.1,635.5 291.6,642.4 C292.1,649.2 292.3,656.0 292.6,662.9 C292.9,669.7 293.0,676.5 293.2,683.4 C293.4,690.2 293.7,697.1 293.8,703.9 C293.8,710.8 293.9,717.6 293.6,724.4 C293.4,731.3 292.9,738.1 292.5,745.0 C292.0,751.8 291.5,758.6 290.9,765.4 C290.2,772.2 289.6,779.1 288.7,785.8 C287.8,792.6 286.7,799.4 285.4,806.1 C284.1,812.8 282.5,819.5 281.0,826.2 C279.4,832.8 277.8,839.5 276.1,846.1 C274.4,852.7 271.8,862.7 271.0,866.0" fill="none" stroke="#7d7d7d" stroke-width="2.3" filter="url(#fb)"/>
<path d="M287.8,585.4 C288.7,588.2 292.0,596.2 293.4,602.4 C294.9,608.6 295.7,615.8 296.5,622.6 C297.3,629.4 297.8,636.2 298.3,643.0 C298.8,649.8 299.0,656.7 299.3,663.5 C299.6,670.3 299.8,677.2 300.0,684.0 C300.2,690.8 300.5,697.7 300.6,704.5 C300.6,711.3 300.7,718.2 300.5,725.0 C300.4,731.8 300.0,738.7 299.6,745.5 C299.3,752.3 298.8,759.1 298.2,765.9 C297.6,772.7 296.9,779.6 296.0,786.3 C295.2,793.1 294.1,799.9 292.9,806.6 C291.7,813.3 290.4,820.0 288.8,826.7 C287.2,833.3 285.3,839.9 283.4,846.4 C281.5,853.0 278.4,862.7 277.4,866.0" fill="none" stroke="#b2b2b2" stroke-width="6.9" filter="url(#fb)"/>
</g>
<path d="M220.4,864.5 Q268.5,861 316.2,864.5 L314.8,968 Q314.6,979 303,981.3 Q268.5,985 234.5,981.3 Q223.2,979 223,968 Z" fill="url(#gBase)"/>
<linearGradient id="gBaseV" x1="0" y1="864" x2="0" y2="984" gradientUnits="userSpaceOnUse"><stop offset="0" stop-color="#fff" stop-opacity="0.08"/><stop offset="0.25" stop-color="#fff" stop-opacity="0.04"/><stop offset="0.8" stop-color="#000" stop-opacity="0"/><stop offset="1" stop-color="#000" stop-opacity="0.10"/></linearGradient>
<path d="M220.4,864.5 Q268.5,861 316.2,864.5 L314.8,968 Q314.6,979 303,981.3 Q268.5,985 234.5,981.3 Q223.2,979 223,968 Z" fill="url(#gBaseV)"/>
</g><use href="#massager" x="492" y="0"/>

<linearGradient id="sq1" gradientUnits="userSpaceOnUse" x1="0" y1="736.0" x2="0" y2="901.0"><stop offset="0" stop-color="#1c1c1c" stop-opacity="0"/><stop offset="0.158" stop-color="#1c1c1c" stop-opacity="1"/><stop offset="0.818" stop-color="#1c1c1c" stop-opacity="1"/><stop offset="1" stop-color="#1c1c1c" stop-opacity="0"/></linearGradient>
<path d="M104.5,736.0 C103.9,738.0 101.6,743.7 100.8,748.0 C100.0,752.3 99.8,757.5 99.7,761.8 C99.7,766.1 100.0,770.2 100.5,774.0 C101.0,777.8 101.5,781.5 102.8,784.8 C104.0,788.0 106.0,791.0 108.0,793.5 C110.0,796.0 112.7,797.9 115.0,799.5 C117.3,801.1 120.1,802.0 122.0,803.0 C123.9,804.0 125.2,804.6 126.5,805.5 C127.8,806.4 129.1,807.4 129.8,808.5 C130.5,809.6 130.8,810.7 130.6,812.0 C130.4,813.3 129.5,815.0 128.8,816.5 C128.1,818.0 127.1,819.4 126.6,821.0 C126.1,822.6 125.8,824.2 125.6,826.0 C125.4,827.8 125.4,830.2 125.6,832.0 C125.8,833.8 126.2,835.4 126.9,837.0 C127.6,838.6 128.7,840.2 130.0,841.5 C131.3,842.8 133.1,843.8 135.0,845.0 C136.9,846.2 139.3,847.2 141.5,848.5 C143.7,849.8 146.0,851.0 148.0,852.5 C150.0,854.0 151.9,855.6 153.5,857.5 C155.1,859.4 156.6,861.6 157.5,864.0 C158.4,866.4 158.9,869.3 159.2,872.0 C159.5,874.7 159.5,877.3 159.5,880.0 C159.5,882.7 159.4,885.5 159.2,888.0 C159.0,890.5 158.5,892.8 158.2,895.0 C157.9,897.2 157.4,900.0 157.2,901.0" fill="none" stroke="url(#sq1)" stroke-width="2.5" stroke-linecap="round"/>
<linearGradient id="sq2" gradientUnits="userSpaceOnUse" x1="0" y1="780.0" x2="0" y2="899.0"><stop offset="0" stop-color="#1c1c1c" stop-opacity="0"/><stop offset="0.218" stop-color="#1c1c1c" stop-opacity="1"/><stop offset="0.748" stop-color="#1c1c1c" stop-opacity="1"/><stop offset="1" stop-color="#1c1c1c" stop-opacity="0"/></linearGradient>
<path d="M79.5,780.0 C79.6,781.7 79.9,786.8 80.3,790.0 C80.7,793.2 81.0,796.4 81.9,799.4 C82.8,802.4 83.9,805.5 85.5,808.0 C87.1,810.5 89.3,812.7 91.3,814.5 C93.3,816.3 95.6,817.6 97.5,818.8 C99.4,820.0 101.2,820.8 102.5,821.8 C103.8,822.8 104.7,823.9 105.0,825.0 C105.3,826.1 105.0,827.2 104.6,828.5 C104.2,829.8 103.2,831.1 102.6,832.5 C102.0,833.9 101.3,835.3 101.0,837.0 C100.7,838.7 100.5,840.7 100.8,842.5 C101.0,844.3 101.5,846.2 102.5,848.0 C103.5,849.8 105.2,851.5 107.0,853.0 C108.8,854.5 111.3,855.7 113.5,857.0 C115.7,858.3 118.1,859.5 120.0,861.0 C121.9,862.5 123.6,864.4 124.8,866.3 C126.0,868.2 126.8,870.2 127.3,872.5 C127.8,874.8 128.0,877.2 128.0,880.0 C128.1,882.8 127.8,885.8 127.6,889.0 C127.4,892.2 127.0,897.3 126.9,899.0" fill="none" stroke="url(#sq2)" stroke-width="2.5" stroke-linecap="round"/>
<linearGradient id="sq3" gradientUnits="userSpaceOnUse" x1="0" y1="736.0" x2="0" y2="901.0"><stop offset="0" stop-color="#1c1c1c" stop-opacity="0"/><stop offset="0.158" stop-color="#1c1c1c" stop-opacity="1"/><stop offset="0.818" stop-color="#1c1c1c" stop-opacity="1"/><stop offset="1" stop-color="#1c1c1c" stop-opacity="0"/></linearGradient>
<path d="M429.5,736.0 C430.1,738.0 432.4,743.7 433.2,748.0 C434.0,752.3 434.2,757.5 434.3,761.8 C434.4,766.1 434.0,770.2 433.5,774.0 C433.0,777.8 432.4,781.5 431.2,784.8 C429.9,788.0 428.0,791.0 426.0,793.5 C424.0,796.0 421.3,797.9 419.0,799.5 C416.7,801.1 413.9,802.0 412.0,803.0 C410.1,804.0 408.8,804.6 407.5,805.5 C406.2,806.4 404.9,807.4 404.2,808.5 C403.5,809.6 403.2,810.7 403.4,812.0 C403.6,813.3 404.5,815.0 405.2,816.5 C405.9,818.0 406.9,819.4 407.4,821.0 C407.9,822.6 408.2,824.2 408.4,826.0 C408.6,827.8 408.6,830.2 408.4,832.0 C408.2,833.8 407.8,835.4 407.1,837.0 C406.4,838.6 405.4,840.2 404.0,841.5 C402.6,842.8 400.9,843.8 399.0,845.0 C397.1,846.2 394.7,847.2 392.5,848.5 C390.3,849.8 388.0,851.0 386.0,852.5 C384.0,854.0 382.1,855.6 380.5,857.5 C378.9,859.4 377.4,861.6 376.5,864.0 C375.6,866.4 375.1,869.3 374.8,872.0 C374.5,874.7 374.5,877.3 374.5,880.0 C374.5,882.7 374.6,885.5 374.8,888.0 C375.0,890.5 375.5,892.8 375.8,895.0 C376.1,897.2 376.6,900.0 376.8,901.0" fill="none" stroke="url(#sq3)" stroke-width="2.5" stroke-linecap="round"/>
<linearGradient id="sq4" gradientUnits="userSpaceOnUse" x1="0" y1="780.0" x2="0" y2="899.0"><stop offset="0" stop-color="#1c1c1c" stop-opacity="0"/><stop offset="0.218" stop-color="#1c1c1c" stop-opacity="1"/><stop offset="0.748" stop-color="#1c1c1c" stop-opacity="1"/><stop offset="1" stop-color="#1c1c1c" stop-opacity="0"/></linearGradient>
<path d="M454.5,780.0 C454.4,781.7 454.1,786.8 453.7,790.0 C453.3,793.2 453.0,796.4 452.1,799.4 C451.2,802.4 450.1,805.5 448.5,808.0 C446.9,810.5 444.7,812.7 442.7,814.5 C440.7,816.3 438.4,817.6 436.5,818.8 C434.6,820.0 432.8,820.8 431.5,821.8 C430.2,822.8 429.4,823.9 429.0,825.0 C428.6,826.1 429.0,827.2 429.4,828.5 C429.8,829.8 430.8,831.1 431.4,832.5 C432.0,833.9 432.7,835.3 433.0,837.0 C433.3,838.7 433.4,840.7 433.2,842.5 C432.9,844.3 432.5,846.2 431.5,848.0 C430.5,849.8 428.8,851.5 427.0,853.0 C425.2,854.5 422.7,855.7 420.5,857.0 C418.3,858.3 415.9,859.5 414.0,861.0 C412.1,862.5 410.4,864.4 409.2,866.3 C408.0,868.2 407.2,870.2 406.7,872.5 C406.2,874.8 406.1,877.2 406.0,880.0 C405.9,882.8 406.2,885.8 406.4,889.0 C406.6,892.2 407.0,897.3 407.1,899.0" fill="none" stroke="url(#sq4)" stroke-width="2.5" stroke-linecap="round"/>
<linearGradient id="sq5" gradientUnits="userSpaceOnUse" x1="0" y1="736.0" x2="0" y2="905.0"><stop offset="0" stop-color="#1c1c1c" stop-opacity="0"/><stop offset="0.154" stop-color="#1c1c1c" stop-opacity="1"/><stop offset="0.822" stop-color="#1c1c1c" stop-opacity="1"/><stop offset="1" stop-color="#1c1c1c" stop-opacity="0"/></linearGradient>
<path d="M596.6,736.0 C596.0,738.0 593.7,743.7 592.9,748.0 C592.1,752.3 591.9,757.5 591.8,761.8 C591.8,766.1 592.1,770.2 592.6,774.0 C593.1,777.8 593.6,781.5 594.9,784.8 C596.1,788.0 598.1,791.0 600.1,793.5 C602.1,796.0 604.8,797.9 607.1,799.5 C609.4,801.1 612.2,802.0 614.1,803.0 C616.0,804.0 617.3,804.6 618.6,805.5 C619.9,806.4 621.2,807.4 621.9,808.5 C622.6,809.6 622.9,810.7 622.7,812.0 C622.5,813.3 621.6,815.0 620.9,816.5 C620.2,818.0 619.2,819.4 618.7,821.0 C618.2,822.6 617.9,824.2 617.7,826.0 C617.5,827.8 617.5,830.2 617.7,832.0 C617.9,833.8 618.3,835.4 619.0,837.0 C619.7,838.6 620.8,840.2 622.1,841.5 C623.5,842.8 625.2,843.8 627.1,845.0 C629.0,846.2 631.4,847.2 633.6,848.5 C635.8,849.8 638.1,851.0 640.1,852.5 C642.1,854.0 644.0,855.6 645.6,857.5 C647.2,859.4 648.7,861.6 649.6,864.0 C650.5,866.4 651.0,869.3 651.3,872.0 C651.6,874.7 651.6,877.3 651.6,880.0 C651.6,882.7 651.5,885.5 651.3,888.0 C651.1,890.5 650.6,892.2 650.3,895.0 C650.0,897.8 649.5,903.3 649.3,905.0" fill="none" stroke="url(#sq5)" stroke-width="2.5" stroke-linecap="round"/>
<linearGradient id="sq6" gradientUnits="userSpaceOnUse" x1="0" y1="736.0" x2="0" y2="905.0"><stop offset="0" stop-color="#1c1c1c" stop-opacity="0"/><stop offset="0.154" stop-color="#1c1c1c" stop-opacity="1"/><stop offset="0.822" stop-color="#1c1c1c" stop-opacity="1"/><stop offset="1" stop-color="#1c1c1c" stop-opacity="0"/></linearGradient>
<path d="M924.4,736.0 C925.0,738.0 927.3,743.7 928.1,748.0 C928.9,752.3 929.1,757.5 929.2,761.8 C929.2,766.1 928.9,770.2 928.4,774.0 C927.9,777.8 927.4,781.5 926.1,784.8 C924.9,788.0 922.9,791.0 920.9,793.5 C918.9,796.0 916.2,797.9 913.9,799.5 C911.6,801.1 908.8,802.0 906.9,803.0 C905.0,804.0 903.7,804.6 902.4,805.5 C901.1,806.4 899.8,807.4 899.1,808.5 C898.4,809.6 898.1,810.7 898.3,812.0 C898.5,813.3 899.4,815.0 900.1,816.5 C900.8,818.0 901.8,819.4 902.3,821.0 C902.8,822.6 903.1,824.2 903.3,826.0 C903.5,827.8 903.5,830.2 903.3,832.0 C903.1,833.8 902.7,835.4 902.0,837.0 C901.3,838.6 900.2,840.2 898.9,841.5 C897.5,842.8 895.8,843.8 893.9,845.0 C892.0,846.2 889.6,847.2 887.4,848.5 C885.2,849.8 882.9,851.0 880.9,852.5 C878.9,854.0 877.0,855.6 875.4,857.5 C873.8,859.4 872.3,861.6 871.4,864.0 C870.5,866.4 870.0,869.3 869.7,872.0 C869.4,874.7 869.4,877.3 869.4,880.0 C869.4,882.7 869.5,885.5 869.7,888.0 C869.9,890.5 870.4,892.2 870.7,895.0 C871.0,897.8 871.5,903.3 871.7,905.0" fill="none" stroke="url(#sq6)" stroke-width="2.5" stroke-linecap="round"/>
<linearGradient id="sq7" gradientUnits="userSpaceOnUse" x1="0" y1="777.0" x2="0" y2="897.0"><stop offset="0" stop-color="#1c1c1c" stop-opacity="0"/><stop offset="0.217" stop-color="#1c1c1c" stop-opacity="1"/><stop offset="0.750" stop-color="#1c1c1c" stop-opacity="1"/><stop offset="1" stop-color="#1c1c1c" stop-opacity="0"/></linearGradient>
<path d="M582.2,777.0 C581.9,778.7 580.9,784.0 580.6,787.0 C580.4,790.0 580.3,792.4 580.7,795.2 C581.1,798.0 582.0,801.3 583.2,804.0 C584.4,806.7 586.1,809.3 588.0,811.5 C589.9,813.7 592.5,815.5 594.5,817.0 C596.5,818.5 598.4,819.4 599.8,820.6 C601.2,821.8 602.4,822.8 602.8,824.0 C603.2,825.2 602.8,826.5 602.4,827.8 C602.0,829.1 600.8,830.5 600.2,832.0 C599.6,833.5 598.8,835.2 598.6,837.0 C598.4,838.8 598.4,840.7 598.8,842.5 C599.2,844.3 599.8,846.2 601.0,847.8 C602.2,849.4 604.1,851.0 606.0,852.3 C607.9,853.6 610.3,854.5 612.5,855.8 C614.7,857.1 617.2,858.4 619.0,860.0 C620.8,861.6 622.2,863.5 623.3,865.5 C624.3,867.5 624.9,869.6 625.3,872.0 C625.7,874.4 625.7,877.2 625.6,880.0 C625.5,882.8 625.0,886.2 624.5,889.0 C624.0,891.8 622.8,895.7 622.5,897.0" fill="none" stroke="url(#sq7)" stroke-width="2.5" stroke-linecap="round"/>
<linearGradient id="sq8" gradientUnits="userSpaceOnUse" x1="0" y1="777.0" x2="0" y2="897.0"><stop offset="0" stop-color="#1c1c1c" stop-opacity="0"/><stop offset="0.217" stop-color="#1c1c1c" stop-opacity="1"/><stop offset="0.750" stop-color="#1c1c1c" stop-opacity="1"/><stop offset="1" stop-color="#1c1c1c" stop-opacity="0"/></linearGradient>
<path d="M938.8,777.0 C939.1,778.7 940.1,784.0 940.4,787.0 C940.6,790.0 940.7,792.4 940.3,795.2 C939.9,798.0 939.0,801.3 937.8,804.0 C936.6,806.7 934.9,809.3 933.0,811.5 C931.1,813.7 928.5,815.5 926.5,817.0 C924.5,818.5 922.6,819.4 921.2,820.6 C919.8,821.8 918.6,822.8 918.2,824.0 C917.8,825.2 918.2,826.5 918.6,827.8 C919.0,829.1 920.2,830.5 920.8,832.0 C921.4,833.5 922.2,835.2 922.4,837.0 C922.6,838.8 922.6,840.7 922.2,842.5 C921.8,844.3 921.2,846.2 920.0,847.8 C918.8,849.4 916.9,851.0 915.0,852.3 C913.1,853.6 910.7,854.5 908.5,855.8 C906.3,857.1 903.8,858.4 902.0,860.0 C900.2,861.6 898.8,863.5 897.7,865.5 C896.7,867.5 896.1,869.6 895.7,872.0 C895.3,874.4 895.3,877.2 895.4,880.0 C895.5,882.8 896.0,886.2 896.5,889.0 C897.0,891.8 898.2,895.7 898.5,897.0" fill="none" stroke="url(#sq8)" stroke-width="2.5" stroke-linecap="round"/>
<linearGradient id="sq9" gradientUnits="userSpaceOnUse" x1="0" y1="799.0" x2="0" y2="899.0"><stop offset="0" stop-color="#1c1c1c" stop-opacity="0"/><stop offset="0.260" stop-color="#1c1c1c" stop-opacity="1"/><stop offset="0.700" stop-color="#1c1c1c" stop-opacity="1"/><stop offset="1" stop-color="#1c1c1c" stop-opacity="0"/></linearGradient>
<path d="M565.0,799.0 C565.0,800.5 565.0,805.2 565.2,808.0 C565.4,810.8 565.4,813.3 566.0,816.0 C566.6,818.7 567.6,821.6 568.8,824.0 C570.0,826.4 571.7,828.5 573.4,830.3 C575.1,832.0 577.4,833.3 579.0,834.5 C580.6,835.7 582.1,836.5 583.0,837.5 C583.9,838.5 584.4,839.5 584.5,840.5 C584.6,841.5 584.1,842.6 583.6,843.8 C583.1,845.0 581.8,846.2 581.2,847.5 C580.6,848.8 579.9,850.1 579.8,851.5 C579.7,852.9 579.9,854.6 580.6,856.0 C581.3,857.4 582.4,858.7 584.0,860.0 C585.6,861.3 588.1,862.5 590.0,863.8 C591.9,865.1 594.1,866.3 595.6,867.8 C597.1,869.3 598.4,871.0 599.3,873.0 C600.2,875.0 600.6,877.2 600.8,879.5 C601.0,881.8 601.0,883.8 600.6,887.0 C600.2,890.2 598.9,897.0 598.5,899.0" fill="none" stroke="url(#sq9)" stroke-width="2.5" stroke-linecap="round"/>
<linearGradient id="sq10" gradientUnits="userSpaceOnUse" x1="0" y1="799.0" x2="0" y2="899.0"><stop offset="0" stop-color="#1c1c1c" stop-opacity="0"/><stop offset="0.260" stop-color="#1c1c1c" stop-opacity="1"/><stop offset="0.700" stop-color="#1c1c1c" stop-opacity="1"/><stop offset="1" stop-color="#1c1c1c" stop-opacity="0"/></linearGradient>
<path d="M956.0,799.0 C956.0,800.5 956.0,805.2 955.8,808.0 C955.6,810.8 955.6,813.3 955.0,816.0 C954.4,818.7 953.4,821.6 952.2,824.0 C951.0,826.4 949.3,828.5 947.6,830.3 C945.9,832.0 943.6,833.3 942.0,834.5 C940.4,835.7 938.9,836.5 938.0,837.5 C937.1,838.5 936.6,839.5 936.5,840.5 C936.4,841.5 936.9,842.6 937.4,843.8 C937.9,845.0 939.2,846.2 939.8,847.5 C940.4,848.8 941.1,850.1 941.2,851.5 C941.3,852.9 941.1,854.6 940.4,856.0 C939.7,857.4 938.6,858.7 937.0,860.0 C935.4,861.3 932.9,862.5 931.0,863.8 C929.1,865.1 926.9,866.3 925.4,867.8 C923.9,869.3 922.6,871.0 921.7,873.0 C920.8,875.0 920.4,877.2 920.2,879.5 C920.0,881.8 920.0,883.8 920.4,887.0 C920.8,890.2 922.1,897.0 922.5,899.0" fill="none" stroke="url(#sq10)" stroke-width="2.5" stroke-linecap="round"/>
<path d="M193.5,904.5 L194.6,905.6 L195.3,906.7 L195.6,907.8 L195.3,908.9 L194.6,910.0 L193.5,911.1 L192.4,912.2 L191.7,913.3 L191.4,914.4 L191.7,915.5 L192.4,916.5 L193.5,917.6 L194.6,918.7 L195.3,919.8 L195.6,920.9 L195.3,922.0 L194.6,923.1 L193.5,924.2 L192.4,925.3 L191.7,926.4 L191.4,927.5 L191.7,928.6 L192.5,929.7 L193.5,930.8 L194.6,931.9 L195.3,933.0 L195.6,934.1 L195.3,935.2 L194.6,936.3 L193.5,937.4 L192.4,938.5 L191.7,939.5 L191.4,940.6 L191.7,941.7 L192.4,942.8 L193.5,943.9 L194.6,945.0 L195.3,946.1 L195.6,947.2 L195.3,948.3 L194.6,949.4 L193.5,950.5" fill="none" stroke="#3fbe8a" stroke-width="1.7" stroke-linecap="round" stroke-linejoin="round"/>
<path d="M200.5,904.5 L201.6,905.6 L202.3,906.7 L202.6,907.8 L202.3,908.9 L201.6,910.0 L200.5,911.1 L199.4,912.2 L198.7,913.3 L198.4,914.4 L198.7,915.5 L199.4,916.5 L200.5,917.6 L201.6,918.7 L202.3,919.8 L202.6,920.9 L202.3,922.0 L201.6,923.1 L200.5,924.2 L199.4,925.3 L198.7,926.4 L198.4,927.5 L198.7,928.6 L199.5,929.7 L200.5,930.8 L201.6,931.9 L202.3,933.0 L202.6,934.1 L202.3,935.2 L201.6,936.3 L200.5,937.4 L199.4,938.5 L198.7,939.5 L198.4,940.6 L198.7,941.7 L199.4,942.8 L200.5,943.9 L201.6,945.0 L202.3,946.1 L202.6,947.2 L202.3,948.3 L201.6,949.4 L200.5,950.5" fill="none" stroke="#3fbe8a" stroke-width="1.7" stroke-linecap="round" stroke-linejoin="round"/>
<path d="M335.8,906.0 L336.9,907.0 L337.6,908.1 L337.9,909.1 L337.6,910.1 L336.9,911.2 L335.8,912.2 L334.8,913.2 L334.0,914.3 L333.7,915.3 L334.0,916.4 L334.8,917.4 L335.8,918.4 L336.9,919.5 L337.6,920.5 L337.9,921.5 L337.6,922.6 L336.9,923.6 L335.8,924.6 L334.8,925.7 L334.0,926.7 L333.7,927.8 L334.0,928.8 L334.8,929.8 L335.8,930.9 L336.9,931.9 L337.6,932.9 L337.9,934.0 L337.6,935.0 L336.9,936.0 L335.8,937.1 L334.8,938.1 L334.0,939.1 L333.7,940.2 L334.0,941.2 L334.8,942.2 L335.8,943.3 L336.9,944.3 L337.6,945.4 L337.9,946.4 L337.6,947.4 L336.9,948.5 L335.8,949.5" fill="none" stroke="#3fbe8a" stroke-width="1.7" stroke-linecap="round" stroke-linejoin="round"/>
<path d="M343.0,906.0 L344.1,907.0 L344.8,908.1 L345.1,909.1 L344.8,910.1 L344.1,911.2 L343.0,912.2 L341.9,913.2 L341.2,914.3 L340.9,915.3 L341.2,916.4 L341.9,917.4 L343.0,918.4 L344.1,919.5 L344.8,920.5 L345.1,921.5 L344.8,922.6 L344.1,923.6 L343.0,924.6 L341.9,925.7 L341.2,926.7 L340.9,927.8 L341.2,928.8 L341.9,929.8 L343.0,930.9 L344.1,931.9 L344.8,932.9 L345.1,934.0 L344.8,935.0 L344.1,936.0 L343.0,937.1 L341.9,938.1 L341.2,939.1 L340.9,940.2 L341.2,941.2 L341.9,942.2 L343.0,943.3 L344.1,944.3 L344.8,945.4 L345.1,946.4 L344.8,947.4 L344.1,948.5 L343.0,949.5" fill="none" stroke="#3fbe8a" stroke-width="1.7" stroke-linecap="round" stroke-linejoin="round"/>
<path d="M686.0,904.5 L687.0,905.6 L687.8,906.7 L688.1,907.8 L687.8,908.9 L687.0,910.0 L686.0,911.1 L685.0,912.2 L684.2,913.3 L683.9,914.4 L684.2,915.5 L685.0,916.5 L686.0,917.6 L687.0,918.7 L687.8,919.8 L688.1,920.9 L687.8,922.0 L687.0,923.1 L686.0,924.2 L685.0,925.3 L684.2,926.4 L683.9,927.5 L684.2,928.6 L685.0,929.7 L686.0,930.8 L687.0,931.9 L687.8,933.0 L688.1,934.1 L687.8,935.2 L687.0,936.3 L686.0,937.4 L685.0,938.5 L684.2,939.5 L683.9,940.6 L684.2,941.7 L685.0,942.8 L686.0,943.9 L687.0,945.0 L687.8,946.1 L688.1,947.2 L687.8,948.3 L687.0,949.4 L686.0,950.5" fill="none" stroke="#3fbe8a" stroke-width="1.7" stroke-linecap="round" stroke-linejoin="round"/>
<path d="M692.4,904.5 L693.4,905.6 L694.2,906.7 L694.5,907.8 L694.2,908.9 L693.4,910.0 L692.4,911.1 L691.4,912.2 L690.6,913.3 L690.3,914.4 L690.6,915.5 L691.4,916.5 L692.4,917.6 L693.4,918.7 L694.2,919.8 L694.5,920.9 L694.2,922.0 L693.4,923.1 L692.4,924.2 L691.4,925.3 L690.6,926.4 L690.3,927.5 L690.6,928.6 L691.4,929.7 L692.4,930.8 L693.4,931.9 L694.2,933.0 L694.5,934.1 L694.2,935.2 L693.4,936.3 L692.4,937.4 L691.4,938.5 L690.6,939.5 L690.3,940.6 L690.6,941.7 L691.4,942.8 L692.4,943.9 L693.4,945.0 L694.2,946.1 L694.5,947.2 L694.2,948.3 L693.4,949.4 L692.4,950.5" fill="none" stroke="#3fbe8a" stroke-width="1.7" stroke-linecap="round" stroke-linejoin="round"/>
<path d="M699.0,904.5 L700.0,905.6 L700.8,906.7 L701.1,907.8 L700.8,908.9 L700.0,910.0 L699.0,911.1 L698.0,912.2 L697.2,913.3 L696.9,914.4 L697.2,915.5 L698.0,916.5 L699.0,917.6 L700.0,918.7 L700.8,919.8 L701.1,920.9 L700.8,922.0 L700.0,923.1 L699.0,924.2 L698.0,925.3 L697.2,926.4 L696.9,927.5 L697.2,928.6 L698.0,929.7 L699.0,930.8 L700.0,931.9 L700.8,933.0 L701.1,934.1 L700.8,935.2 L700.0,936.3 L699.0,937.4 L698.0,938.5 L697.2,939.5 L696.9,940.6 L697.2,941.7 L698.0,942.8 L699.0,943.9 L700.0,945.0 L700.8,946.1 L701.1,947.2 L700.8,948.3 L700.0,949.4 L699.0,950.5" fill="none" stroke="#3fbe8a" stroke-width="1.7" stroke-linecap="round" stroke-linejoin="round"/>
<path d="M822.3,906.0 L823.3,907.0 L824.1,908.1 L824.4,909.1 L824.1,910.1 L823.3,911.2 L822.3,912.2 L821.2,913.2 L820.5,914.3 L820.2,915.3 L820.5,916.4 L821.2,917.4 L822.3,918.4 L823.3,919.5 L824.1,920.5 L824.4,921.5 L824.1,922.6 L823.3,923.6 L822.3,924.6 L821.2,925.7 L820.5,926.7 L820.2,927.8 L820.5,928.8 L821.2,929.8 L822.3,930.9 L823.3,931.9 L824.1,932.9 L824.4,934.0 L824.1,935.0 L823.3,936.0 L822.3,937.1 L821.2,938.1 L820.5,939.1 L820.2,940.2 L820.5,941.2 L821.2,942.2 L822.3,943.3 L823.3,944.3 L824.1,945.4 L824.4,946.4 L824.1,947.4 L823.3,948.5 L822.3,949.5" fill="none" stroke="#3fbe8a" stroke-width="1.7" stroke-linecap="round" stroke-linejoin="round"/>
<path d="M829.0,906.0 L830.0,907.0 L830.8,908.1 L831.1,909.1 L830.8,910.1 L830.0,911.2 L829.0,912.2 L828.0,913.2 L827.2,914.3 L826.9,915.3 L827.2,916.4 L828.0,917.4 L829.0,918.4 L830.0,919.5 L830.8,920.5 L831.1,921.5 L830.8,922.6 L830.0,923.6 L829.0,924.6 L828.0,925.7 L827.2,926.7 L826.9,927.8 L827.2,928.8 L828.0,929.8 L829.0,930.9 L830.0,931.9 L830.8,932.9 L831.1,934.0 L830.8,935.0 L830.0,936.0 L829.0,937.1 L828.0,938.1 L827.2,939.1 L826.9,940.2 L827.2,941.2 L828.0,942.2 L829.0,943.3 L830.0,944.3 L830.8,945.4 L831.1,946.4 L830.8,947.4 L830.0,948.5 L829.0,949.5" fill="none" stroke="#3fbe8a" stroke-width="1.7" stroke-linecap="round" stroke-linejoin="round"/>
<path d="M835.5,906.0 L836.5,907.0 L837.3,908.1 L837.6,909.1 L837.3,910.1 L836.5,911.2 L835.5,912.2 L834.5,913.2 L833.7,914.3 L833.4,915.3 L833.7,916.4 L834.5,917.4 L835.5,918.4 L836.5,919.5 L837.3,920.5 L837.6,921.5 L837.3,922.6 L836.5,923.6 L835.5,924.6 L834.5,925.7 L833.7,926.7 L833.4,927.8 L833.7,928.8 L834.5,929.8 L835.5,930.9 L836.5,931.9 L837.3,932.9 L837.6,934.0 L837.3,935.0 L836.5,936.0 L835.5,937.1 L834.5,938.1 L833.7,939.1 L833.4,940.2 L833.7,941.2 L834.5,942.2 L835.5,943.3 L836.5,944.3 L837.3,945.4 L837.6,946.4 L837.3,947.4 L836.5,948.5 L835.5,949.5" fill="none" stroke="#3fbe8a" stroke-width="1.7" stroke-linecap="round" stroke-linejoin="round"/>
</svg>
</body></html>
